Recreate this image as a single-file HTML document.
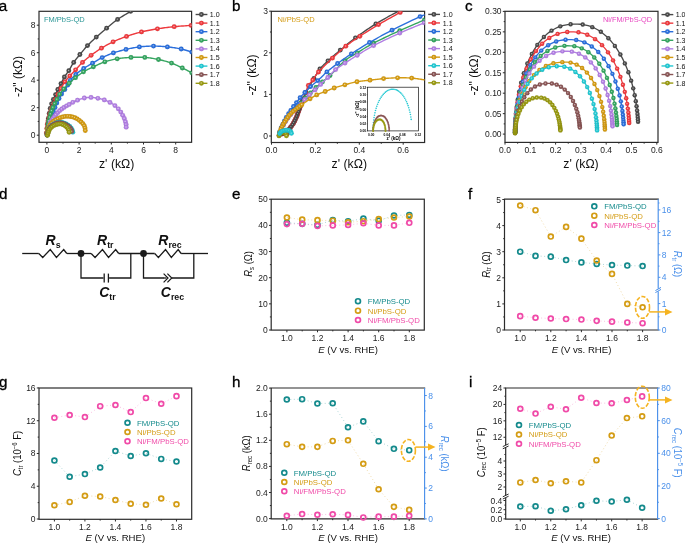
<!DOCTYPE html><html><head><meta charset="utf-8"><style>html,body{margin:0;padding:0;background:#fff;}svg{display:block;will-change:transform;}</style></head><body>
<svg width="685" height="544" viewBox="0 0 685 544" font-family='"Liberation Sans", sans-serif'>
<rect width="685" height="544" fill="#fff"/>
<defs>
<clipPath id="ca"><rect x="39" y="11.3" width="152.6" height="131"/></clipPath>
<clipPath id="cb"><rect x="271.3" y="11.3" width="153.3" height="131"/></clipPath>
<clipPath id="cc"><rect x="505" y="11.3" width="153" height="131"/></clipPath>
</defs>
<text x="-1.2" y="10.9" font-size="15.2" text-anchor="start" fill="#000" stroke="#000" stroke-width="0.3">a</text>
<text x="232" y="11" font-size="15.2" text-anchor="start" fill="#000" stroke="#000" stroke-width="0.3">b</text>
<text x="465" y="11" font-size="15.2" text-anchor="start" fill="#000" stroke="#000" stroke-width="0.3">c</text>
<text x="-1" y="199" font-size="15.2" text-anchor="start" fill="#000" stroke="#000" stroke-width="0.3">d</text>
<text x="232" y="199" font-size="15.2" text-anchor="start" fill="#000" stroke="#000" stroke-width="0.3">e</text>
<text x="468" y="199" font-size="15.2" text-anchor="start" fill="#000" stroke="#000" stroke-width="0.3">f</text>
<text x="-1" y="387" font-size="15.2" text-anchor="start" fill="#000" stroke="#000" stroke-width="0.3">g</text>
<text x="232" y="387" font-size="15.2" text-anchor="start" fill="#000" stroke="#000" stroke-width="0.3">h</text>
<text x="469" y="387" font-size="15.2" text-anchor="start" fill="#000" stroke="#000" stroke-width="0.3">i</text>
<rect x="39" y="11.3" width="152.6" height="131" fill="none" stroke="#2b2b2b" stroke-width="1.2"/>
<line x1="36.8" y1="135.2" x2="39" y2="135.2" stroke="#2b2b2b" stroke-width="1.0" />
<text x="35.6" y="138.2" font-size="8.5" text-anchor="end" fill="#222" >0</text>
<line x1="36.8" y1="107.7" x2="39" y2="107.7" stroke="#2b2b2b" stroke-width="1.0" />
<text x="35.6" y="110.7" font-size="8.5" text-anchor="end" fill="#222" >2</text>
<line x1="36.8" y1="80.2" x2="39" y2="80.2" stroke="#2b2b2b" stroke-width="1.0" />
<text x="35.6" y="83.2" font-size="8.5" text-anchor="end" fill="#222" >4</text>
<line x1="36.8" y1="52.7" x2="39" y2="52.7" stroke="#2b2b2b" stroke-width="1.0" />
<text x="35.6" y="55.7" font-size="8.5" text-anchor="end" fill="#222" >6</text>
<line x1="36.8" y1="25.2" x2="39" y2="25.2" stroke="#2b2b2b" stroke-width="1.0" />
<text x="35.6" y="28.2" font-size="8.5" text-anchor="end" fill="#222" >8</text>
<line x1="37.7" y1="121.45" x2="39" y2="121.45" stroke="#2b2b2b" stroke-width="1.0" />
<line x1="37.7" y1="93.95" x2="39" y2="93.95" stroke="#2b2b2b" stroke-width="1.0" />
<line x1="37.7" y1="66.45" x2="39" y2="66.45" stroke="#2b2b2b" stroke-width="1.0" />
<line x1="37.7" y1="38.95" x2="39" y2="38.95" stroke="#2b2b2b" stroke-width="1.0" />
<line x1="46.9" y1="142.3" x2="46.9" y2="144.5" stroke="#2b2b2b" stroke-width="1.0" />
<text x="46.9" y="153.3" font-size="8.5" text-anchor="middle" fill="#222" >0</text>
<line x1="79.1" y1="142.3" x2="79.1" y2="144.5" stroke="#2b2b2b" stroke-width="1.0" />
<text x="79.1" y="153.3" font-size="8.5" text-anchor="middle" fill="#222" >2</text>
<line x1="111.3" y1="142.3" x2="111.3" y2="144.5" stroke="#2b2b2b" stroke-width="1.0" />
<text x="111.3" y="153.3" font-size="8.5" text-anchor="middle" fill="#222" >4</text>
<line x1="143.5" y1="142.3" x2="143.5" y2="144.5" stroke="#2b2b2b" stroke-width="1.0" />
<text x="143.5" y="153.3" font-size="8.5" text-anchor="middle" fill="#222" >6</text>
<line x1="175.7" y1="142.3" x2="175.7" y2="144.5" stroke="#2b2b2b" stroke-width="1.0" />
<text x="175.7" y="153.3" font-size="8.5" text-anchor="middle" fill="#222" >8</text>
<line x1="63" y1="142.3" x2="63" y2="143.6" stroke="#2b2b2b" stroke-width="1.0" />
<line x1="95.2" y1="142.3" x2="95.2" y2="143.6" stroke="#2b2b2b" stroke-width="1.0" />
<line x1="127.4" y1="142.3" x2="127.4" y2="143.6" stroke="#2b2b2b" stroke-width="1.0" />
<line x1="159.6" y1="142.3" x2="159.6" y2="143.6" stroke="#2b2b2b" stroke-width="1.0" />
<text x="116.7" y="168" font-size="12.3" text-anchor="middle" fill="#111" >z' (kΩ)</text>
<text transform="translate(21.6,76.4) rotate(-90) scale(0.95,1)" font-size="12.8" text-anchor="middle" fill="#111">-z" (kΩ)</text>
<text x="43.9" y="22.4" font-size="7.5" text-anchor="start" fill="#2a9696" >FM/PbS-QD</text>
<line x1="195.6" y1="14.5" x2="207.4" y2="14.5" stroke="#4a4a4a" stroke-width="1.4" />
<circle cx="201.40" cy="14.50" r="2.4" fill="#4a4a4a" stroke="#000" stroke-opacity="0.12" stroke-width="0.4"/>
<circle cx="201.20" cy="14.25" r="0.72" fill="#fff" fill-opacity="0.55"/>
<text x="209.8" y="17.05" font-size="7.1" text-anchor="start" fill="#111" >1.0</text>
<line x1="195.6" y1="23.1" x2="207.4" y2="23.1" stroke="#ee3a3e" stroke-width="1.4" />
<circle cx="201.40" cy="23.10" r="2.4" fill="#ee3a3e" stroke="#000" stroke-opacity="0.12" stroke-width="0.4"/>
<circle cx="201.20" cy="22.85" r="0.72" fill="#fff" fill-opacity="0.55"/>
<text x="209.8" y="25.65" font-size="7.1" text-anchor="start" fill="#111" >1.1</text>
<line x1="195.6" y1="31.7" x2="207.4" y2="31.7" stroke="#2b6fdc" stroke-width="1.4" />
<circle cx="201.40" cy="31.70" r="2.4" fill="#2b6fdc" stroke="#000" stroke-opacity="0.12" stroke-width="0.4"/>
<circle cx="201.20" cy="31.45" r="0.72" fill="#fff" fill-opacity="0.55"/>
<text x="209.8" y="34.25" font-size="7.1" text-anchor="start" fill="#111" >1.2</text>
<line x1="195.6" y1="40.3" x2="207.4" y2="40.3" stroke="#35a560" stroke-width="1.4" />
<circle cx="201.40" cy="40.30" r="2.4" fill="#35a560" stroke="#000" stroke-opacity="0.12" stroke-width="0.4"/>
<circle cx="201.20" cy="40.05" r="0.72" fill="#fff" fill-opacity="0.55"/>
<text x="209.8" y="42.85" font-size="7.1" text-anchor="start" fill="#111" >1.3</text>
<line x1="195.6" y1="48.9" x2="207.4" y2="48.9" stroke="#b27fe3" stroke-width="1.4" />
<circle cx="201.40" cy="48.90" r="2.4" fill="#b27fe3" stroke="#000" stroke-opacity="0.12" stroke-width="0.4"/>
<circle cx="201.20" cy="48.65" r="0.72" fill="#fff" fill-opacity="0.55"/>
<text x="209.8" y="51.45" font-size="7.1" text-anchor="start" fill="#111" >1.4</text>
<line x1="195.6" y1="57.5" x2="207.4" y2="57.5" stroke="#d49b12" stroke-width="1.4" />
<circle cx="201.40" cy="57.50" r="2.4" fill="#d49b12" stroke="#000" stroke-opacity="0.12" stroke-width="0.4"/>
<circle cx="201.20" cy="57.25" r="0.72" fill="#fff" fill-opacity="0.55"/>
<text x="209.8" y="60.05" font-size="7.1" text-anchor="start" fill="#111" >1.5</text>
<line x1="195.6" y1="66.1" x2="207.4" y2="66.1" stroke="#22c8d2" stroke-width="1.4" />
<circle cx="201.40" cy="66.10" r="2.4" fill="#22c8d2" stroke="#000" stroke-opacity="0.12" stroke-width="0.4"/>
<circle cx="201.20" cy="65.85" r="0.72" fill="#fff" fill-opacity="0.55"/>
<text x="209.8" y="68.65" font-size="7.1" text-anchor="start" fill="#111" >1.6</text>
<line x1="195.6" y1="74.7" x2="207.4" y2="74.7" stroke="#8a5656" stroke-width="1.4" />
<circle cx="201.40" cy="74.70" r="2.4" fill="#8a5656" stroke="#000" stroke-opacity="0.12" stroke-width="0.4"/>
<circle cx="201.20" cy="74.45" r="0.72" fill="#fff" fill-opacity="0.55"/>
<text x="209.8" y="77.25" font-size="7.1" text-anchor="start" fill="#111" >1.7</text>
<line x1="195.6" y1="83.3" x2="207.4" y2="83.3" stroke="#999a12" stroke-width="1.4" />
<circle cx="201.40" cy="83.30" r="2.4" fill="#999a12" stroke="#000" stroke-opacity="0.12" stroke-width="0.4"/>
<circle cx="201.20" cy="83.05" r="0.72" fill="#fff" fill-opacity="0.55"/>
<text x="209.8" y="85.85" font-size="7.1" text-anchor="start" fill="#111" >1.8</text>
<g clip-path="url(#ca)">
<path d="M47.30,135.00 L47.31,134.68 L47.32,134.28 L47.33,133.80 L47.35,133.26 L47.36,132.68 L47.38,132.06 L47.40,131.43 L47.42,130.80 L47.44,130.17 L47.46,129.57 L47.48,129.01 L47.50,128.50 L47.52,128.03 L47.54,127.58 L47.56,127.14 L47.58,126.72 L47.60,126.31 L47.62,125.91 L47.65,125.51 L47.67,125.11 L47.70,124.71 L47.73,124.32 L47.76,123.91 L47.80,123.50 L47.84,123.08 L47.88,122.67 L47.92,122.25 L47.97,121.83 L48.02,121.42 L48.07,121.00 L48.12,120.58 L48.17,120.17 L48.23,119.75 L48.28,119.33 L48.34,118.92 L48.40,118.50 L48.46,118.08 L48.52,117.67 L48.58,117.25 L48.64,116.83 L48.71,116.42 L48.77,116.00 L48.84,115.58 L48.91,115.17 L48.98,114.75 L49.05,114.33 L49.13,113.92 L49.20,113.50 L49.28,113.08 L49.35,112.66 L49.43,112.24 L49.50,111.82 L49.58,111.40 L49.66,110.98 L49.74,110.56 L49.83,110.14 L49.92,109.73 L50.01,109.32 L50.10,108.91 L50.20,108.50 L50.30,108.10 L50.41,107.70 L50.51,107.30 L50.62,106.90 L50.73,106.51 L50.85,106.11 L50.97,105.72 L51.09,105.33 L51.21,104.95 L51.34,104.56 L51.47,104.18 L51.60,103.80 L51.73,103.42 L51.87,103.05 L52.01,102.69 L52.16,102.33 L52.30,101.97 L52.45,101.61 L52.60,101.25 L52.76,100.89 L52.91,100.52 L53.07,100.15 L53.23,99.78 L53.40,99.40 L53.57,99.01 L53.74,98.63 L53.92,98.24 L54.10,97.84 L54.29,97.44 L54.48,97.04 L54.66,96.64 L54.85,96.24 L55.04,95.83 L55.23,95.42 L55.42,95.01 L55.60,94.60 L55.78,94.19 L55.96,93.78 L56.13,93.36 L56.30,92.95 L56.47,92.54 L56.64,92.12 L56.81,91.70 L56.99,91.27 L57.18,90.84 L57.38,90.40 L57.58,89.95 L57.80,89.50 L58.03,89.04 L58.27,88.57 L58.52,88.10 L58.79,87.62 L59.05,87.13 L59.33,86.64 L59.60,86.15 L59.88,85.65 L60.16,85.14 L60.44,84.63 L60.72,84.12 L61.00,83.60 L61.27,83.07 L61.54,82.54 L61.81,81.99 L62.08,81.44 L62.35,80.88 L62.63,80.32 L62.90,79.76 L63.19,79.20 L63.48,78.65 L63.77,78.09 L64.08,77.54 L64.40,77.00 L64.73,76.47 L65.07,75.96 L65.42,75.45 L65.77,74.95 L66.14,74.46 L66.51,73.96 L66.88,73.45 L67.26,72.94 L67.64,72.41 L68.03,71.86 L68.41,71.29 L68.80,70.70 L69.19,70.08 L69.57,69.43 L69.96,68.76 L70.35,68.07 L70.74,67.36 L71.14,66.65 L71.54,65.93 L71.95,65.21 L72.37,64.49 L72.80,63.78 L73.24,63.08 L73.70,62.40 L74.17,61.73 L74.64,61.07 L75.13,60.42 L75.62,59.77 L76.12,59.13 L76.63,58.49 L77.15,57.84 L77.68,57.19 L78.22,56.54 L78.77,55.87 L79.33,55.19 L79.90,54.50 L80.48,53.79 L81.07,53.07 L81.67,52.34 L82.29,51.59 L82.91,50.84 L83.54,50.09 L84.18,49.33 L84.83,48.57 L85.48,47.82 L86.15,47.07 L86.82,46.33 L87.50,45.60 L88.19,44.88 L88.88,44.16 L89.58,43.46 L90.29,42.75 L91.01,42.05 L91.73,41.35 L92.47,40.65 L93.21,39.95 L93.97,39.24 L94.73,38.54 L95.51,37.82 L96.30,37.10 L97.10,36.37 L97.92,35.64 L98.75,34.90 L99.60,34.16 L100.45,33.41 L101.31,32.67 L102.18,31.92 L103.06,31.17 L103.94,30.43 L104.83,29.68 L105.71,28.94 L106.60,28.20 L107.49,27.46 L108.37,26.72 L109.25,25.98 L110.14,25.23 L111.03,24.49 L111.93,23.75 L112.83,23.01 L113.75,22.28 L114.69,21.55 L115.64,20.82 L116.61,20.11 L117.60,19.40 L118.63,18.69 L119.71,17.99 L120.82,17.28 L121.95,16.58 L123.10,15.88 L124.26,15.19 L125.40,14.51 L126.54,13.84 L127.64,13.18 L128.71,12.54 L129.73,11.91 L130.70,11.30 L131.64,10.69 L132.58,10.07 L133.51,9.45 L134.43,8.83 L135.32,8.23 L136.17,7.64 L136.98,7.09 L137.73,6.57 L138.42,6.09 L139.03,5.66 L139.56,5.30 L140.00,5.00" fill="none" stroke="#4a4a4a" stroke-width="1.4" stroke-linejoin="round"/>
<circle cx="47.30" cy="135.00" r="2.4" fill="#4a4a4a" stroke="#000" stroke-opacity="0.12" stroke-width="0.4"/>
<circle cx="47.10" cy="134.75" r="0.72" fill="#fff" fill-opacity="0.55"/>
<circle cx="47.50" cy="128.50" r="2.4" fill="#4a4a4a" stroke="#000" stroke-opacity="0.12" stroke-width="0.4"/>
<circle cx="47.30" cy="128.25" r="0.72" fill="#fff" fill-opacity="0.55"/>
<circle cx="47.80" cy="123.50" r="2.4" fill="#4a4a4a" stroke="#000" stroke-opacity="0.12" stroke-width="0.4"/>
<circle cx="47.60" cy="123.25" r="0.72" fill="#fff" fill-opacity="0.55"/>
<circle cx="48.40" cy="118.50" r="2.4" fill="#4a4a4a" stroke="#000" stroke-opacity="0.12" stroke-width="0.4"/>
<circle cx="48.20" cy="118.25" r="0.72" fill="#fff" fill-opacity="0.55"/>
<circle cx="49.20" cy="113.50" r="2.4" fill="#4a4a4a" stroke="#000" stroke-opacity="0.12" stroke-width="0.4"/>
<circle cx="49.00" cy="113.25" r="0.72" fill="#fff" fill-opacity="0.55"/>
<circle cx="50.20" cy="108.50" r="2.4" fill="#4a4a4a" stroke="#000" stroke-opacity="0.12" stroke-width="0.4"/>
<circle cx="50.00" cy="108.25" r="0.72" fill="#fff" fill-opacity="0.55"/>
<circle cx="51.60" cy="103.80" r="2.4" fill="#4a4a4a" stroke="#000" stroke-opacity="0.12" stroke-width="0.4"/>
<circle cx="51.40" cy="103.55" r="0.72" fill="#fff" fill-opacity="0.55"/>
<circle cx="53.40" cy="99.40" r="2.4" fill="#4a4a4a" stroke="#000" stroke-opacity="0.12" stroke-width="0.4"/>
<circle cx="53.20" cy="99.15" r="0.72" fill="#fff" fill-opacity="0.55"/>
<circle cx="55.60" cy="94.60" r="2.4" fill="#4a4a4a" stroke="#000" stroke-opacity="0.12" stroke-width="0.4"/>
<circle cx="55.40" cy="94.35" r="0.72" fill="#fff" fill-opacity="0.55"/>
<circle cx="57.80" cy="89.50" r="2.4" fill="#4a4a4a" stroke="#000" stroke-opacity="0.12" stroke-width="0.4"/>
<circle cx="57.60" cy="89.25" r="0.72" fill="#fff" fill-opacity="0.55"/>
<circle cx="61.00" cy="83.60" r="2.4" fill="#4a4a4a" stroke="#000" stroke-opacity="0.12" stroke-width="0.4"/>
<circle cx="60.80" cy="83.35" r="0.72" fill="#fff" fill-opacity="0.55"/>
<circle cx="64.40" cy="77.00" r="2.4" fill="#4a4a4a" stroke="#000" stroke-opacity="0.12" stroke-width="0.4"/>
<circle cx="64.20" cy="76.75" r="0.72" fill="#fff" fill-opacity="0.55"/>
<circle cx="68.80" cy="70.70" r="2.4" fill="#4a4a4a" stroke="#000" stroke-opacity="0.12" stroke-width="0.4"/>
<circle cx="68.60" cy="70.45" r="0.72" fill="#fff" fill-opacity="0.55"/>
<circle cx="73.70" cy="62.40" r="2.4" fill="#4a4a4a" stroke="#000" stroke-opacity="0.12" stroke-width="0.4"/>
<circle cx="73.50" cy="62.15" r="0.72" fill="#fff" fill-opacity="0.55"/>
<circle cx="79.90" cy="54.50" r="2.4" fill="#4a4a4a" stroke="#000" stroke-opacity="0.12" stroke-width="0.4"/>
<circle cx="79.70" cy="54.25" r="0.72" fill="#fff" fill-opacity="0.55"/>
<circle cx="87.50" cy="45.60" r="2.4" fill="#4a4a4a" stroke="#000" stroke-opacity="0.12" stroke-width="0.4"/>
<circle cx="87.30" cy="45.35" r="0.72" fill="#fff" fill-opacity="0.55"/>
<circle cx="96.30" cy="37.10" r="2.4" fill="#4a4a4a" stroke="#000" stroke-opacity="0.12" stroke-width="0.4"/>
<circle cx="96.10" cy="36.85" r="0.72" fill="#fff" fill-opacity="0.55"/>
<circle cx="106.60" cy="28.20" r="2.4" fill="#4a4a4a" stroke="#000" stroke-opacity="0.12" stroke-width="0.4"/>
<circle cx="106.40" cy="27.95" r="0.72" fill="#fff" fill-opacity="0.55"/>
<circle cx="117.60" cy="19.40" r="2.4" fill="#4a4a4a" stroke="#000" stroke-opacity="0.12" stroke-width="0.4"/>
<circle cx="117.40" cy="19.15" r="0.72" fill="#fff" fill-opacity="0.55"/>
<circle cx="130.70" cy="11.30" r="2.4" fill="#4a4a4a" stroke="#000" stroke-opacity="0.12" stroke-width="0.4"/>
<circle cx="130.50" cy="11.05" r="0.72" fill="#fff" fill-opacity="0.55"/>
</g>
<g clip-path="url(#ca)">
<path d="M46.40,133.00 L46.42,132.78 L46.44,132.50 L46.47,132.18 L46.50,131.81 L46.53,131.42 L46.57,131.00 L46.61,130.57 L46.64,130.13 L46.68,129.70 L46.72,129.27 L46.76,128.87 L46.80,128.50 L46.84,128.15 L46.88,127.80 L46.91,127.45 L46.95,127.11 L46.99,126.77 L47.03,126.44 L47.07,126.11 L47.11,125.78 L47.16,125.45 L47.20,125.13 L47.25,124.81 L47.30,124.50 L47.35,124.19 L47.40,123.89 L47.45,123.59 L47.51,123.30 L47.56,123.02 L47.62,122.73 L47.68,122.45 L47.74,122.16 L47.80,121.88 L47.86,121.59 L47.93,121.30 L48.00,121.00 L48.07,120.70 L48.15,120.39 L48.23,120.08 L48.32,119.77 L48.41,119.45 L48.49,119.14 L48.58,118.82 L48.67,118.51 L48.76,118.20 L48.84,117.90 L48.92,117.59 L49.00,117.30 L49.07,117.01 L49.14,116.73 L49.21,116.45 L49.27,116.17 L49.33,115.90 L49.39,115.62 L49.46,115.35 L49.52,115.09 L49.58,114.82 L49.65,114.55 L49.72,114.27 L49.80,114.00 L49.88,113.72 L49.96,113.45 L50.05,113.17 L50.14,112.90 L50.23,112.62 L50.32,112.35 L50.41,112.08 L50.51,111.80 L50.60,111.53 L50.70,111.25 L50.80,110.98 L50.90,110.70 L51.00,110.43 L51.10,110.16 L51.20,109.89 L51.31,109.62 L51.41,109.35 L51.52,109.08 L51.63,108.81 L51.74,108.54 L51.85,108.26 L51.96,107.98 L52.08,107.69 L52.20,107.40 L52.32,107.10 L52.45,106.80 L52.57,106.50 L52.70,106.19 L52.84,105.88 L52.97,105.56 L53.10,105.24 L53.24,104.92 L53.38,104.60 L53.52,104.27 L53.66,103.94 L53.80,103.60 L53.94,103.26 L54.08,102.92 L54.22,102.57 L54.36,102.22 L54.51,101.87 L54.65,101.51 L54.80,101.15 L54.95,100.79 L55.10,100.42 L55.26,100.05 L55.43,99.68 L55.60,99.30 L55.78,98.92 L55.96,98.54 L56.14,98.17 L56.33,97.79 L56.53,97.40 L56.73,97.01 L56.93,96.62 L57.13,96.21 L57.34,95.80 L57.56,95.38 L57.78,94.95 L58.00,94.50 L58.23,94.04 L58.45,93.56 L58.69,93.08 L58.92,92.58 L59.16,92.08 L59.41,91.56 L59.66,91.04 L59.91,90.52 L60.17,89.99 L60.44,89.46 L60.72,88.93 L61.00,88.40 L61.29,87.87 L61.59,87.32 L61.89,86.77 L62.20,86.21 L62.51,85.65 L62.83,85.09 L63.16,84.53 L63.49,83.97 L63.83,83.41 L64.18,82.87 L64.54,82.33 L64.90,81.80 L65.27,81.28 L65.65,80.78 L66.03,80.28 L66.43,79.79 L66.83,79.30 L67.23,78.82 L67.64,78.34 L68.06,77.86 L68.49,77.37 L68.92,76.89 L69.36,76.40 L69.80,75.90 L70.25,75.40 L70.70,74.91 L71.16,74.42 L71.63,73.93 L72.10,73.44 L72.58,72.94 L73.06,72.44 L73.55,71.94 L74.05,71.42 L74.56,70.89 L75.08,70.35 L75.60,69.80 L76.13,69.23 L76.67,68.64 L77.21,68.03 L77.76,67.42 L78.31,66.79 L78.87,66.16 L79.45,65.53 L80.03,64.89 L80.63,64.26 L81.24,63.63 L81.86,63.01 L82.50,62.40 L83.15,61.80 L83.82,61.20 L84.49,60.60 L85.18,60.01 L85.88,59.42 L86.59,58.83 L87.31,58.24 L88.04,57.66 L88.79,57.07 L89.55,56.48 L90.32,55.89 L91.10,55.30 L91.89,54.71 L92.70,54.11 L93.52,53.51 L94.36,52.91 L95.20,52.31 L96.06,51.71 L96.92,51.11 L97.80,50.51 L98.69,49.93 L99.58,49.34 L100.49,48.77 L101.40,48.20 L102.32,47.64 L103.25,47.08 L104.19,46.53 L105.13,45.98 L106.09,45.43 L107.06,44.89 L108.03,44.36 L109.02,43.83 L110.02,43.31 L111.04,42.80 L112.06,42.30 L113.10,41.80 L114.15,41.31 L115.22,40.83 L116.29,40.36 L117.38,39.89 L118.48,39.43 L119.59,38.98 L120.72,38.54 L121.85,38.10 L123.00,37.66 L124.15,37.24 L125.32,36.82 L126.50,36.40 L127.69,35.99 L128.90,35.58 L130.11,35.18 L131.34,34.78 L132.59,34.39 L133.84,34.01 L135.10,33.63 L136.37,33.26 L137.64,32.91 L138.92,32.56 L140.21,32.22 L141.50,31.90 L142.80,31.59 L144.10,31.29 L145.41,31.00 L146.73,30.73 L148.06,30.46 L149.39,30.20 L150.73,29.95 L152.08,29.71 L153.43,29.47 L154.78,29.24 L156.14,29.02 L157.50,28.80 L158.87,28.59 L160.24,28.38 L161.62,28.19 L163.00,28.00 L164.39,27.81 L165.79,27.64 L167.18,27.47 L168.59,27.30 L169.99,27.15 L171.39,26.99 L172.80,26.84 L174.20,26.70 L175.63,26.56 L177.11,26.43 L178.62,26.30 L180.15,26.17 L181.68,26.06 L183.19,25.94 L184.68,25.84 L186.13,25.74 L187.52,25.64 L188.84,25.56 L190.07,25.47 L191.20,25.40 L192.25,25.33 L193.24,25.28 L194.18,25.23 L195.07,25.19 L195.89,25.15 L196.66,25.12 L197.37,25.09 L198.02,25.07 L198.61,25.05 L199.14,25.03 L199.60,25.02 L200.00,25.00" fill="none" stroke="#ee3a3e" stroke-width="1.4" stroke-linejoin="round"/>
<circle cx="46.40" cy="133.00" r="2.4" fill="#ee3a3e" stroke="#000" stroke-opacity="0.12" stroke-width="0.4"/>
<circle cx="46.20" cy="132.75" r="0.72" fill="#fff" fill-opacity="0.55"/>
<circle cx="46.80" cy="128.50" r="2.4" fill="#ee3a3e" stroke="#000" stroke-opacity="0.12" stroke-width="0.4"/>
<circle cx="46.60" cy="128.25" r="0.72" fill="#fff" fill-opacity="0.55"/>
<circle cx="47.30" cy="124.50" r="2.4" fill="#ee3a3e" stroke="#000" stroke-opacity="0.12" stroke-width="0.4"/>
<circle cx="47.10" cy="124.25" r="0.72" fill="#fff" fill-opacity="0.55"/>
<circle cx="48.00" cy="121.00" r="2.4" fill="#ee3a3e" stroke="#000" stroke-opacity="0.12" stroke-width="0.4"/>
<circle cx="47.80" cy="120.75" r="0.72" fill="#fff" fill-opacity="0.55"/>
<circle cx="49.00" cy="117.30" r="2.4" fill="#ee3a3e" stroke="#000" stroke-opacity="0.12" stroke-width="0.4"/>
<circle cx="48.80" cy="117.05" r="0.72" fill="#fff" fill-opacity="0.55"/>
<circle cx="49.80" cy="114.00" r="2.4" fill="#ee3a3e" stroke="#000" stroke-opacity="0.12" stroke-width="0.4"/>
<circle cx="49.60" cy="113.75" r="0.72" fill="#fff" fill-opacity="0.55"/>
<circle cx="50.90" cy="110.70" r="2.4" fill="#ee3a3e" stroke="#000" stroke-opacity="0.12" stroke-width="0.4"/>
<circle cx="50.70" cy="110.45" r="0.72" fill="#fff" fill-opacity="0.55"/>
<circle cx="52.20" cy="107.40" r="2.4" fill="#ee3a3e" stroke="#000" stroke-opacity="0.12" stroke-width="0.4"/>
<circle cx="52.00" cy="107.15" r="0.72" fill="#fff" fill-opacity="0.55"/>
<circle cx="53.80" cy="103.60" r="2.4" fill="#ee3a3e" stroke="#000" stroke-opacity="0.12" stroke-width="0.4"/>
<circle cx="53.60" cy="103.35" r="0.72" fill="#fff" fill-opacity="0.55"/>
<circle cx="55.60" cy="99.30" r="2.4" fill="#ee3a3e" stroke="#000" stroke-opacity="0.12" stroke-width="0.4"/>
<circle cx="55.40" cy="99.05" r="0.72" fill="#fff" fill-opacity="0.55"/>
<circle cx="58.00" cy="94.50" r="2.4" fill="#ee3a3e" stroke="#000" stroke-opacity="0.12" stroke-width="0.4"/>
<circle cx="57.80" cy="94.25" r="0.72" fill="#fff" fill-opacity="0.55"/>
<circle cx="61.00" cy="88.40" r="2.4" fill="#ee3a3e" stroke="#000" stroke-opacity="0.12" stroke-width="0.4"/>
<circle cx="60.80" cy="88.15" r="0.72" fill="#fff" fill-opacity="0.55"/>
<circle cx="64.90" cy="81.80" r="2.4" fill="#ee3a3e" stroke="#000" stroke-opacity="0.12" stroke-width="0.4"/>
<circle cx="64.70" cy="81.55" r="0.72" fill="#fff" fill-opacity="0.55"/>
<circle cx="69.80" cy="75.90" r="2.4" fill="#ee3a3e" stroke="#000" stroke-opacity="0.12" stroke-width="0.4"/>
<circle cx="69.60" cy="75.65" r="0.72" fill="#fff" fill-opacity="0.55"/>
<circle cx="75.60" cy="69.80" r="2.4" fill="#ee3a3e" stroke="#000" stroke-opacity="0.12" stroke-width="0.4"/>
<circle cx="75.40" cy="69.55" r="0.72" fill="#fff" fill-opacity="0.55"/>
<circle cx="82.50" cy="62.40" r="2.4" fill="#ee3a3e" stroke="#000" stroke-opacity="0.12" stroke-width="0.4"/>
<circle cx="82.30" cy="62.15" r="0.72" fill="#fff" fill-opacity="0.55"/>
<circle cx="91.10" cy="55.30" r="2.4" fill="#ee3a3e" stroke="#000" stroke-opacity="0.12" stroke-width="0.4"/>
<circle cx="90.90" cy="55.05" r="0.72" fill="#fff" fill-opacity="0.55"/>
<circle cx="101.40" cy="48.20" r="2.4" fill="#ee3a3e" stroke="#000" stroke-opacity="0.12" stroke-width="0.4"/>
<circle cx="101.20" cy="47.95" r="0.72" fill="#fff" fill-opacity="0.55"/>
<circle cx="113.10" cy="41.80" r="2.4" fill="#ee3a3e" stroke="#000" stroke-opacity="0.12" stroke-width="0.4"/>
<circle cx="112.90" cy="41.55" r="0.72" fill="#fff" fill-opacity="0.55"/>
<circle cx="126.50" cy="36.40" r="2.4" fill="#ee3a3e" stroke="#000" stroke-opacity="0.12" stroke-width="0.4"/>
<circle cx="126.30" cy="36.15" r="0.72" fill="#fff" fill-opacity="0.55"/>
<circle cx="141.50" cy="31.90" r="2.4" fill="#ee3a3e" stroke="#000" stroke-opacity="0.12" stroke-width="0.4"/>
<circle cx="141.30" cy="31.65" r="0.72" fill="#fff" fill-opacity="0.55"/>
<circle cx="157.50" cy="28.80" r="2.4" fill="#ee3a3e" stroke="#000" stroke-opacity="0.12" stroke-width="0.4"/>
<circle cx="157.30" cy="28.55" r="0.72" fill="#fff" fill-opacity="0.55"/>
<circle cx="174.20" cy="26.70" r="2.4" fill="#ee3a3e" stroke="#000" stroke-opacity="0.12" stroke-width="0.4"/>
<circle cx="174.00" cy="26.45" r="0.72" fill="#fff" fill-opacity="0.55"/>
<circle cx="191.20" cy="25.40" r="2.4" fill="#ee3a3e" stroke="#000" stroke-opacity="0.12" stroke-width="0.4"/>
<circle cx="191.00" cy="25.15" r="0.72" fill="#fff" fill-opacity="0.55"/>
</g>
<g clip-path="url(#ca)">
<path d="M48.30,131.00 L48.36,130.76 L48.43,130.46 L48.51,130.10 L48.61,129.70 L48.71,129.27 L48.82,128.81 L48.93,128.34 L49.05,127.85 L49.16,127.37 L49.28,126.89 L49.39,126.43 L49.50,126.00 L49.60,125.58 L49.71,125.16 L49.82,124.74 L49.93,124.31 L50.03,123.89 L50.14,123.47 L50.25,123.05 L50.36,122.63 L50.47,122.21 L50.58,121.80 L50.69,121.40 L50.80,121.00 L50.91,120.61 L51.02,120.22 L51.12,119.84 L51.23,119.46 L51.34,119.09 L51.44,118.72 L51.55,118.35 L51.66,117.98 L51.77,117.61 L51.88,117.24 L51.99,116.87 L52.10,116.50 L52.21,116.12 L52.33,115.75 L52.44,115.38 L52.56,115.00 L52.67,114.62 L52.79,114.25 L52.90,113.88 L53.02,113.50 L53.14,113.12 L53.26,112.75 L53.38,112.38 L53.50,112.00 L53.62,111.62 L53.74,111.25 L53.86,110.88 L53.98,110.50 L54.10,110.12 L54.23,109.75 L54.35,109.38 L54.47,109.00 L54.60,108.62 L54.73,108.25 L54.86,107.88 L55.00,107.50 L55.14,107.12 L55.28,106.75 L55.42,106.38 L55.56,106.00 L55.71,105.62 L55.86,105.25 L56.01,104.88 L56.16,104.50 L56.31,104.12 L56.47,103.75 L56.64,103.38 L56.80,103.00 L56.97,102.62 L57.14,102.25 L57.31,101.88 L57.49,101.50 L57.67,101.12 L57.85,100.75 L58.03,100.38 L58.22,100.00 L58.41,99.62 L58.61,99.25 L58.80,98.88 L59.00,98.50 L59.20,98.12 L59.40,97.75 L59.61,97.38 L59.81,97.00 L60.02,96.62 L60.24,96.25 L60.45,95.88 L60.67,95.50 L60.90,95.12 L61.13,94.75 L61.36,94.38 L61.60,94.00 L61.85,93.62 L62.10,93.25 L62.36,92.88 L62.63,92.50 L62.90,92.12 L63.17,91.75 L63.45,91.38 L63.73,91.00 L64.00,90.62 L64.27,90.25 L64.54,89.88 L64.80,89.50 L65.06,89.13 L65.32,88.75 L65.58,88.38 L65.83,88.01 L66.09,87.64 L66.34,87.26 L66.60,86.89 L66.84,86.51 L67.09,86.14 L67.33,85.76 L67.57,85.38 L67.80,85.00 L68.02,84.62 L68.21,84.24 L68.39,83.87 L68.56,83.49 L68.73,83.12 L68.89,82.74 L69.07,82.35 L69.26,81.96 L69.48,81.56 L69.72,81.16 L69.99,80.73 L70.30,80.30 L70.65,79.85 L71.02,79.39 L71.41,78.91 L71.82,78.42 L72.26,77.93 L72.71,77.43 L73.19,76.92 L73.68,76.41 L74.19,75.90 L74.71,75.40 L75.25,74.90 L75.80,74.40 L76.37,73.91 L76.97,73.41 L77.59,72.91 L78.22,72.41 L78.88,71.91 L79.54,71.41 L80.22,70.92 L80.91,70.42 L81.61,69.93 L82.30,69.45 L83.00,68.97 L83.70,68.50 L84.40,68.04 L85.10,67.59 L85.82,67.14 L86.53,66.70 L87.26,66.26 L87.99,65.83 L88.72,65.40 L89.47,64.97 L90.22,64.53 L90.97,64.09 L91.73,63.65 L92.50,63.20 L93.27,62.74 L94.05,62.27 L94.83,61.80 L95.61,61.32 L96.40,60.84 L97.20,60.36 L98.01,59.88 L98.82,59.41 L99.65,58.94 L100.49,58.48 L101.34,58.04 L102.20,57.60 L103.08,57.17 L103.96,56.75 L104.86,56.33 L105.77,55.92 L106.69,55.52 L107.62,55.12 L108.56,54.73 L109.51,54.34 L110.47,53.97 L111.43,53.60 L112.41,53.25 L113.40,52.90 L114.40,52.56 L115.41,52.24 L116.43,51.92 L117.47,51.61 L118.51,51.31 L119.56,51.01 L120.62,50.73 L121.69,50.45 L122.76,50.18 L123.84,49.91 L124.92,49.65 L126.00,49.40 L127.09,49.15 L128.18,48.91 L129.28,48.66 L130.38,48.43 L131.49,48.20 L132.61,47.98 L133.73,47.77 L134.85,47.57 L135.98,47.38 L137.12,47.21 L138.26,47.05 L139.40,46.90 L140.55,46.77 L141.71,46.65 L142.88,46.54 L144.06,46.45 L145.24,46.37 L146.42,46.29 L147.60,46.23 L148.79,46.19 L149.97,46.15 L151.15,46.12 L152.33,46.11 L153.50,46.10 L154.67,46.11 L155.83,46.13 L156.99,46.16 L158.15,46.20 L159.31,46.25 L160.47,46.32 L161.63,46.39 L162.78,46.48 L163.94,46.57 L165.09,46.67 L166.25,46.78 L167.40,46.90 L168.56,47.03 L169.74,47.16 L170.93,47.31 L172.13,47.47 L173.32,47.63 L174.51,47.81 L175.69,47.99 L176.85,48.18 L177.98,48.37 L179.09,48.58 L180.17,48.79 L181.20,49.00 L182.20,49.22 L183.17,49.46 L184.11,49.71 L185.03,49.97 L185.92,50.23 L186.79,50.50 L187.65,50.77 L188.49,51.04 L189.31,51.32 L190.12,51.58 L190.91,51.85 L191.70,52.10 L192.50,52.36 L193.31,52.63 L194.12,52.91 L194.94,53.19 L195.73,53.47 L196.51,53.74 L197.24,54.01 L197.93,54.26 L198.56,54.48 L199.12,54.69 L199.61,54.86 L200.00,55.00" fill="none" stroke="#2b6fdc" stroke-width="1.4" stroke-linejoin="round"/>
<circle cx="48.30" cy="131.00" r="2.4" fill="#2b6fdc" stroke="#000" stroke-opacity="0.12" stroke-width="0.4"/>
<circle cx="48.10" cy="130.75" r="0.72" fill="#fff" fill-opacity="0.55"/>
<circle cx="49.50" cy="126.00" r="2.4" fill="#2b6fdc" stroke="#000" stroke-opacity="0.12" stroke-width="0.4"/>
<circle cx="49.30" cy="125.75" r="0.72" fill="#fff" fill-opacity="0.55"/>
<circle cx="50.80" cy="121.00" r="2.4" fill="#2b6fdc" stroke="#000" stroke-opacity="0.12" stroke-width="0.4"/>
<circle cx="50.60" cy="120.75" r="0.72" fill="#fff" fill-opacity="0.55"/>
<circle cx="52.10" cy="116.50" r="2.4" fill="#2b6fdc" stroke="#000" stroke-opacity="0.12" stroke-width="0.4"/>
<circle cx="51.90" cy="116.25" r="0.72" fill="#fff" fill-opacity="0.55"/>
<circle cx="53.50" cy="112.00" r="2.4" fill="#2b6fdc" stroke="#000" stroke-opacity="0.12" stroke-width="0.4"/>
<circle cx="53.30" cy="111.75" r="0.72" fill="#fff" fill-opacity="0.55"/>
<circle cx="55.00" cy="107.50" r="2.4" fill="#2b6fdc" stroke="#000" stroke-opacity="0.12" stroke-width="0.4"/>
<circle cx="54.80" cy="107.25" r="0.72" fill="#fff" fill-opacity="0.55"/>
<circle cx="56.80" cy="103.00" r="2.4" fill="#2b6fdc" stroke="#000" stroke-opacity="0.12" stroke-width="0.4"/>
<circle cx="56.60" cy="102.75" r="0.72" fill="#fff" fill-opacity="0.55"/>
<circle cx="59.00" cy="98.50" r="2.4" fill="#2b6fdc" stroke="#000" stroke-opacity="0.12" stroke-width="0.4"/>
<circle cx="58.80" cy="98.25" r="0.72" fill="#fff" fill-opacity="0.55"/>
<circle cx="61.60" cy="94.00" r="2.4" fill="#2b6fdc" stroke="#000" stroke-opacity="0.12" stroke-width="0.4"/>
<circle cx="61.40" cy="93.75" r="0.72" fill="#fff" fill-opacity="0.55"/>
<circle cx="64.80" cy="89.50" r="2.4" fill="#2b6fdc" stroke="#000" stroke-opacity="0.12" stroke-width="0.4"/>
<circle cx="64.60" cy="89.25" r="0.72" fill="#fff" fill-opacity="0.55"/>
<circle cx="67.80" cy="85.00" r="2.4" fill="#2b6fdc" stroke="#000" stroke-opacity="0.12" stroke-width="0.4"/>
<circle cx="67.60" cy="84.75" r="0.72" fill="#fff" fill-opacity="0.55"/>
<circle cx="70.30" cy="80.30" r="2.4" fill="#2b6fdc" stroke="#000" stroke-opacity="0.12" stroke-width="0.4"/>
<circle cx="70.10" cy="80.05" r="0.72" fill="#fff" fill-opacity="0.55"/>
<circle cx="75.80" cy="74.40" r="2.4" fill="#2b6fdc" stroke="#000" stroke-opacity="0.12" stroke-width="0.4"/>
<circle cx="75.60" cy="74.15" r="0.72" fill="#fff" fill-opacity="0.55"/>
<circle cx="83.70" cy="68.50" r="2.4" fill="#2b6fdc" stroke="#000" stroke-opacity="0.12" stroke-width="0.4"/>
<circle cx="83.50" cy="68.25" r="0.72" fill="#fff" fill-opacity="0.55"/>
<circle cx="92.50" cy="63.20" r="2.4" fill="#2b6fdc" stroke="#000" stroke-opacity="0.12" stroke-width="0.4"/>
<circle cx="92.30" cy="62.95" r="0.72" fill="#fff" fill-opacity="0.55"/>
<circle cx="102.20" cy="57.60" r="2.4" fill="#2b6fdc" stroke="#000" stroke-opacity="0.12" stroke-width="0.4"/>
<circle cx="102.00" cy="57.35" r="0.72" fill="#fff" fill-opacity="0.55"/>
<circle cx="113.40" cy="52.90" r="2.4" fill="#2b6fdc" stroke="#000" stroke-opacity="0.12" stroke-width="0.4"/>
<circle cx="113.20" cy="52.65" r="0.72" fill="#fff" fill-opacity="0.55"/>
<circle cx="126.00" cy="49.40" r="2.4" fill="#2b6fdc" stroke="#000" stroke-opacity="0.12" stroke-width="0.4"/>
<circle cx="125.80" cy="49.15" r="0.72" fill="#fff" fill-opacity="0.55"/>
<circle cx="139.40" cy="46.90" r="2.4" fill="#2b6fdc" stroke="#000" stroke-opacity="0.12" stroke-width="0.4"/>
<circle cx="139.20" cy="46.65" r="0.72" fill="#fff" fill-opacity="0.55"/>
<circle cx="153.50" cy="46.10" r="2.4" fill="#2b6fdc" stroke="#000" stroke-opacity="0.12" stroke-width="0.4"/>
<circle cx="153.30" cy="45.85" r="0.72" fill="#fff" fill-opacity="0.55"/>
<circle cx="167.40" cy="46.90" r="2.4" fill="#2b6fdc" stroke="#000" stroke-opacity="0.12" stroke-width="0.4"/>
<circle cx="167.20" cy="46.65" r="0.72" fill="#fff" fill-opacity="0.55"/>
<circle cx="181.20" cy="49.00" r="2.4" fill="#2b6fdc" stroke="#000" stroke-opacity="0.12" stroke-width="0.4"/>
<circle cx="181.00" cy="48.75" r="0.72" fill="#fff" fill-opacity="0.55"/>
<circle cx="191.70" cy="52.10" r="2.4" fill="#2b6fdc" stroke="#000" stroke-opacity="0.12" stroke-width="0.4"/>
<circle cx="191.50" cy="51.85" r="0.72" fill="#fff" fill-opacity="0.55"/>
</g>
<g clip-path="url(#ca)">
<path d="M46.90,133.00 L46.92,132.78 L46.95,132.50 L46.99,132.18 L47.03,131.81 L47.07,131.42 L47.11,131.00 L47.16,130.57 L47.21,130.13 L47.26,129.70 L47.31,129.27 L47.35,128.87 L47.40,128.50 L47.45,128.15 L47.49,127.80 L47.54,127.45 L47.59,127.11 L47.64,126.77 L47.69,126.44 L47.74,126.11 L47.80,125.78 L47.85,125.45 L47.90,125.13 L47.95,124.81 L48.00,124.50 L48.05,124.19 L48.09,123.89 L48.14,123.59 L48.18,123.30 L48.22,123.02 L48.27,122.73 L48.31,122.45 L48.36,122.16 L48.41,121.88 L48.47,121.59 L48.53,121.30 L48.60,121.00 L48.68,120.70 L48.76,120.39 L48.85,120.08 L48.94,119.77 L49.04,119.45 L49.14,119.14 L49.24,118.82 L49.34,118.51 L49.43,118.20 L49.53,117.90 L49.62,117.59 L49.70,117.30 L49.78,117.01 L49.85,116.73 L49.91,116.45 L49.98,116.17 L50.04,115.90 L50.10,115.62 L50.16,115.35 L50.22,115.09 L50.29,114.82 L50.35,114.55 L50.42,114.27 L50.50,114.00 L50.58,113.72 L50.66,113.45 L50.75,113.17 L50.84,112.90 L50.93,112.62 L51.02,112.35 L51.11,112.08 L51.21,111.80 L51.30,111.53 L51.40,111.25 L51.50,110.98 L51.60,110.70 L51.70,110.43 L51.80,110.16 L51.90,109.89 L52.00,109.62 L52.10,109.35 L52.21,109.08 L52.31,108.81 L52.42,108.54 L52.54,108.26 L52.65,107.98 L52.77,107.69 L52.90,107.40 L53.03,107.10 L53.17,106.80 L53.31,106.49 L53.45,106.19 L53.59,105.87 L53.74,105.56 L53.90,105.24 L54.05,104.91 L54.21,104.59 L54.37,104.26 L54.53,103.93 L54.70,103.60 L54.87,103.27 L55.04,102.93 L55.21,102.60 L55.39,102.26 L55.56,101.92 L55.74,101.58 L55.93,101.23 L56.11,100.88 L56.31,100.52 L56.50,100.16 L56.70,99.78 L56.90,99.40 L57.10,99.01 L57.30,98.60 L57.51,98.19 L57.71,97.77 L57.92,97.35 L58.13,96.92 L58.35,96.48 L58.58,96.05 L58.81,95.61 L59.06,95.17 L59.32,94.73 L59.60,94.30 L59.89,93.87 L60.19,93.43 L60.49,93.00 L60.81,92.57 L61.14,92.13 L61.48,91.69 L61.82,91.25 L62.18,90.81 L62.54,90.36 L62.92,89.91 L63.30,89.46 L63.70,89.00 L64.11,88.53 L64.53,88.06 L64.96,87.58 L65.40,87.09 L65.85,86.60 L66.31,86.11 L66.78,85.62 L67.26,85.13 L67.74,84.64 L68.22,84.16 L68.71,83.67 L69.20,83.20 L69.69,82.73 L70.18,82.27 L70.68,81.81 L71.18,81.36 L71.68,80.91 L72.19,80.46 L72.71,80.00 L73.24,79.55 L73.79,79.10 L74.34,78.64 L74.91,78.17 L75.50,77.70 L76.10,77.22 L76.71,76.73 L77.34,76.23 L77.97,75.73 L78.62,75.22 L79.28,74.72 L79.95,74.21 L80.63,73.71 L81.33,73.22 L82.04,72.74 L82.76,72.26 L83.50,71.80 L84.25,71.35 L85.02,70.91 L85.80,70.49 L86.60,70.07 L87.41,69.65 L88.23,69.24 L89.07,68.84 L89.91,68.43 L90.77,68.03 L91.64,67.62 L92.51,67.21 L93.40,66.80 L94.30,66.38 L95.21,65.94 L96.14,65.50 L97.09,65.06 L98.04,64.62 L99.00,64.17 L99.97,63.74 L100.95,63.32 L101.93,62.91 L102.92,62.52 L103.91,62.15 L104.90,61.80 L105.89,61.47 L106.89,61.17 L107.88,60.87 L108.89,60.59 L109.89,60.33 L110.91,60.07 L111.93,59.84 L112.96,59.61 L114.00,59.39 L115.05,59.18 L116.12,58.99 L117.20,58.80 L118.30,58.62 L119.41,58.46 L120.54,58.30 L121.69,58.16 L122.84,58.03 L124.01,57.91 L125.17,57.80 L126.34,57.70 L127.51,57.61 L128.68,57.53 L129.85,57.46 L131.00,57.40 L132.15,57.34 L133.30,57.29 L134.45,57.25 L135.60,57.22 L136.76,57.19 L137.91,57.18 L139.06,57.18 L140.21,57.19 L141.36,57.22 L142.51,57.26 L143.65,57.32 L144.80,57.40 L145.95,57.50 L147.10,57.61 L148.25,57.74 L149.40,57.89 L150.55,58.05 L151.70,58.22 L152.85,58.41 L153.99,58.61 L155.13,58.82 L156.26,59.04 L157.38,59.27 L158.50,59.50 L159.61,59.74 L160.73,60.00 L161.85,60.26 L162.97,60.54 L164.08,60.83 L165.18,61.12 L166.27,61.43 L167.36,61.75 L168.42,62.07 L169.47,62.41 L170.50,62.75 L171.50,63.10 L172.48,63.46 L173.44,63.84 L174.39,64.24 L175.31,64.64 L176.23,65.05 L177.12,65.47 L178.01,65.90 L178.89,66.33 L179.75,66.75 L180.61,67.17 L181.46,67.59 L182.30,68.00 L183.14,68.40 L183.96,68.80 L184.77,69.20 L185.58,69.59 L186.37,69.99 L187.16,70.38 L187.93,70.78 L188.70,71.17 L189.46,71.57 L190.21,71.98 L190.96,72.39 L191.70,72.80 L192.46,73.24 L193.24,73.70 L194.05,74.19 L194.86,74.70 L195.66,75.20 L196.44,75.70 L197.19,76.18 L197.89,76.64 L198.53,77.06 L199.11,77.43 L199.60,77.75 L200.00,78.00" fill="none" stroke="#35a560" stroke-width="1.4" stroke-linejoin="round"/>
<circle cx="46.90" cy="133.00" r="2.4" fill="#35a560" stroke="#000" stroke-opacity="0.12" stroke-width="0.4"/>
<circle cx="46.70" cy="132.75" r="0.72" fill="#fff" fill-opacity="0.55"/>
<circle cx="47.40" cy="128.50" r="2.4" fill="#35a560" stroke="#000" stroke-opacity="0.12" stroke-width="0.4"/>
<circle cx="47.20" cy="128.25" r="0.72" fill="#fff" fill-opacity="0.55"/>
<circle cx="48.00" cy="124.50" r="2.4" fill="#35a560" stroke="#000" stroke-opacity="0.12" stroke-width="0.4"/>
<circle cx="47.80" cy="124.25" r="0.72" fill="#fff" fill-opacity="0.55"/>
<circle cx="48.60" cy="121.00" r="2.4" fill="#35a560" stroke="#000" stroke-opacity="0.12" stroke-width="0.4"/>
<circle cx="48.40" cy="120.75" r="0.72" fill="#fff" fill-opacity="0.55"/>
<circle cx="49.70" cy="117.30" r="2.4" fill="#35a560" stroke="#000" stroke-opacity="0.12" stroke-width="0.4"/>
<circle cx="49.50" cy="117.05" r="0.72" fill="#fff" fill-opacity="0.55"/>
<circle cx="50.50" cy="114.00" r="2.4" fill="#35a560" stroke="#000" stroke-opacity="0.12" stroke-width="0.4"/>
<circle cx="50.30" cy="113.75" r="0.72" fill="#fff" fill-opacity="0.55"/>
<circle cx="51.60" cy="110.70" r="2.4" fill="#35a560" stroke="#000" stroke-opacity="0.12" stroke-width="0.4"/>
<circle cx="51.40" cy="110.45" r="0.72" fill="#fff" fill-opacity="0.55"/>
<circle cx="52.90" cy="107.40" r="2.4" fill="#35a560" stroke="#000" stroke-opacity="0.12" stroke-width="0.4"/>
<circle cx="52.70" cy="107.15" r="0.72" fill="#fff" fill-opacity="0.55"/>
<circle cx="54.70" cy="103.60" r="2.4" fill="#35a560" stroke="#000" stroke-opacity="0.12" stroke-width="0.4"/>
<circle cx="54.50" cy="103.35" r="0.72" fill="#fff" fill-opacity="0.55"/>
<circle cx="56.90" cy="99.40" r="2.4" fill="#35a560" stroke="#000" stroke-opacity="0.12" stroke-width="0.4"/>
<circle cx="56.70" cy="99.15" r="0.72" fill="#fff" fill-opacity="0.55"/>
<circle cx="59.60" cy="94.30" r="2.4" fill="#35a560" stroke="#000" stroke-opacity="0.12" stroke-width="0.4"/>
<circle cx="59.40" cy="94.05" r="0.72" fill="#fff" fill-opacity="0.55"/>
<circle cx="63.70" cy="89.00" r="2.4" fill="#35a560" stroke="#000" stroke-opacity="0.12" stroke-width="0.4"/>
<circle cx="63.50" cy="88.75" r="0.72" fill="#fff" fill-opacity="0.55"/>
<circle cx="69.20" cy="83.20" r="2.4" fill="#35a560" stroke="#000" stroke-opacity="0.12" stroke-width="0.4"/>
<circle cx="69.00" cy="82.95" r="0.72" fill="#fff" fill-opacity="0.55"/>
<circle cx="75.50" cy="77.70" r="2.4" fill="#35a560" stroke="#000" stroke-opacity="0.12" stroke-width="0.4"/>
<circle cx="75.30" cy="77.45" r="0.72" fill="#fff" fill-opacity="0.55"/>
<circle cx="83.50" cy="71.80" r="2.4" fill="#35a560" stroke="#000" stroke-opacity="0.12" stroke-width="0.4"/>
<circle cx="83.30" cy="71.55" r="0.72" fill="#fff" fill-opacity="0.55"/>
<circle cx="93.40" cy="66.80" r="2.4" fill="#35a560" stroke="#000" stroke-opacity="0.12" stroke-width="0.4"/>
<circle cx="93.20" cy="66.55" r="0.72" fill="#fff" fill-opacity="0.55"/>
<circle cx="104.90" cy="61.80" r="2.4" fill="#35a560" stroke="#000" stroke-opacity="0.12" stroke-width="0.4"/>
<circle cx="104.70" cy="61.55" r="0.72" fill="#fff" fill-opacity="0.55"/>
<circle cx="117.20" cy="58.80" r="2.4" fill="#35a560" stroke="#000" stroke-opacity="0.12" stroke-width="0.4"/>
<circle cx="117.00" cy="58.55" r="0.72" fill="#fff" fill-opacity="0.55"/>
<circle cx="131.00" cy="57.40" r="2.4" fill="#35a560" stroke="#000" stroke-opacity="0.12" stroke-width="0.4"/>
<circle cx="130.80" cy="57.15" r="0.72" fill="#fff" fill-opacity="0.55"/>
<circle cx="144.80" cy="57.40" r="2.4" fill="#35a560" stroke="#000" stroke-opacity="0.12" stroke-width="0.4"/>
<circle cx="144.60" cy="57.15" r="0.72" fill="#fff" fill-opacity="0.55"/>
<circle cx="158.50" cy="59.50" r="2.4" fill="#35a560" stroke="#000" stroke-opacity="0.12" stroke-width="0.4"/>
<circle cx="158.30" cy="59.25" r="0.72" fill="#fff" fill-opacity="0.55"/>
<circle cx="171.50" cy="63.10" r="2.4" fill="#35a560" stroke="#000" stroke-opacity="0.12" stroke-width="0.4"/>
<circle cx="171.30" cy="62.85" r="0.72" fill="#fff" fill-opacity="0.55"/>
<circle cx="182.30" cy="68.00" r="2.4" fill="#35a560" stroke="#000" stroke-opacity="0.12" stroke-width="0.4"/>
<circle cx="182.10" cy="67.75" r="0.72" fill="#fff" fill-opacity="0.55"/>
<circle cx="191.70" cy="72.80" r="2.4" fill="#35a560" stroke="#000" stroke-opacity="0.12" stroke-width="0.4"/>
<circle cx="191.50" cy="72.55" r="0.72" fill="#fff" fill-opacity="0.55"/>
</g>
<g clip-path="url(#ca)">
<path d="M47.30,134.00 L47.34,133.78 L47.40,133.50 L47.46,133.17 L47.53,132.80 L47.61,132.39 L47.69,131.97 L47.77,131.53 L47.86,131.09 L47.95,130.66 L48.03,130.24 L48.12,129.85 L48.20,129.50 L48.28,129.17 L48.36,128.86 L48.45,128.55 L48.53,128.25 L48.61,127.96 L48.70,127.67 L48.79,127.39 L48.87,127.11 L48.95,126.83 L49.04,126.55 L49.12,126.28 L49.20,126.00 L49.28,125.72 L49.35,125.44 L49.42,125.16 L49.49,124.88 L49.56,124.60 L49.63,124.32 L49.69,124.05 L49.77,123.79 L49.84,123.53 L49.92,123.28 L50.01,123.03 L50.10,122.80 L50.20,122.58 L50.30,122.36 L50.41,122.16 L50.53,121.96 L50.64,121.77 L50.76,121.58 L50.88,121.40 L51.01,121.22 L51.13,121.04 L51.26,120.86 L51.38,120.68 L51.50,120.50 L51.62,120.32 L51.74,120.14 L51.87,119.96 L51.99,119.78 L52.12,119.60 L52.24,119.43 L52.37,119.25 L52.50,119.08 L52.62,118.91 L52.75,118.74 L52.87,118.57 L53.00,118.40 L53.12,118.23 L53.25,118.07 L53.38,117.91 L53.50,117.75 L53.62,117.59 L53.75,117.43 L53.88,117.27 L54.00,117.12 L54.12,116.96 L54.25,116.81 L54.38,116.65 L54.50,116.50 L54.62,116.35 L54.75,116.20 L54.87,116.05 L54.99,115.90 L55.11,115.76 L55.23,115.61 L55.35,115.47 L55.48,115.32 L55.60,115.17 L55.73,115.02 L55.86,114.86 L56.00,114.70 L56.14,114.53 L56.28,114.37 L56.43,114.19 L56.58,114.01 L56.73,113.84 L56.88,113.66 L57.03,113.48 L57.19,113.30 L57.34,113.12 L57.50,112.94 L57.65,112.77 L57.80,112.60 L57.95,112.43 L58.10,112.27 L58.24,112.11 L58.39,111.94 L58.53,111.78 L58.67,111.62 L58.82,111.47 L58.97,111.31 L59.12,111.16 L59.28,111.00 L59.44,110.85 L59.60,110.70 L59.77,110.55 L59.94,110.40 L60.12,110.26 L60.30,110.11 L60.49,109.97 L60.68,109.83 L60.86,109.69 L61.05,109.55 L61.24,109.41 L61.43,109.28 L61.62,109.14 L61.80,109.00 L61.98,108.86 L62.16,108.73 L62.34,108.59 L62.52,108.46 L62.70,108.33 L62.87,108.19 L63.05,108.06 L63.24,107.93 L63.42,107.80 L63.61,107.67 L63.80,107.53 L64.00,107.40 L64.20,107.27 L64.41,107.13 L64.62,107.00 L64.84,106.86 L65.05,106.72 L65.27,106.59 L65.50,106.45 L65.72,106.32 L65.94,106.19 L66.16,106.06 L66.38,105.93 L66.60,105.80 L66.81,105.68 L67.02,105.56 L67.23,105.45 L67.43,105.34 L67.63,105.24 L67.84,105.13 L68.05,105.02 L68.26,104.91 L68.48,104.79 L68.71,104.67 L68.95,104.54 L69.20,104.40 L69.46,104.25 L69.73,104.09 L70.00,103.92 L70.29,103.75 L70.57,103.57 L70.87,103.39 L71.17,103.21 L71.48,103.03 L71.80,102.84 L72.12,102.66 L72.46,102.48 L72.80,102.30 L73.15,102.13 L73.50,101.95 L73.85,101.78 L74.21,101.60 L74.57,101.43 L74.95,101.26 L75.34,101.08 L75.74,100.91 L76.15,100.73 L76.58,100.56 L77.03,100.38 L77.50,100.20 L77.99,100.02 L78.51,99.82 L79.05,99.62 L79.61,99.41 L80.19,99.21 L80.77,99.01 L81.37,98.81 L81.96,98.62 L82.56,98.44 L83.15,98.28 L83.73,98.13 L84.30,98.00 L84.86,97.89 L85.42,97.79 L85.98,97.70 L86.53,97.63 L87.09,97.56 L87.64,97.51 L88.20,97.46 L88.76,97.43 L89.31,97.41 L89.87,97.39 L90.43,97.39 L91.00,97.40 L91.57,97.42 L92.14,97.46 L92.72,97.50 L93.30,97.56 L93.89,97.63 L94.47,97.71 L95.05,97.80 L95.63,97.89 L96.21,97.99 L96.78,98.09 L97.34,98.20 L97.90,98.30 L98.45,98.41 L99.00,98.52 L99.55,98.63 L100.10,98.75 L100.64,98.87 L101.18,99.00 L101.71,99.13 L102.24,99.27 L102.76,99.42 L103.28,99.57 L103.79,99.73 L104.30,99.90 L104.80,100.07 L105.30,100.26 L105.79,100.45 L106.28,100.64 L106.77,100.84 L107.24,101.05 L107.72,101.26 L108.19,101.48 L108.65,101.70 L109.10,101.93 L109.56,102.16 L110.00,102.40 L110.44,102.64 L110.88,102.89 L111.32,103.15 L111.75,103.41 L112.17,103.68 L112.59,103.96 L113.01,104.23 L113.41,104.51 L113.80,104.78 L114.18,105.06 L114.55,105.33 L114.90,105.60 L115.24,105.87 L115.56,106.13 L115.88,106.40 L116.18,106.66 L116.47,106.93 L116.75,107.19 L117.02,107.46 L117.29,107.73 L117.55,107.99 L117.80,108.26 L118.05,108.53 L118.30,108.80 L118.54,109.07 L118.78,109.35 L119.00,109.62 L119.22,109.90 L119.44,110.17 L119.64,110.45 L119.85,110.73 L120.04,111.00 L120.24,111.28 L120.43,111.55 L120.62,111.83 L120.80,112.10 L120.98,112.37 L121.15,112.64 L121.32,112.91 L121.49,113.17 L121.65,113.44 L121.81,113.71 L121.96,113.97 L122.11,114.24 L122.26,114.50 L122.41,114.77 L122.55,115.03 L122.70,115.30 L122.85,115.57 L122.99,115.83 L123.13,116.10 L123.27,116.37 L123.41,116.63 L123.55,116.90 L123.68,117.17 L123.81,117.43 L123.94,117.70 L124.07,117.97 L124.19,118.23 L124.30,118.50 L124.41,118.77 L124.52,119.04 L124.62,119.31 L124.72,119.58 L124.81,119.85 L124.91,120.12 L125.00,120.40 L125.08,120.66 L125.16,120.93 L125.25,121.19 L125.32,121.45 L125.40,121.70 L125.47,121.95 L125.55,122.19 L125.62,122.43 L125.69,122.67 L125.75,122.90 L125.81,123.13 L125.87,123.36 L125.93,123.59 L125.98,123.82 L126.02,124.04 L126.06,124.27 L126.10,124.50 L126.13,124.74 L126.15,124.99 L126.17,125.25 L126.18,125.51 L126.19,125.77 L126.19,126.03 L126.20,126.27 L126.20,126.50 L126.20,126.72 L126.20,126.91 L126.20,127.07 L126.20,127.20" fill="none" stroke="#b27fe3" stroke-width="1.4" stroke-linejoin="round"/>
<circle cx="47.30" cy="134.00" r="2.4" fill="#b27fe3" stroke="#000" stroke-opacity="0.12" stroke-width="0.4"/>
<circle cx="47.10" cy="133.75" r="0.72" fill="#fff" fill-opacity="0.55"/>
<circle cx="48.20" cy="129.50" r="2.4" fill="#b27fe3" stroke="#000" stroke-opacity="0.12" stroke-width="0.4"/>
<circle cx="48.00" cy="129.25" r="0.72" fill="#fff" fill-opacity="0.55"/>
<circle cx="49.20" cy="126.00" r="2.4" fill="#b27fe3" stroke="#000" stroke-opacity="0.12" stroke-width="0.4"/>
<circle cx="49.00" cy="125.75" r="0.72" fill="#fff" fill-opacity="0.55"/>
<circle cx="50.10" cy="122.80" r="2.4" fill="#b27fe3" stroke="#000" stroke-opacity="0.12" stroke-width="0.4"/>
<circle cx="49.90" cy="122.55" r="0.72" fill="#fff" fill-opacity="0.55"/>
<circle cx="51.50" cy="120.50" r="2.4" fill="#b27fe3" stroke="#000" stroke-opacity="0.12" stroke-width="0.4"/>
<circle cx="51.30" cy="120.25" r="0.72" fill="#fff" fill-opacity="0.55"/>
<circle cx="53.00" cy="118.40" r="2.4" fill="#b27fe3" stroke="#000" stroke-opacity="0.12" stroke-width="0.4"/>
<circle cx="52.80" cy="118.15" r="0.72" fill="#fff" fill-opacity="0.55"/>
<circle cx="54.50" cy="116.50" r="2.4" fill="#b27fe3" stroke="#000" stroke-opacity="0.12" stroke-width="0.4"/>
<circle cx="54.30" cy="116.25" r="0.72" fill="#fff" fill-opacity="0.55"/>
<circle cx="56.00" cy="114.70" r="2.4" fill="#b27fe3" stroke="#000" stroke-opacity="0.12" stroke-width="0.4"/>
<circle cx="55.80" cy="114.45" r="0.72" fill="#fff" fill-opacity="0.55"/>
<circle cx="57.80" cy="112.60" r="2.4" fill="#b27fe3" stroke="#000" stroke-opacity="0.12" stroke-width="0.4"/>
<circle cx="57.60" cy="112.35" r="0.72" fill="#fff" fill-opacity="0.55"/>
<circle cx="59.60" cy="110.70" r="2.4" fill="#b27fe3" stroke="#000" stroke-opacity="0.12" stroke-width="0.4"/>
<circle cx="59.40" cy="110.45" r="0.72" fill="#fff" fill-opacity="0.55"/>
<circle cx="61.80" cy="109.00" r="2.4" fill="#b27fe3" stroke="#000" stroke-opacity="0.12" stroke-width="0.4"/>
<circle cx="61.60" cy="108.75" r="0.72" fill="#fff" fill-opacity="0.55"/>
<circle cx="64.00" cy="107.40" r="2.4" fill="#b27fe3" stroke="#000" stroke-opacity="0.12" stroke-width="0.4"/>
<circle cx="63.80" cy="107.15" r="0.72" fill="#fff" fill-opacity="0.55"/>
<circle cx="66.60" cy="105.80" r="2.4" fill="#b27fe3" stroke="#000" stroke-opacity="0.12" stroke-width="0.4"/>
<circle cx="66.40" cy="105.55" r="0.72" fill="#fff" fill-opacity="0.55"/>
<circle cx="69.20" cy="104.40" r="2.4" fill="#b27fe3" stroke="#000" stroke-opacity="0.12" stroke-width="0.4"/>
<circle cx="69.00" cy="104.15" r="0.72" fill="#fff" fill-opacity="0.55"/>
<circle cx="72.80" cy="102.30" r="2.4" fill="#b27fe3" stroke="#000" stroke-opacity="0.12" stroke-width="0.4"/>
<circle cx="72.60" cy="102.05" r="0.72" fill="#fff" fill-opacity="0.55"/>
<circle cx="77.50" cy="100.20" r="2.4" fill="#b27fe3" stroke="#000" stroke-opacity="0.12" stroke-width="0.4"/>
<circle cx="77.30" cy="99.95" r="0.72" fill="#fff" fill-opacity="0.55"/>
<circle cx="84.30" cy="98.00" r="2.4" fill="#b27fe3" stroke="#000" stroke-opacity="0.12" stroke-width="0.4"/>
<circle cx="84.10" cy="97.75" r="0.72" fill="#fff" fill-opacity="0.55"/>
<circle cx="91.00" cy="97.40" r="2.4" fill="#b27fe3" stroke="#000" stroke-opacity="0.12" stroke-width="0.4"/>
<circle cx="90.80" cy="97.15" r="0.72" fill="#fff" fill-opacity="0.55"/>
<circle cx="97.90" cy="98.30" r="2.4" fill="#b27fe3" stroke="#000" stroke-opacity="0.12" stroke-width="0.4"/>
<circle cx="97.70" cy="98.05" r="0.72" fill="#fff" fill-opacity="0.55"/>
<circle cx="104.30" cy="99.90" r="2.4" fill="#b27fe3" stroke="#000" stroke-opacity="0.12" stroke-width="0.4"/>
<circle cx="104.10" cy="99.65" r="0.72" fill="#fff" fill-opacity="0.55"/>
<circle cx="110.00" cy="102.40" r="2.4" fill="#b27fe3" stroke="#000" stroke-opacity="0.12" stroke-width="0.4"/>
<circle cx="109.80" cy="102.15" r="0.72" fill="#fff" fill-opacity="0.55"/>
<circle cx="114.90" cy="105.60" r="2.4" fill="#b27fe3" stroke="#000" stroke-opacity="0.12" stroke-width="0.4"/>
<circle cx="114.70" cy="105.35" r="0.72" fill="#fff" fill-opacity="0.55"/>
<circle cx="118.30" cy="108.80" r="2.4" fill="#b27fe3" stroke="#000" stroke-opacity="0.12" stroke-width="0.4"/>
<circle cx="118.10" cy="108.55" r="0.72" fill="#fff" fill-opacity="0.55"/>
<circle cx="120.80" cy="112.10" r="2.4" fill="#b27fe3" stroke="#000" stroke-opacity="0.12" stroke-width="0.4"/>
<circle cx="120.60" cy="111.85" r="0.72" fill="#fff" fill-opacity="0.55"/>
<circle cx="122.70" cy="115.30" r="2.4" fill="#b27fe3" stroke="#000" stroke-opacity="0.12" stroke-width="0.4"/>
<circle cx="122.50" cy="115.05" r="0.72" fill="#fff" fill-opacity="0.55"/>
<circle cx="124.30" cy="118.50" r="2.4" fill="#b27fe3" stroke="#000" stroke-opacity="0.12" stroke-width="0.4"/>
<circle cx="124.10" cy="118.25" r="0.72" fill="#fff" fill-opacity="0.55"/>
<circle cx="125.40" cy="121.70" r="2.4" fill="#b27fe3" stroke="#000" stroke-opacity="0.12" stroke-width="0.4"/>
<circle cx="125.20" cy="121.45" r="0.72" fill="#fff" fill-opacity="0.55"/>
<circle cx="126.10" cy="124.50" r="2.4" fill="#b27fe3" stroke="#000" stroke-opacity="0.12" stroke-width="0.4"/>
<circle cx="125.90" cy="124.25" r="0.72" fill="#fff" fill-opacity="0.55"/>
<circle cx="126.20" cy="127.20" r="2.4" fill="#b27fe3" stroke="#000" stroke-opacity="0.12" stroke-width="0.4"/>
<circle cx="126.00" cy="126.95" r="0.72" fill="#fff" fill-opacity="0.55"/>
</g>
<g clip-path="url(#ca)">
<path d="M47.10,134.00 L47.12,133.78 L47.14,133.50 L47.15,133.18 L47.17,132.81 L47.20,132.41 L47.23,131.99 L47.26,131.56 L47.30,131.12 L47.36,130.69 L47.42,130.27 L47.50,129.87 L47.60,129.50 L47.71,129.15 L47.83,128.82 L47.96,128.49 L48.10,128.16 L48.26,127.84 L48.42,127.52 L48.59,127.20 L48.77,126.89 L48.97,126.57 L49.17,126.25 L49.38,125.93 L49.60,125.60 L49.82,125.27 L50.04,124.94 L50.26,124.61 L50.48,124.27 L50.71,123.94 L50.96,123.61 L51.23,123.27 L51.52,122.94 L51.84,122.60 L52.19,122.27 L52.57,121.93 L53.00,121.60 L53.48,121.26 L54.00,120.90 L54.57,120.54 L55.17,120.17 L55.80,119.80 L56.46,119.43 L57.12,119.08 L57.79,118.73 L58.46,118.41 L59.13,118.11 L59.77,117.84 L60.40,117.60 L61.01,117.39 L61.62,117.19 L62.23,117.02 L62.84,116.86 L63.44,116.73 L64.05,116.61 L64.66,116.51 L65.26,116.43 L65.87,116.36 L66.48,116.32 L67.09,116.30 L67.70,116.30 L68.32,116.32 L68.94,116.36 L69.58,116.42 L70.21,116.50 L70.85,116.60 L71.49,116.72 L72.12,116.86 L72.74,117.01 L73.35,117.18 L73.95,117.37 L74.54,117.58 L75.10,117.80 L75.65,118.04 L76.20,118.32 L76.73,118.61 L77.26,118.93 L77.78,119.26 L78.29,119.61 L78.78,119.96 L79.26,120.33 L79.72,120.70 L80.17,121.07 L80.59,121.44 L81.00,121.80 L81.39,122.16 L81.77,122.52 L82.13,122.88 L82.47,123.24 L82.80,123.61 L83.12,123.98 L83.41,124.36 L83.69,124.75 L83.95,125.14 L84.19,125.55 L84.41,125.97 L84.60,126.40 L84.77,126.86 L84.90,127.38 L85.02,127.92 L85.10,128.49 L85.17,129.06 L85.22,129.64 L85.27,130.19 L85.30,130.72 L85.32,131.21 L85.35,131.64 L85.37,132.01 L85.40,132.30" fill="none" stroke="#d49b12" stroke-width="1.4" stroke-linejoin="round"/>
<circle cx="47.10" cy="134.00" r="2.4" fill="#d49b12" stroke="#000" stroke-opacity="0.12" stroke-width="0.4"/>
<circle cx="46.90" cy="133.75" r="0.72" fill="#fff" fill-opacity="0.55"/>
<circle cx="47.27" cy="131.51" r="2.4" fill="#d49b12" stroke="#000" stroke-opacity="0.12" stroke-width="0.4"/>
<circle cx="47.07" cy="131.26" r="0.72" fill="#fff" fill-opacity="0.55"/>
<circle cx="47.74" cy="129.06" r="2.4" fill="#d49b12" stroke="#000" stroke-opacity="0.12" stroke-width="0.4"/>
<circle cx="47.54" cy="128.81" r="0.72" fill="#fff" fill-opacity="0.55"/>
<circle cx="48.82" cy="126.81" r="2.4" fill="#d49b12" stroke="#000" stroke-opacity="0.12" stroke-width="0.4"/>
<circle cx="48.62" cy="126.56" r="0.72" fill="#fff" fill-opacity="0.55"/>
<circle cx="50.19" cy="124.71" r="2.4" fill="#d49b12" stroke="#000" stroke-opacity="0.12" stroke-width="0.4"/>
<circle cx="49.99" cy="124.46" r="0.72" fill="#fff" fill-opacity="0.55"/>
<circle cx="51.71" cy="122.74" r="2.4" fill="#d49b12" stroke="#000" stroke-opacity="0.12" stroke-width="0.4"/>
<circle cx="51.51" cy="122.49" r="0.72" fill="#fff" fill-opacity="0.55"/>
<circle cx="53.64" cy="121.15" r="2.4" fill="#d49b12" stroke="#000" stroke-opacity="0.12" stroke-width="0.4"/>
<circle cx="53.44" cy="120.90" r="0.72" fill="#fff" fill-opacity="0.55"/>
<circle cx="55.75" cy="119.83" r="2.4" fill="#d49b12" stroke="#000" stroke-opacity="0.12" stroke-width="0.4"/>
<circle cx="55.55" cy="119.58" r="0.72" fill="#fff" fill-opacity="0.55"/>
<circle cx="57.96" cy="118.65" r="2.4" fill="#d49b12" stroke="#000" stroke-opacity="0.12" stroke-width="0.4"/>
<circle cx="57.76" cy="118.40" r="0.72" fill="#fff" fill-opacity="0.55"/>
<circle cx="60.25" cy="117.66" r="2.4" fill="#d49b12" stroke="#000" stroke-opacity="0.12" stroke-width="0.4"/>
<circle cx="60.05" cy="117.41" r="0.72" fill="#fff" fill-opacity="0.55"/>
<circle cx="62.64" cy="116.91" r="2.4" fill="#d49b12" stroke="#000" stroke-opacity="0.12" stroke-width="0.4"/>
<circle cx="62.44" cy="116.66" r="0.72" fill="#fff" fill-opacity="0.55"/>
<circle cx="65.09" cy="116.45" r="2.4" fill="#d49b12" stroke="#000" stroke-opacity="0.12" stroke-width="0.4"/>
<circle cx="64.89" cy="116.20" r="0.72" fill="#fff" fill-opacity="0.55"/>
<circle cx="67.59" cy="116.30" r="2.4" fill="#d49b12" stroke="#000" stroke-opacity="0.12" stroke-width="0.4"/>
<circle cx="67.39" cy="116.05" r="0.72" fill="#fff" fill-opacity="0.55"/>
<circle cx="70.08" cy="116.48" r="2.4" fill="#d49b12" stroke="#000" stroke-opacity="0.12" stroke-width="0.4"/>
<circle cx="69.88" cy="116.23" r="0.72" fill="#fff" fill-opacity="0.55"/>
<circle cx="72.53" cy="116.96" r="2.4" fill="#d49b12" stroke="#000" stroke-opacity="0.12" stroke-width="0.4"/>
<circle cx="72.33" cy="116.71" r="0.72" fill="#fff" fill-opacity="0.55"/>
<circle cx="74.91" cy="117.73" r="2.4" fill="#d49b12" stroke="#000" stroke-opacity="0.12" stroke-width="0.4"/>
<circle cx="74.71" cy="117.48" r="0.72" fill="#fff" fill-opacity="0.55"/>
<circle cx="77.14" cy="118.85" r="2.4" fill="#d49b12" stroke="#000" stroke-opacity="0.12" stroke-width="0.4"/>
<circle cx="76.94" cy="118.60" r="0.72" fill="#fff" fill-opacity="0.55"/>
<circle cx="79.19" cy="120.28" r="2.4" fill="#d49b12" stroke="#000" stroke-opacity="0.12" stroke-width="0.4"/>
<circle cx="78.99" cy="120.03" r="0.72" fill="#fff" fill-opacity="0.55"/>
<circle cx="81.10" cy="121.89" r="2.4" fill="#d49b12" stroke="#000" stroke-opacity="0.12" stroke-width="0.4"/>
<circle cx="80.90" cy="121.64" r="0.72" fill="#fff" fill-opacity="0.55"/>
<circle cx="82.85" cy="123.67" r="2.4" fill="#d49b12" stroke="#000" stroke-opacity="0.12" stroke-width="0.4"/>
<circle cx="82.65" cy="123.42" r="0.72" fill="#fff" fill-opacity="0.55"/>
<circle cx="84.27" cy="125.72" r="2.4" fill="#d49b12" stroke="#000" stroke-opacity="0.12" stroke-width="0.4"/>
<circle cx="84.07" cy="125.47" r="0.72" fill="#fff" fill-opacity="0.55"/>
<circle cx="85.04" cy="128.08" r="2.4" fill="#d49b12" stroke="#000" stroke-opacity="0.12" stroke-width="0.4"/>
<circle cx="84.84" cy="127.83" r="0.72" fill="#fff" fill-opacity="0.55"/>
<circle cx="85.29" cy="130.57" r="2.4" fill="#d49b12" stroke="#000" stroke-opacity="0.12" stroke-width="0.4"/>
<circle cx="85.09" cy="130.32" r="0.72" fill="#fff" fill-opacity="0.55"/>
</g>
<g clip-path="url(#ca)">
<path d="M47.00,135.00 L47.11,134.65 L47.24,134.21 L47.39,133.68 L47.56,133.09 L47.74,132.45 L47.94,131.78 L48.15,131.09 L48.39,130.40 L48.64,129.73 L48.91,129.10 L49.20,128.51 L49.50,128.00 L49.82,127.53 L50.17,127.08 L50.54,126.65 L50.92,126.23 L51.33,125.83 L51.74,125.45 L52.18,125.09 L52.62,124.75 L53.08,124.43 L53.55,124.13 L54.02,123.85 L54.50,123.60 L54.99,123.37 L55.51,123.15 L56.04,122.95 L56.59,122.76 L57.15,122.60 L57.71,122.46 L58.28,122.35 L58.86,122.26 L59.43,122.20 L59.99,122.17 L60.55,122.17 L61.10,122.20 L61.65,122.27 L62.21,122.39 L62.77,122.54 L63.34,122.73 L63.90,122.94 L64.46,123.18 L65.01,123.44 L65.55,123.70 L66.07,123.98 L66.57,124.26 L67.05,124.53 L67.50,124.80 L67.93,125.07 L68.34,125.35 L68.73,125.64 L69.11,125.94 L69.47,126.25 L69.81,126.57 L70.14,126.89 L70.45,127.21 L70.74,127.54 L71.01,127.86 L71.27,128.18 L71.50,128.50 L71.71,128.83 L71.90,129.18 L72.07,129.55 L72.21,129.93 L72.34,130.31 L72.45,130.68 L72.55,131.04 L72.63,131.38 L72.71,131.69 L72.78,131.97 L72.84,132.21 L72.90,132.40" fill="none" stroke="#22c8d2" stroke-width="1.4" stroke-linejoin="round"/>
<circle cx="47.00" cy="135.00" r="2.4" fill="#22c8d2" stroke="#000" stroke-opacity="0.12" stroke-width="0.4"/>
<circle cx="46.80" cy="134.75" r="0.72" fill="#fff" fill-opacity="0.55"/>
<circle cx="47.61" cy="132.89" r="2.4" fill="#22c8d2" stroke="#000" stroke-opacity="0.12" stroke-width="0.4"/>
<circle cx="47.41" cy="132.64" r="0.72" fill="#fff" fill-opacity="0.55"/>
<circle cx="48.26" cy="130.78" r="2.4" fill="#22c8d2" stroke="#000" stroke-opacity="0.12" stroke-width="0.4"/>
<circle cx="48.06" cy="130.53" r="0.72" fill="#fff" fill-opacity="0.55"/>
<circle cx="49.08" cy="128.75" r="2.4" fill="#22c8d2" stroke="#000" stroke-opacity="0.12" stroke-width="0.4"/>
<circle cx="48.88" cy="128.50" r="0.72" fill="#fff" fill-opacity="0.55"/>
<circle cx="50.30" cy="126.92" r="2.4" fill="#22c8d2" stroke="#000" stroke-opacity="0.12" stroke-width="0.4"/>
<circle cx="50.10" cy="126.67" r="0.72" fill="#fff" fill-opacity="0.55"/>
<circle cx="51.85" cy="125.36" r="2.4" fill="#22c8d2" stroke="#000" stroke-opacity="0.12" stroke-width="0.4"/>
<circle cx="51.65" cy="125.11" r="0.72" fill="#fff" fill-opacity="0.55"/>
<circle cx="53.63" cy="124.08" r="2.4" fill="#22c8d2" stroke="#000" stroke-opacity="0.12" stroke-width="0.4"/>
<circle cx="53.43" cy="123.83" r="0.72" fill="#fff" fill-opacity="0.55"/>
<circle cx="55.61" cy="123.11" r="2.4" fill="#22c8d2" stroke="#000" stroke-opacity="0.12" stroke-width="0.4"/>
<circle cx="55.41" cy="122.86" r="0.72" fill="#fff" fill-opacity="0.55"/>
<circle cx="57.71" cy="122.46" r="2.4" fill="#22c8d2" stroke="#000" stroke-opacity="0.12" stroke-width="0.4"/>
<circle cx="57.51" cy="122.21" r="0.72" fill="#fff" fill-opacity="0.55"/>
<circle cx="59.88" cy="122.17" r="2.4" fill="#22c8d2" stroke="#000" stroke-opacity="0.12" stroke-width="0.4"/>
<circle cx="59.68" cy="121.92" r="0.72" fill="#fff" fill-opacity="0.55"/>
<circle cx="62.07" cy="122.36" r="2.4" fill="#22c8d2" stroke="#000" stroke-opacity="0.12" stroke-width="0.4"/>
<circle cx="61.87" cy="122.11" r="0.72" fill="#fff" fill-opacity="0.55"/>
<circle cx="64.15" cy="123.05" r="2.4" fill="#22c8d2" stroke="#000" stroke-opacity="0.12" stroke-width="0.4"/>
<circle cx="63.95" cy="122.80" r="0.72" fill="#fff" fill-opacity="0.55"/>
<circle cx="66.13" cy="124.01" r="2.4" fill="#22c8d2" stroke="#000" stroke-opacity="0.12" stroke-width="0.4"/>
<circle cx="65.93" cy="123.76" r="0.72" fill="#fff" fill-opacity="0.55"/>
<circle cx="68.02" cy="125.14" r="2.4" fill="#22c8d2" stroke="#000" stroke-opacity="0.12" stroke-width="0.4"/>
<circle cx="67.82" cy="124.89" r="0.72" fill="#fff" fill-opacity="0.55"/>
<circle cx="69.74" cy="126.50" r="2.4" fill="#22c8d2" stroke="#000" stroke-opacity="0.12" stroke-width="0.4"/>
<circle cx="69.54" cy="126.25" r="0.72" fill="#fff" fill-opacity="0.55"/>
<circle cx="71.22" cy="128.13" r="2.4" fill="#22c8d2" stroke="#000" stroke-opacity="0.12" stroke-width="0.4"/>
<circle cx="71.02" cy="127.88" r="0.72" fill="#fff" fill-opacity="0.55"/>
<circle cx="72.25" cy="130.06" r="2.4" fill="#22c8d2" stroke="#000" stroke-opacity="0.12" stroke-width="0.4"/>
<circle cx="72.05" cy="129.81" r="0.72" fill="#fff" fill-opacity="0.55"/>
<circle cx="72.83" cy="132.18" r="2.4" fill="#22c8d2" stroke="#000" stroke-opacity="0.12" stroke-width="0.4"/>
<circle cx="72.63" cy="131.93" r="0.72" fill="#fff" fill-opacity="0.55"/>
</g>
<g clip-path="url(#ca)">
<path d="M47.00,135.00 L47.11,134.66 L47.24,134.23 L47.39,133.72 L47.56,133.14 L47.74,132.52 L47.94,131.86 L48.15,131.19 L48.39,130.53 L48.64,129.88 L48.91,129.26 L49.20,128.70 L49.50,128.20 L49.82,127.75 L50.17,127.31 L50.54,126.90 L50.93,126.50 L51.33,126.11 L51.75,125.75 L52.18,125.41 L52.63,125.08 L53.09,124.78 L53.55,124.50 L54.02,124.24 L54.50,124.00 L54.99,123.78 L55.50,123.58 L56.03,123.40 L56.57,123.24 L57.13,123.11 L57.69,122.99 L58.25,122.89 L58.81,122.82 L59.38,122.78 L59.93,122.76 L60.47,122.76 L61.00,122.80 L61.52,122.87 L62.05,122.98 L62.59,123.12 L63.12,123.29 L63.65,123.48 L64.17,123.70 L64.68,123.93 L65.18,124.18 L65.67,124.43 L66.13,124.69 L66.58,124.95 L67.00,125.20 L67.40,125.46 L67.79,125.73 L68.17,126.01 L68.53,126.31 L68.87,126.61 L69.20,126.92 L69.51,127.23 L69.81,127.55 L70.08,127.86 L70.34,128.18 L70.58,128.49 L70.80,128.80 L70.99,129.12 L71.16,129.45 L71.31,129.80 L71.44,130.16 L71.55,130.52 L71.64,130.88 L71.72,131.22 L71.79,131.54 L71.85,131.83 L71.90,132.10 L71.95,132.32 L72.00,132.50" fill="none" stroke="#8a5656" stroke-width="1.4" stroke-linejoin="round"/>
<circle cx="47.00" cy="135.00" r="2.4" fill="#8a5656" stroke="#000" stroke-opacity="0.12" stroke-width="0.4"/>
<circle cx="46.80" cy="134.75" r="0.72" fill="#fff" fill-opacity="0.55"/>
<circle cx="47.63" cy="132.89" r="2.4" fill="#8a5656" stroke="#000" stroke-opacity="0.12" stroke-width="0.4"/>
<circle cx="47.43" cy="132.64" r="0.72" fill="#fff" fill-opacity="0.55"/>
<circle cx="48.29" cy="130.80" r="2.4" fill="#8a5656" stroke="#000" stroke-opacity="0.12" stroke-width="0.4"/>
<circle cx="48.09" cy="130.55" r="0.72" fill="#fff" fill-opacity="0.55"/>
<circle cx="49.16" cy="128.77" r="2.4" fill="#8a5656" stroke="#000" stroke-opacity="0.12" stroke-width="0.4"/>
<circle cx="48.96" cy="128.52" r="0.72" fill="#fff" fill-opacity="0.55"/>
<circle cx="50.45" cy="127.00" r="2.4" fill="#8a5656" stroke="#000" stroke-opacity="0.12" stroke-width="0.4"/>
<circle cx="50.25" cy="126.75" r="0.72" fill="#fff" fill-opacity="0.55"/>
<circle cx="52.06" cy="125.50" r="2.4" fill="#8a5656" stroke="#000" stroke-opacity="0.12" stroke-width="0.4"/>
<circle cx="51.86" cy="125.25" r="0.72" fill="#fff" fill-opacity="0.55"/>
<circle cx="53.90" cy="124.30" r="2.4" fill="#8a5656" stroke="#000" stroke-opacity="0.12" stroke-width="0.4"/>
<circle cx="53.70" cy="124.05" r="0.72" fill="#fff" fill-opacity="0.55"/>
<circle cx="55.92" cy="123.44" r="2.4" fill="#8a5656" stroke="#000" stroke-opacity="0.12" stroke-width="0.4"/>
<circle cx="55.72" cy="123.19" r="0.72" fill="#fff" fill-opacity="0.55"/>
<circle cx="58.06" cy="122.93" r="2.4" fill="#8a5656" stroke="#000" stroke-opacity="0.12" stroke-width="0.4"/>
<circle cx="57.86" cy="122.68" r="0.72" fill="#fff" fill-opacity="0.55"/>
<circle cx="60.25" cy="122.76" r="2.4" fill="#8a5656" stroke="#000" stroke-opacity="0.12" stroke-width="0.4"/>
<circle cx="60.05" cy="122.51" r="0.72" fill="#fff" fill-opacity="0.55"/>
<circle cx="62.42" cy="123.07" r="2.4" fill="#8a5656" stroke="#000" stroke-opacity="0.12" stroke-width="0.4"/>
<circle cx="62.22" cy="122.82" r="0.72" fill="#fff" fill-opacity="0.55"/>
<circle cx="64.48" cy="123.84" r="2.4" fill="#8a5656" stroke="#000" stroke-opacity="0.12" stroke-width="0.4"/>
<circle cx="64.28" cy="123.59" r="0.72" fill="#fff" fill-opacity="0.55"/>
<circle cx="66.43" cy="124.86" r="2.4" fill="#8a5656" stroke="#000" stroke-opacity="0.12" stroke-width="0.4"/>
<circle cx="66.23" cy="124.61" r="0.72" fill="#fff" fill-opacity="0.55"/>
<circle cx="68.25" cy="126.08" r="2.4" fill="#8a5656" stroke="#000" stroke-opacity="0.12" stroke-width="0.4"/>
<circle cx="68.05" cy="125.83" r="0.72" fill="#fff" fill-opacity="0.55"/>
<circle cx="69.85" cy="127.59" r="2.4" fill="#8a5656" stroke="#000" stroke-opacity="0.12" stroke-width="0.4"/>
<circle cx="69.65" cy="127.34" r="0.72" fill="#fff" fill-opacity="0.55"/>
<circle cx="71.12" cy="129.37" r="2.4" fill="#8a5656" stroke="#000" stroke-opacity="0.12" stroke-width="0.4"/>
<circle cx="70.92" cy="129.12" r="0.72" fill="#fff" fill-opacity="0.55"/>
<circle cx="71.77" cy="131.47" r="2.4" fill="#8a5656" stroke="#000" stroke-opacity="0.12" stroke-width="0.4"/>
<circle cx="71.57" cy="131.22" r="0.72" fill="#fff" fill-opacity="0.55"/>
</g>
<g clip-path="url(#ca)">
<path d="M47.50,135.30 L47.59,135.01 L47.69,134.65 L47.80,134.22 L47.93,133.73 L48.06,133.20 L48.22,132.65 L48.39,132.08 L48.57,131.51 L48.78,130.96 L49.00,130.43 L49.24,129.94 L49.50,129.50 L49.78,129.10 L50.08,128.70 L50.40,128.32 L50.74,127.94 L51.10,127.58 L51.48,127.24 L51.86,126.91 L52.27,126.59 L52.68,126.29 L53.11,126.01 L53.55,125.74 L54.00,125.50 L54.47,125.27 L54.97,125.05 L55.50,124.84 L56.04,124.65 L56.60,124.48 L57.16,124.32 L57.73,124.18 L58.29,124.07 L58.85,123.98 L59.39,123.92 L59.91,123.90 L60.40,123.90 L60.88,123.94 L61.35,124.02 L61.82,124.13 L62.27,124.27 L62.72,124.44 L63.16,124.63 L63.59,124.84 L64.00,125.06 L64.40,125.29 L64.79,125.53 L65.15,125.76 L65.50,126.00 L65.83,126.24 L66.15,126.51 L66.45,126.79 L66.74,127.09 L67.02,127.39 L67.28,127.70 L67.52,128.01 L67.75,128.33 L67.96,128.63 L68.16,128.94 L68.34,129.22 L68.50,129.50 L68.64,129.77 L68.76,130.05 L68.85,130.34 L68.93,130.62 L68.99,130.90 L69.04,131.17 L69.07,131.43 L69.10,131.67 L69.13,131.89 L69.15,132.09 L69.17,132.26 L69.20,132.40" fill="none" stroke="#999a12" stroke-width="1.4" stroke-linejoin="round"/>
<circle cx="47.50" cy="135.30" r="2.4" fill="#999a12" stroke="#000" stroke-opacity="0.12" stroke-width="0.4"/>
<circle cx="47.30" cy="135.05" r="0.72" fill="#fff" fill-opacity="0.55"/>
<circle cx="48.02" cy="133.37" r="2.4" fill="#999a12" stroke="#000" stroke-opacity="0.12" stroke-width="0.4"/>
<circle cx="47.82" cy="133.12" r="0.72" fill="#fff" fill-opacity="0.55"/>
<circle cx="48.60" cy="131.45" r="2.4" fill="#999a12" stroke="#000" stroke-opacity="0.12" stroke-width="0.4"/>
<circle cx="48.40" cy="131.20" r="0.72" fill="#fff" fill-opacity="0.55"/>
<circle cx="49.42" cy="129.64" r="2.4" fill="#999a12" stroke="#000" stroke-opacity="0.12" stroke-width="0.4"/>
<circle cx="49.22" cy="129.39" r="0.72" fill="#fff" fill-opacity="0.55"/>
<circle cx="50.64" cy="128.06" r="2.4" fill="#999a12" stroke="#000" stroke-opacity="0.12" stroke-width="0.4"/>
<circle cx="50.44" cy="127.81" r="0.72" fill="#fff" fill-opacity="0.55"/>
<circle cx="52.11" cy="126.71" r="2.4" fill="#999a12" stroke="#000" stroke-opacity="0.12" stroke-width="0.4"/>
<circle cx="51.91" cy="126.46" r="0.72" fill="#fff" fill-opacity="0.55"/>
<circle cx="53.79" cy="125.62" r="2.4" fill="#999a12" stroke="#000" stroke-opacity="0.12" stroke-width="0.4"/>
<circle cx="53.59" cy="125.37" r="0.72" fill="#fff" fill-opacity="0.55"/>
<circle cx="55.61" cy="124.80" r="2.4" fill="#999a12" stroke="#000" stroke-opacity="0.12" stroke-width="0.4"/>
<circle cx="55.41" cy="124.55" r="0.72" fill="#fff" fill-opacity="0.55"/>
<circle cx="57.53" cy="124.23" r="2.4" fill="#999a12" stroke="#000" stroke-opacity="0.12" stroke-width="0.4"/>
<circle cx="57.33" cy="123.98" r="0.72" fill="#fff" fill-opacity="0.55"/>
<circle cx="59.50" cy="123.92" r="2.4" fill="#999a12" stroke="#000" stroke-opacity="0.12" stroke-width="0.4"/>
<circle cx="59.30" cy="123.67" r="0.72" fill="#fff" fill-opacity="0.55"/>
<circle cx="61.49" cy="124.05" r="2.4" fill="#999a12" stroke="#000" stroke-opacity="0.12" stroke-width="0.4"/>
<circle cx="61.29" cy="123.80" r="0.72" fill="#fff" fill-opacity="0.55"/>
<circle cx="63.36" cy="124.73" r="2.4" fill="#999a12" stroke="#000" stroke-opacity="0.12" stroke-width="0.4"/>
<circle cx="63.16" cy="124.48" r="0.72" fill="#fff" fill-opacity="0.55"/>
<circle cx="65.10" cy="125.73" r="2.4" fill="#999a12" stroke="#000" stroke-opacity="0.12" stroke-width="0.4"/>
<circle cx="64.90" cy="125.48" r="0.72" fill="#fff" fill-opacity="0.55"/>
<circle cx="66.64" cy="126.99" r="2.4" fill="#999a12" stroke="#000" stroke-opacity="0.12" stroke-width="0.4"/>
<circle cx="66.44" cy="126.74" r="0.72" fill="#fff" fill-opacity="0.55"/>
<circle cx="67.90" cy="128.54" r="2.4" fill="#999a12" stroke="#000" stroke-opacity="0.12" stroke-width="0.4"/>
<circle cx="67.70" cy="128.29" r="0.72" fill="#fff" fill-opacity="0.55"/>
<circle cx="68.84" cy="130.30" r="2.4" fill="#999a12" stroke="#000" stroke-opacity="0.12" stroke-width="0.4"/>
<circle cx="68.64" cy="130.05" r="0.72" fill="#fff" fill-opacity="0.55"/>
<circle cx="69.17" cy="132.26" r="2.4" fill="#999a12" stroke="#000" stroke-opacity="0.12" stroke-width="0.4"/>
<circle cx="68.97" cy="132.01" r="0.72" fill="#fff" fill-opacity="0.55"/>
</g>
<rect x="271.3" y="11.3" width="153.3" height="131.2" fill="none" stroke="#2b2b2b" stroke-width="1.2"/>
<line x1="269.1" y1="136" x2="271.3" y2="136" stroke="#2b2b2b" stroke-width="1.0" />
<text x="267.9" y="139" font-size="8.5" text-anchor="end" fill="#222" >0</text>
<line x1="269.1" y1="94.4" x2="271.3" y2="94.4" stroke="#2b2b2b" stroke-width="1.0" />
<text x="267.9" y="97.4" font-size="8.5" text-anchor="end" fill="#222" >1</text>
<line x1="269.1" y1="52.8" x2="271.3" y2="52.8" stroke="#2b2b2b" stroke-width="1.0" />
<text x="267.9" y="55.8" font-size="8.5" text-anchor="end" fill="#222" >2</text>
<line x1="269.1" y1="11.2" x2="271.3" y2="11.2" stroke="#2b2b2b" stroke-width="1.0" />
<text x="267.9" y="14.2" font-size="8.5" text-anchor="end" fill="#222" >3</text>
<line x1="270" y1="115.2" x2="271.3" y2="115.2" stroke="#2b2b2b" stroke-width="1.0" />
<line x1="270" y1="73.6" x2="271.3" y2="73.6" stroke="#2b2b2b" stroke-width="1.0" />
<line x1="270" y1="32" x2="271.3" y2="32" stroke="#2b2b2b" stroke-width="1.0" />
<line x1="271.5" y1="142.5" x2="271.5" y2="144.7" stroke="#2b2b2b" stroke-width="1.0" />
<text x="271.5" y="153.3" font-size="8.5" text-anchor="middle" fill="#222" >0.0</text>
<line x1="315.4" y1="142.5" x2="315.4" y2="144.7" stroke="#2b2b2b" stroke-width="1.0" />
<text x="315.4" y="153.3" font-size="8.5" text-anchor="middle" fill="#222" >0.2</text>
<line x1="359.3" y1="142.5" x2="359.3" y2="144.7" stroke="#2b2b2b" stroke-width="1.0" />
<text x="359.3" y="153.3" font-size="8.5" text-anchor="middle" fill="#222" >0.4</text>
<line x1="403.2" y1="142.5" x2="403.2" y2="144.7" stroke="#2b2b2b" stroke-width="1.0" />
<text x="403.2" y="153.3" font-size="8.5" text-anchor="middle" fill="#222" >0.6</text>
<line x1="293.45" y1="142.5" x2="293.45" y2="143.8" stroke="#2b2b2b" stroke-width="1.0" />
<line x1="337.35" y1="142.5" x2="337.35" y2="143.8" stroke="#2b2b2b" stroke-width="1.0" />
<line x1="381.25" y1="142.5" x2="381.25" y2="143.8" stroke="#2b2b2b" stroke-width="1.0" />
<text x="349.3" y="168" font-size="12.3" text-anchor="middle" fill="#111" >z' (kΩ)</text>
<text transform="translate(255.8,75) rotate(-90) scale(0.95,1)" font-size="12.8" text-anchor="middle" fill="#111">-z" (kΩ)</text>
<text x="277.5" y="22.4" font-size="7.5" text-anchor="start" fill="#d49b12" >Ni/PbS-QD</text>
<line x1="428.2" y1="14.4" x2="440" y2="14.4" stroke="#4a4a4a" stroke-width="1.4" />
<circle cx="433.90" cy="14.40" r="2.4" fill="#4a4a4a" stroke="#000" stroke-opacity="0.12" stroke-width="0.4"/>
<circle cx="433.70" cy="14.15" r="0.72" fill="#fff" fill-opacity="0.55"/>
<text x="442.8" y="16.95" font-size="7.1" text-anchor="start" fill="#111" >1.0</text>
<line x1="428.2" y1="22.95" x2="440" y2="22.95" stroke="#ee3a3e" stroke-width="1.4" />
<circle cx="433.90" cy="22.95" r="2.4" fill="#ee3a3e" stroke="#000" stroke-opacity="0.12" stroke-width="0.4"/>
<circle cx="433.70" cy="22.70" r="0.72" fill="#fff" fill-opacity="0.55"/>
<text x="442.8" y="25.5" font-size="7.1" text-anchor="start" fill="#111" >1.1</text>
<line x1="428.2" y1="31.5" x2="440" y2="31.5" stroke="#2b6fdc" stroke-width="1.4" />
<circle cx="433.90" cy="31.50" r="2.4" fill="#2b6fdc" stroke="#000" stroke-opacity="0.12" stroke-width="0.4"/>
<circle cx="433.70" cy="31.25" r="0.72" fill="#fff" fill-opacity="0.55"/>
<text x="442.8" y="34.05" font-size="7.1" text-anchor="start" fill="#111" >1.2</text>
<line x1="428.2" y1="40.05" x2="440" y2="40.05" stroke="#35a560" stroke-width="1.4" />
<circle cx="433.90" cy="40.05" r="2.4" fill="#35a560" stroke="#000" stroke-opacity="0.12" stroke-width="0.4"/>
<circle cx="433.70" cy="39.80" r="0.72" fill="#fff" fill-opacity="0.55"/>
<text x="442.8" y="42.6" font-size="7.1" text-anchor="start" fill="#111" >1.3</text>
<line x1="428.2" y1="48.6" x2="440" y2="48.6" stroke="#b27fe3" stroke-width="1.4" />
<circle cx="433.90" cy="48.60" r="2.4" fill="#b27fe3" stroke="#000" stroke-opacity="0.12" stroke-width="0.4"/>
<circle cx="433.70" cy="48.35" r="0.72" fill="#fff" fill-opacity="0.55"/>
<text x="442.8" y="51.15" font-size="7.1" text-anchor="start" fill="#111" >1.4</text>
<line x1="428.2" y1="57.15" x2="440" y2="57.15" stroke="#d49b12" stroke-width="1.4" />
<circle cx="433.90" cy="57.15" r="2.4" fill="#d49b12" stroke="#000" stroke-opacity="0.12" stroke-width="0.4"/>
<circle cx="433.70" cy="56.90" r="0.72" fill="#fff" fill-opacity="0.55"/>
<text x="442.8" y="59.7" font-size="7.1" text-anchor="start" fill="#111" >1.5</text>
<line x1="428.2" y1="65.7" x2="440" y2="65.7" stroke="#22c8d2" stroke-width="1.4" />
<circle cx="433.90" cy="65.70" r="2.4" fill="#22c8d2" stroke="#000" stroke-opacity="0.12" stroke-width="0.4"/>
<circle cx="433.70" cy="65.45" r="0.72" fill="#fff" fill-opacity="0.55"/>
<text x="442.8" y="68.25" font-size="7.1" text-anchor="start" fill="#111" >1.6</text>
<line x1="428.2" y1="74.25" x2="440" y2="74.25" stroke="#8a5656" stroke-width="1.4" />
<circle cx="433.90" cy="74.25" r="2.4" fill="#8a5656" stroke="#000" stroke-opacity="0.12" stroke-width="0.4"/>
<circle cx="433.70" cy="74.00" r="0.72" fill="#fff" fill-opacity="0.55"/>
<text x="442.8" y="76.8" font-size="7.1" text-anchor="start" fill="#111" >1.7</text>
<line x1="428.2" y1="82.8" x2="440" y2="82.8" stroke="#999a12" stroke-width="1.4" />
<circle cx="433.90" cy="82.80" r="2.4" fill="#999a12" stroke="#000" stroke-opacity="0.12" stroke-width="0.4"/>
<circle cx="433.70" cy="82.55" r="0.72" fill="#fff" fill-opacity="0.55"/>
<text x="442.8" y="85.35" font-size="7.1" text-anchor="start" fill="#111" >1.8</text>
<g clip-path="url(#cb)">
<path d="M279.60,134.50 L279.77,134.45 L279.97,134.40 L280.22,134.34 L280.50,134.27 L280.80,134.19 L281.11,134.11 L281.44,134.02 L281.77,133.93 L282.10,133.83 L282.42,133.72 L282.72,133.61 L283.00,133.50 L283.26,133.38 L283.52,133.25 L283.78,133.12 L284.03,132.98 L284.28,132.84 L284.52,132.69 L284.77,132.53 L285.01,132.37 L285.26,132.21 L285.50,132.04 L285.75,131.87 L286.00,131.70 L286.25,131.52 L286.51,131.34 L286.77,131.15 L287.03,130.96 L287.29,130.76 L287.55,130.56 L287.81,130.35 L288.06,130.14 L288.31,129.94 L288.55,129.72 L288.78,129.51 L289.00,129.30 L289.21,129.09 L289.41,128.87 L289.61,128.66 L289.80,128.44 L289.98,128.22 L290.16,127.99 L290.33,127.77 L290.50,127.54 L290.68,127.31 L290.85,127.08 L291.02,126.84 L291.20,126.60 L291.38,126.36 L291.56,126.11 L291.74,125.86 L291.92,125.60 L292.10,125.35 L292.28,125.09 L292.46,124.83 L292.63,124.56 L292.81,124.30 L292.97,124.03 L293.14,123.77 L293.30,123.50 L293.46,123.23 L293.61,122.97 L293.75,122.70 L293.89,122.44 L294.03,122.17 L294.17,121.90 L294.30,121.63 L294.44,121.35 L294.58,121.07 L294.72,120.79 L294.86,120.50 L295.00,120.20 L295.15,119.90 L295.30,119.58 L295.45,119.27 L295.61,118.94 L295.76,118.62 L295.92,118.29 L296.07,117.96 L296.23,117.62 L296.38,117.29 L296.52,116.96 L296.66,116.63 L296.80,116.30 L296.93,115.97 L297.06,115.65 L297.18,115.33 L297.30,115.00 L297.41,114.67 L297.53,114.35 L297.64,114.02 L297.75,113.70 L297.86,113.37 L297.97,113.05 L298.08,112.72 L298.20,112.40 L298.32,112.08 L298.43,111.77 L298.54,111.46 L298.65,111.16 L298.76,110.86 L298.87,110.55 L298.98,110.24 L299.10,109.92 L299.21,109.59 L299.34,109.24 L299.47,108.88 L299.60,108.50 L299.74,108.10 L299.89,107.67 L300.04,107.23 L300.19,106.77 L300.35,106.30 L300.51,105.82 L300.68,105.34 L300.84,104.86 L301.01,104.38 L301.17,103.91 L301.34,103.45 L301.50,103.00 L301.66,102.57 L301.82,102.14 L301.98,101.73 L302.14,101.31 L302.30,100.91 L302.46,100.50 L302.63,100.09 L302.79,99.69 L302.96,99.27 L303.14,98.86 L303.32,98.43 L303.50,98.00 L303.69,97.56 L303.88,97.12 L304.07,96.68 L304.26,96.24 L304.46,95.79 L304.66,95.34 L304.86,94.89 L305.07,94.43 L305.29,93.96 L305.52,93.48 L305.76,92.99 L306.00,92.50 L306.25,92.00 L306.51,91.49 L306.78,90.97 L307.06,90.44 L307.34,89.91 L307.62,89.38 L307.92,88.83 L308.22,88.28 L308.53,87.72 L308.85,87.15 L309.17,86.58 L309.50,86.00 L309.84,85.42 L310.18,84.83 L310.52,84.24 L310.87,83.65 L311.23,83.05 L311.60,82.44 L311.98,81.82 L312.36,81.19 L312.75,80.54 L313.16,79.88 L313.57,79.20 L314.00,78.50 L314.44,77.77 L314.88,77.02 L315.33,76.24 L315.78,75.43 L316.25,74.62 L316.73,73.79 L317.21,72.97 L317.72,72.14 L318.24,71.33 L318.77,70.53 L319.33,69.75 L319.90,69.00 L320.48,68.28 L321.07,67.59 L321.67,66.92 L322.28,66.26 L322.91,65.62 L323.55,64.98 L324.22,64.33 L324.91,63.67 L325.63,63.00 L326.38,62.30 L327.17,61.57 L328.00,60.80 L328.87,60.00 L329.77,59.18 L330.71,58.34 L331.68,57.48 L332.68,56.60 L333.71,55.71 L334.76,54.80 L335.83,53.88 L336.92,52.95 L338.03,52.00 L339.16,51.06 L340.30,50.10 L341.45,49.14 L342.61,48.16 L343.77,47.18 L344.96,46.18 L346.16,45.17 L347.39,44.16 L348.65,43.13 L349.94,42.09 L351.27,41.03 L352.63,39.97 L354.04,38.89 L355.50,37.80 L357.01,36.69 L358.56,35.56 L360.15,34.41 L361.79,33.24 L363.45,32.06 L365.16,30.87 L366.89,29.68 L368.65,28.49 L370.43,27.30 L372.24,26.12 L374.06,24.95 L375.90,23.80 L377.85,22.62 L379.96,21.38 L382.19,20.09 L384.49,18.79 L386.82,17.50 L389.12,16.23 L391.36,15.00 L393.47,13.85 L395.42,12.79 L397.16,11.85 L398.63,11.05 L399.80,10.40" fill="none" stroke="#4a4a4a" stroke-width="1.4" stroke-linejoin="round"/>
<circle cx="279.60" cy="134.50" r="2.4" fill="#4a4a4a" stroke="#000" stroke-opacity="0.12" stroke-width="0.4"/>
<circle cx="279.40" cy="134.25" r="0.72" fill="#fff" fill-opacity="0.55"/>
<circle cx="282.11" cy="133.83" r="2.4" fill="#4a4a4a" stroke="#000" stroke-opacity="0.12" stroke-width="0.4"/>
<circle cx="281.91" cy="133.58" r="0.72" fill="#fff" fill-opacity="0.55"/>
<circle cx="284.46" cy="132.73" r="2.4" fill="#4a4a4a" stroke="#000" stroke-opacity="0.12" stroke-width="0.4"/>
<circle cx="284.26" cy="132.48" r="0.72" fill="#fff" fill-opacity="0.55"/>
<circle cx="286.61" cy="131.27" r="2.4" fill="#4a4a4a" stroke="#000" stroke-opacity="0.12" stroke-width="0.4"/>
<circle cx="286.41" cy="131.02" r="0.72" fill="#fff" fill-opacity="0.55"/>
<circle cx="288.64" cy="129.64" r="2.4" fill="#4a4a4a" stroke="#000" stroke-opacity="0.12" stroke-width="0.4"/>
<circle cx="288.44" cy="129.39" r="0.72" fill="#fff" fill-opacity="0.55"/>
<circle cx="290.37" cy="127.71" r="2.4" fill="#4a4a4a" stroke="#000" stroke-opacity="0.12" stroke-width="0.4"/>
<circle cx="290.17" cy="127.46" r="0.72" fill="#fff" fill-opacity="0.55"/>
<circle cx="291.91" cy="125.62" r="2.4" fill="#4a4a4a" stroke="#000" stroke-opacity="0.12" stroke-width="0.4"/>
<circle cx="291.71" cy="125.37" r="0.72" fill="#fff" fill-opacity="0.55"/>
<circle cx="293.33" cy="123.44" r="2.4" fill="#4a4a4a" stroke="#000" stroke-opacity="0.12" stroke-width="0.4"/>
<circle cx="293.13" cy="123.19" r="0.72" fill="#fff" fill-opacity="0.55"/>
<circle cx="294.54" cy="121.14" r="2.4" fill="#4a4a4a" stroke="#000" stroke-opacity="0.12" stroke-width="0.4"/>
<circle cx="294.34" cy="120.89" r="0.72" fill="#fff" fill-opacity="0.55"/>
<circle cx="295.68" cy="118.80" r="2.4" fill="#4a4a4a" stroke="#000" stroke-opacity="0.12" stroke-width="0.4"/>
<circle cx="295.48" cy="118.55" r="0.72" fill="#fff" fill-opacity="0.55"/>
<circle cx="296.75" cy="116.43" r="2.4" fill="#4a4a4a" stroke="#000" stroke-opacity="0.12" stroke-width="0.4"/>
<circle cx="296.55" cy="116.18" r="0.72" fill="#fff" fill-opacity="0.55"/>
<circle cx="297.65" cy="113.99" r="2.4" fill="#4a4a4a" stroke="#000" stroke-opacity="0.12" stroke-width="0.4"/>
<circle cx="297.45" cy="113.74" r="0.72" fill="#fff" fill-opacity="0.55"/>
<circle cx="298.51" cy="111.54" r="2.4" fill="#4a4a4a" stroke="#000" stroke-opacity="0.12" stroke-width="0.4"/>
<circle cx="298.31" cy="111.29" r="0.72" fill="#fff" fill-opacity="0.55"/>
<circle cx="299.39" cy="109.09" r="2.4" fill="#4a4a4a" stroke="#000" stroke-opacity="0.12" stroke-width="0.4"/>
<circle cx="299.19" cy="108.84" r="0.72" fill="#fff" fill-opacity="0.55"/>
<circle cx="300.24" cy="106.63" r="2.4" fill="#4a4a4a" stroke="#000" stroke-opacity="0.12" stroke-width="0.4"/>
<circle cx="300.04" cy="106.38" r="0.72" fill="#fff" fill-opacity="0.55"/>
<circle cx="301.08" cy="104.17" r="2.4" fill="#4a4a4a" stroke="#000" stroke-opacity="0.12" stroke-width="0.4"/>
<circle cx="300.88" cy="103.92" r="0.72" fill="#fff" fill-opacity="0.55"/>
<circle cx="301.98" cy="101.74" r="2.4" fill="#4a4a4a" stroke="#000" stroke-opacity="0.12" stroke-width="0.4"/>
<circle cx="301.78" cy="101.49" r="0.72" fill="#fff" fill-opacity="0.55"/>
<circle cx="302.96" cy="99.33" r="2.4" fill="#4a4a4a" stroke="#000" stroke-opacity="0.12" stroke-width="0.4"/>
<circle cx="302.76" cy="99.08" r="0.72" fill="#fff" fill-opacity="0.55"/>
<circle cx="306.00" cy="92.50" r="2.4" fill="#4a4a4a" stroke="#000" stroke-opacity="0.12" stroke-width="0.4"/>
<circle cx="305.80" cy="92.25" r="0.72" fill="#fff" fill-opacity="0.55"/>
<circle cx="309.50" cy="86.00" r="2.4" fill="#4a4a4a" stroke="#000" stroke-opacity="0.12" stroke-width="0.4"/>
<circle cx="309.30" cy="85.75" r="0.72" fill="#fff" fill-opacity="0.55"/>
<circle cx="314.00" cy="78.50" r="2.4" fill="#4a4a4a" stroke="#000" stroke-opacity="0.12" stroke-width="0.4"/>
<circle cx="313.80" cy="78.25" r="0.72" fill="#fff" fill-opacity="0.55"/>
<circle cx="319.90" cy="69.00" r="2.4" fill="#4a4a4a" stroke="#000" stroke-opacity="0.12" stroke-width="0.4"/>
<circle cx="319.70" cy="68.75" r="0.72" fill="#fff" fill-opacity="0.55"/>
<circle cx="328.00" cy="60.80" r="2.4" fill="#4a4a4a" stroke="#000" stroke-opacity="0.12" stroke-width="0.4"/>
<circle cx="327.80" cy="60.55" r="0.72" fill="#fff" fill-opacity="0.55"/>
<circle cx="340.30" cy="50.10" r="2.4" fill="#4a4a4a" stroke="#000" stroke-opacity="0.12" stroke-width="0.4"/>
<circle cx="340.10" cy="49.85" r="0.72" fill="#fff" fill-opacity="0.55"/>
<circle cx="355.50" cy="37.80" r="2.4" fill="#4a4a4a" stroke="#000" stroke-opacity="0.12" stroke-width="0.4"/>
<circle cx="355.30" cy="37.55" r="0.72" fill="#fff" fill-opacity="0.55"/>
<circle cx="375.90" cy="23.80" r="2.4" fill="#4a4a4a" stroke="#000" stroke-opacity="0.12" stroke-width="0.4"/>
<circle cx="375.70" cy="23.55" r="0.72" fill="#fff" fill-opacity="0.55"/>
<circle cx="399.80" cy="10.40" r="2.4" fill="#4a4a4a" stroke="#000" stroke-opacity="0.12" stroke-width="0.4"/>
<circle cx="399.60" cy="10.15" r="0.72" fill="#fff" fill-opacity="0.55"/>
</g>
<g clip-path="url(#cb)">
<path d="M279.60,134.50 L279.77,134.45 L279.97,134.40 L280.22,134.34 L280.50,134.27 L280.80,134.19 L281.11,134.11 L281.44,134.02 L281.77,133.93 L282.10,133.83 L282.42,133.72 L282.72,133.61 L283.00,133.50 L283.26,133.38 L283.52,133.25 L283.78,133.12 L284.03,132.98 L284.28,132.84 L284.52,132.69 L284.77,132.53 L285.01,132.37 L285.26,132.21 L285.50,132.04 L285.75,131.87 L286.00,131.70 L286.25,131.52 L286.51,131.34 L286.77,131.15 L287.03,130.96 L287.29,130.76 L287.55,130.56 L287.81,130.35 L288.06,130.14 L288.31,129.94 L288.55,129.72 L288.78,129.51 L289.00,129.30 L289.21,129.09 L289.41,128.87 L289.61,128.66 L289.80,128.44 L289.98,128.22 L290.16,127.99 L290.33,127.77 L290.50,127.54 L290.68,127.31 L290.85,127.08 L291.02,126.84 L291.20,126.60 L291.38,126.36 L291.56,126.11 L291.74,125.86 L291.92,125.60 L292.10,125.35 L292.28,125.09 L292.46,124.83 L292.63,124.56 L292.81,124.30 L292.97,124.03 L293.14,123.77 L293.30,123.50 L293.46,123.23 L293.61,122.97 L293.75,122.70 L293.89,122.44 L294.03,122.17 L294.17,121.90 L294.30,121.63 L294.44,121.35 L294.58,121.07 L294.72,120.79 L294.86,120.50 L295.00,120.20 L295.15,119.90 L295.30,119.58 L295.45,119.27 L295.61,118.94 L295.76,118.62 L295.92,118.29 L296.07,117.96 L296.23,117.62 L296.38,117.29 L296.52,116.96 L296.66,116.63 L296.80,116.30 L296.93,115.97 L297.06,115.65 L297.18,115.33 L297.30,115.00 L297.41,114.67 L297.53,114.35 L297.64,114.02 L297.75,113.70 L297.86,113.37 L297.97,113.05 L298.08,112.72 L298.20,112.40 L298.32,112.08 L298.43,111.77 L298.54,111.46 L298.66,111.15 L298.77,110.85 L298.88,110.54 L299.00,110.22 L299.11,109.90 L299.23,109.57 L299.35,109.23 L299.47,108.87 L299.60,108.50 L299.73,108.11 L299.86,107.69 L300.00,107.27 L300.14,106.83 L300.28,106.38 L300.42,105.92 L300.56,105.46 L300.71,105.00 L300.85,104.54 L301.00,104.08 L301.15,103.64 L301.30,103.20 L301.45,102.77 L301.60,102.35 L301.75,101.94 L301.90,101.53 L302.06,101.12 L302.21,100.71 L302.37,100.30 L302.53,99.89 L302.69,99.47 L302.86,99.05 L303.03,98.63 L303.20,98.20 L303.38,97.77 L303.55,97.35 L303.73,96.92 L303.91,96.50 L304.10,96.07 L304.29,95.64 L304.48,95.20 L304.67,94.76 L304.87,94.29 L305.08,93.81 L305.29,93.32 L305.50,92.80 L305.72,92.25 L305.93,91.67 L306.15,91.07 L306.37,90.44 L306.59,89.80 L306.82,89.16 L307.05,88.51 L307.30,87.87 L307.56,87.24 L307.82,86.63 L308.10,86.05 L308.40,85.50 L308.71,84.99 L309.03,84.51 L309.36,84.06 L309.71,83.63 L310.06,83.21 L310.43,82.79 L310.80,82.38 L311.18,81.95 L311.57,81.51 L311.97,81.04 L312.38,80.54 L312.80,80.00 L313.20,79.44 L313.58,78.88 L313.94,78.31 L314.30,77.74 L314.66,77.14 L315.05,76.52 L315.47,75.88 L315.94,75.20 L316.46,74.47 L317.05,73.70 L317.73,72.88 L318.50,72.00 L319.38,71.04 L320.36,70.00 L321.43,68.89 L322.58,67.73 L323.78,66.53 L325.03,65.29 L326.30,64.05 L327.58,62.80 L328.85,61.57 L330.11,60.37 L331.33,59.21 L332.50,58.10 L333.63,57.03 L334.75,55.98 L335.86,54.94 L336.96,53.91 L338.06,52.90 L339.15,51.90 L340.24,50.92 L341.34,49.94 L342.44,48.99 L343.55,48.04 L344.67,47.12 L345.80,46.20 L346.93,45.31 L348.04,44.46 L349.14,43.63 L350.24,42.82 L351.35,42.02 L352.46,41.24 L353.60,40.45 L354.76,39.66 L355.95,38.85 L357.19,38.03 L358.47,37.18 L359.80,36.30 L361.18,35.39 L362.61,34.46 L364.07,33.51 L365.57,32.55 L367.11,31.58 L368.67,30.59 L370.26,29.60 L371.87,28.60 L373.50,27.60 L375.16,26.60 L376.82,25.60 L378.50,24.60 L380.27,23.56 L382.19,22.45 L384.22,21.30 L386.31,20.12 L388.43,18.93 L390.52,17.77 L392.54,16.64 L394.46,15.58 L396.23,14.60 L397.80,13.73 L399.14,12.99 L400.20,12.40" fill="none" stroke="#ee3a3e" stroke-width="1.4" stroke-linejoin="round"/>
<circle cx="279.60" cy="134.50" r="2.4" fill="#ee3a3e" stroke="#000" stroke-opacity="0.12" stroke-width="0.4"/>
<circle cx="279.40" cy="134.25" r="0.72" fill="#fff" fill-opacity="0.55"/>
<circle cx="282.11" cy="133.83" r="2.4" fill="#ee3a3e" stroke="#000" stroke-opacity="0.12" stroke-width="0.4"/>
<circle cx="281.91" cy="133.58" r="0.72" fill="#fff" fill-opacity="0.55"/>
<circle cx="284.46" cy="132.73" r="2.4" fill="#ee3a3e" stroke="#000" stroke-opacity="0.12" stroke-width="0.4"/>
<circle cx="284.26" cy="132.48" r="0.72" fill="#fff" fill-opacity="0.55"/>
<circle cx="286.61" cy="131.27" r="2.4" fill="#ee3a3e" stroke="#000" stroke-opacity="0.12" stroke-width="0.4"/>
<circle cx="286.41" cy="131.02" r="0.72" fill="#fff" fill-opacity="0.55"/>
<circle cx="288.64" cy="129.64" r="2.4" fill="#ee3a3e" stroke="#000" stroke-opacity="0.12" stroke-width="0.4"/>
<circle cx="288.44" cy="129.39" r="0.72" fill="#fff" fill-opacity="0.55"/>
<circle cx="290.37" cy="127.71" r="2.4" fill="#ee3a3e" stroke="#000" stroke-opacity="0.12" stroke-width="0.4"/>
<circle cx="290.17" cy="127.46" r="0.72" fill="#fff" fill-opacity="0.55"/>
<circle cx="291.91" cy="125.62" r="2.4" fill="#ee3a3e" stroke="#000" stroke-opacity="0.12" stroke-width="0.4"/>
<circle cx="291.71" cy="125.37" r="0.72" fill="#fff" fill-opacity="0.55"/>
<circle cx="293.33" cy="123.44" r="2.4" fill="#ee3a3e" stroke="#000" stroke-opacity="0.12" stroke-width="0.4"/>
<circle cx="293.13" cy="123.19" r="0.72" fill="#fff" fill-opacity="0.55"/>
<circle cx="294.54" cy="121.14" r="2.4" fill="#ee3a3e" stroke="#000" stroke-opacity="0.12" stroke-width="0.4"/>
<circle cx="294.34" cy="120.89" r="0.72" fill="#fff" fill-opacity="0.55"/>
<circle cx="295.68" cy="118.80" r="2.4" fill="#ee3a3e" stroke="#000" stroke-opacity="0.12" stroke-width="0.4"/>
<circle cx="295.48" cy="118.55" r="0.72" fill="#fff" fill-opacity="0.55"/>
<circle cx="296.75" cy="116.43" r="2.4" fill="#ee3a3e" stroke="#000" stroke-opacity="0.12" stroke-width="0.4"/>
<circle cx="296.55" cy="116.18" r="0.72" fill="#fff" fill-opacity="0.55"/>
<circle cx="297.65" cy="113.99" r="2.4" fill="#ee3a3e" stroke="#000" stroke-opacity="0.12" stroke-width="0.4"/>
<circle cx="297.45" cy="113.74" r="0.72" fill="#fff" fill-opacity="0.55"/>
<circle cx="298.51" cy="111.54" r="2.4" fill="#ee3a3e" stroke="#000" stroke-opacity="0.12" stroke-width="0.4"/>
<circle cx="298.31" cy="111.29" r="0.72" fill="#fff" fill-opacity="0.55"/>
<circle cx="299.40" cy="109.09" r="2.4" fill="#ee3a3e" stroke="#000" stroke-opacity="0.12" stroke-width="0.4"/>
<circle cx="299.20" cy="108.84" r="0.72" fill="#fff" fill-opacity="0.55"/>
<circle cx="300.20" cy="106.62" r="2.4" fill="#ee3a3e" stroke="#000" stroke-opacity="0.12" stroke-width="0.4"/>
<circle cx="300.00" cy="106.37" r="0.72" fill="#fff" fill-opacity="0.55"/>
<circle cx="300.98" cy="104.14" r="2.4" fill="#ee3a3e" stroke="#000" stroke-opacity="0.12" stroke-width="0.4"/>
<circle cx="300.78" cy="103.89" r="0.72" fill="#fff" fill-opacity="0.55"/>
<circle cx="301.85" cy="101.69" r="2.4" fill="#ee3a3e" stroke="#000" stroke-opacity="0.12" stroke-width="0.4"/>
<circle cx="301.65" cy="101.44" r="0.72" fill="#fff" fill-opacity="0.55"/>
<circle cx="302.79" cy="99.27" r="2.4" fill="#ee3a3e" stroke="#000" stroke-opacity="0.12" stroke-width="0.4"/>
<circle cx="302.59" cy="99.02" r="0.72" fill="#fff" fill-opacity="0.55"/>
<circle cx="305.50" cy="92.80" r="2.4" fill="#ee3a3e" stroke="#000" stroke-opacity="0.12" stroke-width="0.4"/>
<circle cx="305.30" cy="92.55" r="0.72" fill="#fff" fill-opacity="0.55"/>
<circle cx="308.40" cy="85.50" r="2.4" fill="#ee3a3e" stroke="#000" stroke-opacity="0.12" stroke-width="0.4"/>
<circle cx="308.20" cy="85.25" r="0.72" fill="#fff" fill-opacity="0.55"/>
<circle cx="312.80" cy="80.00" r="2.4" fill="#ee3a3e" stroke="#000" stroke-opacity="0.12" stroke-width="0.4"/>
<circle cx="312.60" cy="79.75" r="0.72" fill="#fff" fill-opacity="0.55"/>
<circle cx="318.50" cy="72.00" r="2.4" fill="#ee3a3e" stroke="#000" stroke-opacity="0.12" stroke-width="0.4"/>
<circle cx="318.30" cy="71.75" r="0.72" fill="#fff" fill-opacity="0.55"/>
<circle cx="332.50" cy="58.10" r="2.4" fill="#ee3a3e" stroke="#000" stroke-opacity="0.12" stroke-width="0.4"/>
<circle cx="332.30" cy="57.85" r="0.72" fill="#fff" fill-opacity="0.55"/>
<circle cx="345.80" cy="46.20" r="2.4" fill="#ee3a3e" stroke="#000" stroke-opacity="0.12" stroke-width="0.4"/>
<circle cx="345.60" cy="45.95" r="0.72" fill="#fff" fill-opacity="0.55"/>
<circle cx="359.80" cy="36.30" r="2.4" fill="#ee3a3e" stroke="#000" stroke-opacity="0.12" stroke-width="0.4"/>
<circle cx="359.60" cy="36.05" r="0.72" fill="#fff" fill-opacity="0.55"/>
<circle cx="378.50" cy="24.60" r="2.4" fill="#ee3a3e" stroke="#000" stroke-opacity="0.12" stroke-width="0.4"/>
<circle cx="378.30" cy="24.35" r="0.72" fill="#fff" fill-opacity="0.55"/>
<circle cx="400.20" cy="12.40" r="2.4" fill="#ee3a3e" stroke="#000" stroke-opacity="0.12" stroke-width="0.4"/>
<circle cx="400.00" cy="12.15" r="0.72" fill="#fff" fill-opacity="0.55"/>
</g>
<path d="M279.60,134.50 L279.77,134.45 L279.97,134.40 L280.22,134.34 L280.50,134.27 L280.80,134.19 L281.11,134.11 L281.44,134.02 L281.77,133.93 L282.10,133.83 L282.42,133.72 L282.72,133.61 L283.00,133.50 L283.26,133.38 L283.52,133.25 L283.78,133.12 L284.03,132.98 L284.28,132.84 L284.52,132.69 L284.77,132.53 L285.01,132.37 L285.26,132.21 L285.50,132.04 L285.75,131.87 L286.00,131.70 L286.25,131.52 L286.51,131.34 L286.77,131.15 L287.03,130.96 L287.29,130.76 L287.55,130.56 L287.81,130.35 L288.06,130.14 L288.31,129.94 L288.55,129.72 L288.78,129.51 L289.00,129.30 L289.21,129.09 L289.41,128.87 L289.61,128.66 L289.80,128.44 L289.98,128.22 L290.16,127.99 L290.33,127.77 L290.50,127.54 L290.68,127.31 L290.85,127.08 L291.02,126.84 L291.20,126.60 L291.38,126.36 L291.56,126.11 L291.74,125.86 L291.92,125.60 L292.10,125.35 L292.28,125.09 L292.46,124.83 L292.63,124.56 L292.81,124.30 L292.97,124.03 L293.14,123.77 L293.30,123.50 L293.46,123.23 L293.61,122.97 L293.75,122.70 L293.89,122.44 L294.03,122.17 L294.17,121.90 L294.30,121.63 L294.44,121.35 L294.58,121.07 L294.72,120.79 L294.86,120.50 L295.00,120.20 L295.15,119.90 L295.30,119.58 L295.45,119.27 L295.61,118.94 L295.76,118.62 L295.92,118.29 L296.07,117.96 L296.23,117.62 L296.38,117.29 L296.52,116.96 L296.66,116.63 L296.80,116.30 L296.93,115.97 L297.06,115.65 L297.18,115.33 L297.30,115.00 L297.41,114.67 L297.53,114.35 L297.64,114.02 L297.75,113.70 L297.86,113.37 L297.97,113.05 L298.08,112.72 L298.20,112.40 L298.32,112.08 L298.43,111.77 L298.54,111.46 L298.65,111.16 L298.76,110.86 L298.87,110.55 L298.98,110.24 L299.10,109.92 L299.21,109.59 L299.34,109.24 L299.47,108.88 L299.60,108.50 L299.74,108.10 L299.89,107.67 L300.04,107.23 L300.19,106.77 L300.35,106.30 L300.51,105.82 L300.68,105.34 L300.84,104.86 L301.01,104.38 L301.17,103.91 L301.34,103.45 L301.50,103.00 L301.66,102.57 L301.82,102.14 L301.98,101.73 L302.14,101.31 L302.30,100.91 L302.46,100.50 L302.63,100.09 L302.79,99.69 L302.96,99.27 L303.14,98.86 L303.32,98.43 L303.50,98.00 L303.70,97.54 L303.92,97.05 L304.15,96.53 L304.39,96.00 L304.63,95.47 L304.88,94.94 L305.11,94.43 L305.33,93.94 L305.54,93.50 L305.72,93.10 L305.88,92.77 L306.00,92.50" fill="none" stroke="#4a4a4a" stroke-width="1.3"/>
<circle cx="279.60" cy="134.50" r="1.9" fill="#4a4a4a" stroke="#000" stroke-opacity="0.12" stroke-width="0.4"/>
<circle cx="279.40" cy="134.25" r="0.57" fill="#fff" fill-opacity="0.55"/>
<circle cx="281.92" cy="133.88" r="1.9" fill="#4a4a4a" stroke="#000" stroke-opacity="0.12" stroke-width="0.4"/>
<circle cx="281.72" cy="133.63" r="0.57" fill="#fff" fill-opacity="0.55"/>
<circle cx="284.12" cy="132.93" r="1.9" fill="#4a4a4a" stroke="#000" stroke-opacity="0.12" stroke-width="0.4"/>
<circle cx="283.92" cy="132.68" r="0.57" fill="#fff" fill-opacity="0.55"/>
<circle cx="286.12" cy="131.61" r="1.9" fill="#4a4a4a" stroke="#000" stroke-opacity="0.12" stroke-width="0.4"/>
<circle cx="285.92" cy="131.36" r="0.57" fill="#fff" fill-opacity="0.55"/>
<circle cx="288.03" cy="130.17" r="1.9" fill="#4a4a4a" stroke="#000" stroke-opacity="0.12" stroke-width="0.4"/>
<circle cx="287.83" cy="129.92" r="0.57" fill="#fff" fill-opacity="0.55"/>
<circle cx="289.75" cy="128.49" r="1.9" fill="#4a4a4a" stroke="#000" stroke-opacity="0.12" stroke-width="0.4"/>
<circle cx="289.55" cy="128.24" r="0.57" fill="#fff" fill-opacity="0.55"/>
<circle cx="291.21" cy="126.59" r="1.9" fill="#4a4a4a" stroke="#000" stroke-opacity="0.12" stroke-width="0.4"/>
<circle cx="291.01" cy="126.34" r="0.57" fill="#fff" fill-opacity="0.55"/>
<circle cx="292.59" cy="124.63" r="1.9" fill="#4a4a4a" stroke="#000" stroke-opacity="0.12" stroke-width="0.4"/>
<circle cx="292.39" cy="124.38" r="0.57" fill="#fff" fill-opacity="0.55"/>
<circle cx="293.82" cy="122.57" r="1.9" fill="#4a4a4a" stroke="#000" stroke-opacity="0.12" stroke-width="0.4"/>
<circle cx="293.62" cy="122.32" r="0.57" fill="#fff" fill-opacity="0.55"/>
<circle cx="294.89" cy="120.42" r="1.9" fill="#4a4a4a" stroke="#000" stroke-opacity="0.12" stroke-width="0.4"/>
<circle cx="294.69" cy="120.17" r="0.57" fill="#fff" fill-opacity="0.55"/>
<circle cx="295.93" cy="118.26" r="1.9" fill="#4a4a4a" stroke="#000" stroke-opacity="0.12" stroke-width="0.4"/>
<circle cx="295.73" cy="118.01" r="0.57" fill="#fff" fill-opacity="0.55"/>
<circle cx="296.90" cy="116.06" r="1.9" fill="#4a4a4a" stroke="#000" stroke-opacity="0.12" stroke-width="0.4"/>
<circle cx="296.70" cy="115.81" r="0.57" fill="#fff" fill-opacity="0.55"/>
<circle cx="297.71" cy="113.80" r="1.9" fill="#4a4a4a" stroke="#000" stroke-opacity="0.12" stroke-width="0.4"/>
<circle cx="297.51" cy="113.55" r="0.57" fill="#fff" fill-opacity="0.55"/>
<circle cx="298.51" cy="111.54" r="1.9" fill="#4a4a4a" stroke="#000" stroke-opacity="0.12" stroke-width="0.4"/>
<circle cx="298.31" cy="111.29" r="0.57" fill="#fff" fill-opacity="0.55"/>
<circle cx="299.32" cy="109.28" r="1.9" fill="#4a4a4a" stroke="#000" stroke-opacity="0.12" stroke-width="0.4"/>
<circle cx="299.12" cy="109.03" r="0.57" fill="#fff" fill-opacity="0.55"/>
<circle cx="300.11" cy="107.01" r="1.9" fill="#4a4a4a" stroke="#000" stroke-opacity="0.12" stroke-width="0.4"/>
<circle cx="299.91" cy="106.76" r="0.57" fill="#fff" fill-opacity="0.55"/>
<circle cx="300.88" cy="104.74" r="1.9" fill="#4a4a4a" stroke="#000" stroke-opacity="0.12" stroke-width="0.4"/>
<circle cx="300.68" cy="104.49" r="0.57" fill="#fff" fill-opacity="0.55"/>
<circle cx="301.70" cy="102.48" r="1.9" fill="#4a4a4a" stroke="#000" stroke-opacity="0.12" stroke-width="0.4"/>
<circle cx="301.50" cy="102.23" r="0.57" fill="#fff" fill-opacity="0.55"/>
<circle cx="302.58" cy="100.25" r="1.9" fill="#4a4a4a" stroke="#000" stroke-opacity="0.12" stroke-width="0.4"/>
<circle cx="302.38" cy="100.00" r="0.57" fill="#fff" fill-opacity="0.55"/>
<circle cx="303.49" cy="98.03" r="1.9" fill="#4a4a4a" stroke="#000" stroke-opacity="0.12" stroke-width="0.4"/>
<circle cx="303.29" cy="97.78" r="0.57" fill="#fff" fill-opacity="0.55"/>
<g clip-path="url(#cb)">
<path d="M279.70,132.50 L279.79,132.29 L279.89,132.03 L280.02,131.71 L280.16,131.36 L280.32,130.98 L280.48,130.58 L280.65,130.17 L280.83,129.75 L281.00,129.33 L281.17,128.93 L281.34,128.55 L281.50,128.20 L281.65,127.87 L281.81,127.55 L281.96,127.23 L282.12,126.91 L282.27,126.61 L282.43,126.30 L282.59,126.00 L282.75,125.70 L282.91,125.40 L283.07,125.10 L283.23,124.80 L283.40,124.50 L283.57,124.20 L283.74,123.91 L283.91,123.61 L284.08,123.32 L284.25,123.03 L284.42,122.74 L284.60,122.45 L284.78,122.16 L284.96,121.87 L285.14,121.58 L285.32,121.29 L285.50,121.00 L285.68,120.71 L285.87,120.42 L286.05,120.12 L286.24,119.83 L286.42,119.54 L286.61,119.25 L286.80,118.96 L287.00,118.67 L287.19,118.38 L287.39,118.08 L287.59,117.79 L287.80,117.50 L288.01,117.21 L288.22,116.92 L288.44,116.62 L288.66,116.33 L288.88,116.04 L289.11,115.75 L289.33,115.46 L289.56,115.17 L289.79,114.88 L290.03,114.58 L290.26,114.29 L290.50,114.00 L290.74,113.71 L290.98,113.42 L291.22,113.12 L291.46,112.83 L291.70,112.54 L291.95,112.25 L292.20,111.96 L292.45,111.67 L292.71,111.38 L292.97,111.08 L293.23,110.79 L293.50,110.50 L293.77,110.21 L294.05,109.92 L294.33,109.64 L294.61,109.35 L294.90,109.07 L295.19,108.78 L295.48,108.49 L295.78,108.20 L296.08,107.91 L296.38,107.61 L296.69,107.31 L297.00,107.00 L297.31,106.69 L297.63,106.37 L297.95,106.06 L298.28,105.74 L298.61,105.42 L298.94,105.09 L299.27,104.76 L299.61,104.43 L299.95,104.08 L300.30,103.73 L300.65,103.37 L301.00,103.00 L301.36,102.62 L301.72,102.23 L302.08,101.82 L302.44,101.41 L302.81,101.00 L303.19,100.58 L303.56,100.15 L303.94,99.72 L304.33,99.29 L304.72,98.86 L305.11,98.43 L305.50,98.00 L305.90,97.57 L306.30,97.15 L306.70,96.72 L307.11,96.29 L307.52,95.85 L307.94,95.42 L308.36,94.98 L308.78,94.55 L309.20,94.11 L309.63,93.67 L310.06,93.24 L310.50,92.80 L310.94,92.36 L311.38,91.93 L311.82,91.49 L312.26,91.06 L312.71,90.62 L313.16,90.18 L313.61,89.74 L314.07,89.30 L314.54,88.86 L315.02,88.41 L315.51,87.96 L316.00,87.50 L316.50,87.04 L317.01,86.58 L317.53,86.12 L318.06,85.65 L318.59,85.18 L319.12,84.71 L319.67,84.24 L320.22,83.76 L320.78,83.28 L321.35,82.79 L321.92,82.30 L322.50,81.80 L323.07,81.32 L323.61,80.88 L324.13,80.47 L324.65,80.06 L325.17,79.65 L325.72,79.22 L326.29,78.77 L326.91,78.26 L327.57,77.69 L328.30,77.05 L329.11,76.33 L330.00,75.50 L331.00,74.54 L332.10,73.43 L333.29,72.21 L334.55,70.91 L335.86,69.54 L337.21,68.14 L338.57,66.74 L339.93,65.36 L341.27,64.03 L342.58,62.77 L343.82,61.62 L345.00,60.60 L346.10,59.71 L347.15,58.91 L348.15,58.20 L349.12,57.54 L350.07,56.94 L351.01,56.37 L351.96,55.83 L352.93,55.28 L353.92,54.72 L354.96,54.13 L356.05,53.49 L357.20,52.80 L358.39,52.07 L359.58,51.33 L360.77,50.57 L361.99,49.81 L363.24,49.03 L364.52,48.24 L365.86,47.44 L367.25,46.61 L368.71,45.77 L370.25,44.90 L371.88,44.01 L373.60,43.10 L375.44,42.15 L377.42,41.16 L379.50,40.13 L381.66,39.07 L383.90,38.00 L386.18,36.91 L388.49,35.82 L390.81,34.74 L393.13,33.66 L395.41,32.61 L397.64,31.59 L399.80,30.60 L401.97,29.62 L404.23,28.62 L406.53,27.60 L408.86,26.59 L411.17,25.59 L413.44,24.62 L415.65,23.68 L417.74,22.79 L419.71,21.95 L421.51,21.18 L423.12,20.50 L424.50,19.90 L425.65,19.40 L426.59,18.99 L427.35,18.66 L427.96,18.40 L428.43,18.19 L428.79,18.03 L429.07,17.91 L429.29,17.81 L429.46,17.74 L429.62,17.67 L429.80,17.59 L430.00,17.50" fill="none" stroke="#35a560" stroke-width="1.4" stroke-linejoin="round"/>
<circle cx="279.70" cy="132.50" r="2.4" fill="#35a560" stroke="#000" stroke-opacity="0.12" stroke-width="0.4"/>
<circle cx="279.50" cy="132.25" r="0.72" fill="#fff" fill-opacity="0.55"/>
<circle cx="281.50" cy="128.20" r="2.4" fill="#35a560" stroke="#000" stroke-opacity="0.12" stroke-width="0.4"/>
<circle cx="281.30" cy="127.95" r="0.72" fill="#fff" fill-opacity="0.55"/>
<circle cx="283.40" cy="124.50" r="2.4" fill="#35a560" stroke="#000" stroke-opacity="0.12" stroke-width="0.4"/>
<circle cx="283.20" cy="124.25" r="0.72" fill="#fff" fill-opacity="0.55"/>
<circle cx="285.50" cy="121.00" r="2.4" fill="#35a560" stroke="#000" stroke-opacity="0.12" stroke-width="0.4"/>
<circle cx="285.30" cy="120.75" r="0.72" fill="#fff" fill-opacity="0.55"/>
<circle cx="287.80" cy="117.50" r="2.4" fill="#35a560" stroke="#000" stroke-opacity="0.12" stroke-width="0.4"/>
<circle cx="287.60" cy="117.25" r="0.72" fill="#fff" fill-opacity="0.55"/>
<circle cx="290.50" cy="114.00" r="2.4" fill="#35a560" stroke="#000" stroke-opacity="0.12" stroke-width="0.4"/>
<circle cx="290.30" cy="113.75" r="0.72" fill="#fff" fill-opacity="0.55"/>
<circle cx="293.50" cy="110.50" r="2.4" fill="#35a560" stroke="#000" stroke-opacity="0.12" stroke-width="0.4"/>
<circle cx="293.30" cy="110.25" r="0.72" fill="#fff" fill-opacity="0.55"/>
<circle cx="297.00" cy="107.00" r="2.4" fill="#35a560" stroke="#000" stroke-opacity="0.12" stroke-width="0.4"/>
<circle cx="296.80" cy="106.75" r="0.72" fill="#fff" fill-opacity="0.55"/>
<circle cx="301.00" cy="103.00" r="2.4" fill="#35a560" stroke="#000" stroke-opacity="0.12" stroke-width="0.4"/>
<circle cx="300.80" cy="102.75" r="0.72" fill="#fff" fill-opacity="0.55"/>
<circle cx="305.50" cy="98.00" r="2.4" fill="#35a560" stroke="#000" stroke-opacity="0.12" stroke-width="0.4"/>
<circle cx="305.30" cy="97.75" r="0.72" fill="#fff" fill-opacity="0.55"/>
<circle cx="310.50" cy="92.80" r="2.4" fill="#35a560" stroke="#000" stroke-opacity="0.12" stroke-width="0.4"/>
<circle cx="310.30" cy="92.55" r="0.72" fill="#fff" fill-opacity="0.55"/>
<circle cx="316.00" cy="87.50" r="2.4" fill="#35a560" stroke="#000" stroke-opacity="0.12" stroke-width="0.4"/>
<circle cx="315.80" cy="87.25" r="0.72" fill="#fff" fill-opacity="0.55"/>
<circle cx="322.50" cy="81.80" r="2.4" fill="#35a560" stroke="#000" stroke-opacity="0.12" stroke-width="0.4"/>
<circle cx="322.30" cy="81.55" r="0.72" fill="#fff" fill-opacity="0.55"/>
<circle cx="330.00" cy="75.50" r="2.4" fill="#35a560" stroke="#000" stroke-opacity="0.12" stroke-width="0.4"/>
<circle cx="329.80" cy="75.25" r="0.72" fill="#fff" fill-opacity="0.55"/>
<circle cx="345.00" cy="60.60" r="2.4" fill="#35a560" stroke="#000" stroke-opacity="0.12" stroke-width="0.4"/>
<circle cx="344.80" cy="60.35" r="0.72" fill="#fff" fill-opacity="0.55"/>
<circle cx="357.20" cy="52.80" r="2.4" fill="#35a560" stroke="#000" stroke-opacity="0.12" stroke-width="0.4"/>
<circle cx="357.00" cy="52.55" r="0.72" fill="#fff" fill-opacity="0.55"/>
<circle cx="373.60" cy="43.10" r="2.4" fill="#35a560" stroke="#000" stroke-opacity="0.12" stroke-width="0.4"/>
<circle cx="373.40" cy="42.85" r="0.72" fill="#fff" fill-opacity="0.55"/>
<circle cx="399.80" cy="30.60" r="2.4" fill="#35a560" stroke="#000" stroke-opacity="0.12" stroke-width="0.4"/>
<circle cx="399.60" cy="30.35" r="0.72" fill="#fff" fill-opacity="0.55"/>
<circle cx="424.50" cy="19.90" r="2.4" fill="#35a560" stroke="#000" stroke-opacity="0.12" stroke-width="0.4"/>
<circle cx="424.30" cy="19.65" r="0.72" fill="#fff" fill-opacity="0.55"/>
</g>
<g clip-path="url(#cb)">
<path d="M280.00,132.50 L280.08,132.31 L280.18,132.06 L280.30,131.77 L280.44,131.44 L280.58,131.09 L280.74,130.72 L280.90,130.33 L281.06,129.94 L281.23,129.56 L281.39,129.18 L281.55,128.83 L281.70,128.50 L281.85,128.19 L281.99,127.89 L282.14,127.59 L282.28,127.30 L282.43,127.01 L282.57,126.72 L282.72,126.43 L282.87,126.15 L283.03,125.86 L283.18,125.58 L283.34,125.29 L283.50,125.00 L283.66,124.71 L283.83,124.42 L284.00,124.12 L284.17,123.83 L284.34,123.54 L284.51,123.25 L284.69,122.96 L284.87,122.67 L285.05,122.38 L285.23,122.08 L285.41,121.79 L285.60,121.50 L285.79,121.21 L285.98,120.92 L286.17,120.62 L286.36,120.33 L286.56,120.04 L286.76,119.75 L286.96,119.46 L287.16,119.17 L287.36,118.88 L287.57,118.58 L287.79,118.29 L288.00,118.00 L288.22,117.71 L288.44,117.42 L288.66,117.12 L288.89,116.83 L289.12,116.54 L289.35,116.25 L289.58,115.96 L289.82,115.67 L290.06,115.38 L290.31,115.08 L290.55,114.79 L290.80,114.50 L291.05,114.21 L291.31,113.92 L291.56,113.62 L291.83,113.33 L292.09,113.04 L292.36,112.75 L292.63,112.46 L292.90,112.17 L293.17,111.88 L293.44,111.58 L293.72,111.29 L294.00,111.00 L294.28,110.71 L294.57,110.41 L294.87,110.11 L295.16,109.81 L295.46,109.52 L295.76,109.22 L296.06,108.92 L296.36,108.63 L296.65,108.34 L296.94,108.05 L297.22,107.77 L297.50,107.50 L297.76,107.24 L298.02,106.99 L298.26,106.76 L298.50,106.53 L298.73,106.31 L298.96,106.09 L299.20,105.86 L299.44,105.62 L299.68,105.37 L299.94,105.10 L300.21,104.81 L300.50,104.50 L300.80,104.16 L301.11,103.79 L301.43,103.40 L301.76,103.00 L302.09,102.58 L302.43,102.16 L302.78,101.72 L303.13,101.29 L303.49,100.86 L303.86,100.43 L304.23,100.01 L304.60,99.60 L304.98,99.20 L305.36,98.81 L305.75,98.42 L306.15,98.03 L306.55,97.64 L306.96,97.26 L307.38,96.87 L307.79,96.48 L308.21,96.09 L308.64,95.70 L309.07,95.30 L309.50,94.90 L309.94,94.50 L310.38,94.09 L310.83,93.68 L311.29,93.27 L311.74,92.86 L312.21,92.45 L312.67,92.03 L313.14,91.61 L313.60,91.19 L314.07,90.77 L314.54,90.34 L315.00,89.90 L315.46,89.46 L315.91,89.03 L316.36,88.59 L316.80,88.16 L317.25,87.71 L317.69,87.27 L318.15,86.82 L318.61,86.36 L319.09,85.89 L319.57,85.40 L320.08,84.91 L320.60,84.40 L321.14,83.88 L321.70,83.34 L322.27,82.80 L322.86,82.24 L323.46,81.67 L324.06,81.10 L324.68,80.52 L325.30,79.93 L325.92,79.33 L326.55,78.72 L327.17,78.11 L327.80,77.50 L328.42,76.87 L329.05,76.23 L329.67,75.56 L330.30,74.89 L330.93,74.21 L331.56,73.53 L332.21,72.84 L332.86,72.17 L333.52,71.50 L334.20,70.85 L334.89,70.21 L335.60,69.60 L336.32,69.01 L337.04,68.45 L337.77,67.91 L338.51,67.38 L339.26,66.86 L340.03,66.34 L340.80,65.83 L341.60,65.31 L342.42,64.78 L343.25,64.24 L344.11,63.68 L345.00,63.10 L345.91,62.50 L346.82,61.90 L347.75,61.29 L348.70,60.67 L349.67,60.04 L350.66,59.40 L351.68,58.75 L352.72,58.09 L353.79,57.41 L354.89,56.73 L356.03,56.02 L357.20,55.30 L358.39,54.57 L359.58,53.83 L360.77,53.07 L361.99,52.31 L363.24,51.53 L364.52,50.74 L365.86,49.94 L367.25,49.11 L368.71,48.27 L370.25,47.40 L371.88,46.51 L373.60,45.60 L375.45,44.65 L377.42,43.65 L379.50,42.62 L381.67,41.56 L383.91,40.48 L386.20,39.39 L388.51,38.29 L390.84,37.21 L393.15,36.14 L395.42,35.09 L397.65,34.07 L399.80,33.10 L401.96,32.14 L404.19,31.16 L406.46,30.18 L408.76,29.21 L411.04,28.25 L413.27,27.31 L415.44,26.41 L417.51,25.56 L419.45,24.76 L421.23,24.03 L422.82,23.37 L424.20,22.80 L425.35,22.32 L426.31,21.93 L427.09,21.61 L427.73,21.36 L428.23,21.16 L428.62,21.01 L428.94,20.89 L429.19,20.80 L429.39,20.73 L429.58,20.66 L429.78,20.59 L430.00,20.50" fill="none" stroke="#b27fe3" stroke-width="1.4" stroke-linejoin="round"/>
<circle cx="280.00" cy="132.50" r="2.4" fill="#b27fe3" stroke="#000" stroke-opacity="0.12" stroke-width="0.4"/>
<circle cx="279.80" cy="132.25" r="0.72" fill="#fff" fill-opacity="0.55"/>
<circle cx="281.70" cy="128.50" r="2.4" fill="#b27fe3" stroke="#000" stroke-opacity="0.12" stroke-width="0.4"/>
<circle cx="281.50" cy="128.25" r="0.72" fill="#fff" fill-opacity="0.55"/>
<circle cx="283.50" cy="125.00" r="2.4" fill="#b27fe3" stroke="#000" stroke-opacity="0.12" stroke-width="0.4"/>
<circle cx="283.30" cy="124.75" r="0.72" fill="#fff" fill-opacity="0.55"/>
<circle cx="285.60" cy="121.50" r="2.4" fill="#b27fe3" stroke="#000" stroke-opacity="0.12" stroke-width="0.4"/>
<circle cx="285.40" cy="121.25" r="0.72" fill="#fff" fill-opacity="0.55"/>
<circle cx="288.00" cy="118.00" r="2.4" fill="#b27fe3" stroke="#000" stroke-opacity="0.12" stroke-width="0.4"/>
<circle cx="287.80" cy="117.75" r="0.72" fill="#fff" fill-opacity="0.55"/>
<circle cx="290.80" cy="114.50" r="2.4" fill="#b27fe3" stroke="#000" stroke-opacity="0.12" stroke-width="0.4"/>
<circle cx="290.60" cy="114.25" r="0.72" fill="#fff" fill-opacity="0.55"/>
<circle cx="294.00" cy="111.00" r="2.4" fill="#b27fe3" stroke="#000" stroke-opacity="0.12" stroke-width="0.4"/>
<circle cx="293.80" cy="110.75" r="0.72" fill="#fff" fill-opacity="0.55"/>
<circle cx="297.50" cy="107.50" r="2.4" fill="#b27fe3" stroke="#000" stroke-opacity="0.12" stroke-width="0.4"/>
<circle cx="297.30" cy="107.25" r="0.72" fill="#fff" fill-opacity="0.55"/>
<circle cx="300.50" cy="104.50" r="2.4" fill="#b27fe3" stroke="#000" stroke-opacity="0.12" stroke-width="0.4"/>
<circle cx="300.30" cy="104.25" r="0.72" fill="#fff" fill-opacity="0.55"/>
<circle cx="304.60" cy="99.60" r="2.4" fill="#b27fe3" stroke="#000" stroke-opacity="0.12" stroke-width="0.4"/>
<circle cx="304.40" cy="99.35" r="0.72" fill="#fff" fill-opacity="0.55"/>
<circle cx="309.50" cy="94.90" r="2.4" fill="#b27fe3" stroke="#000" stroke-opacity="0.12" stroke-width="0.4"/>
<circle cx="309.30" cy="94.65" r="0.72" fill="#fff" fill-opacity="0.55"/>
<circle cx="315.00" cy="89.90" r="2.4" fill="#b27fe3" stroke="#000" stroke-opacity="0.12" stroke-width="0.4"/>
<circle cx="314.80" cy="89.65" r="0.72" fill="#fff" fill-opacity="0.55"/>
<circle cx="320.60" cy="84.40" r="2.4" fill="#b27fe3" stroke="#000" stroke-opacity="0.12" stroke-width="0.4"/>
<circle cx="320.40" cy="84.15" r="0.72" fill="#fff" fill-opacity="0.55"/>
<circle cx="327.80" cy="77.50" r="2.4" fill="#b27fe3" stroke="#000" stroke-opacity="0.12" stroke-width="0.4"/>
<circle cx="327.60" cy="77.25" r="0.72" fill="#fff" fill-opacity="0.55"/>
<circle cx="335.60" cy="69.60" r="2.4" fill="#b27fe3" stroke="#000" stroke-opacity="0.12" stroke-width="0.4"/>
<circle cx="335.40" cy="69.35" r="0.72" fill="#fff" fill-opacity="0.55"/>
<circle cx="345.00" cy="63.10" r="2.4" fill="#b27fe3" stroke="#000" stroke-opacity="0.12" stroke-width="0.4"/>
<circle cx="344.80" cy="62.85" r="0.72" fill="#fff" fill-opacity="0.55"/>
<circle cx="357.20" cy="55.30" r="2.4" fill="#b27fe3" stroke="#000" stroke-opacity="0.12" stroke-width="0.4"/>
<circle cx="357.00" cy="55.05" r="0.72" fill="#fff" fill-opacity="0.55"/>
<circle cx="373.60" cy="45.60" r="2.4" fill="#b27fe3" stroke="#000" stroke-opacity="0.12" stroke-width="0.4"/>
<circle cx="373.40" cy="45.35" r="0.72" fill="#fff" fill-opacity="0.55"/>
<circle cx="399.80" cy="33.10" r="2.4" fill="#b27fe3" stroke="#000" stroke-opacity="0.12" stroke-width="0.4"/>
<circle cx="399.60" cy="32.85" r="0.72" fill="#fff" fill-opacity="0.55"/>
<circle cx="424.20" cy="22.80" r="2.4" fill="#b27fe3" stroke="#000" stroke-opacity="0.12" stroke-width="0.4"/>
<circle cx="424.00" cy="22.55" r="0.72" fill="#fff" fill-opacity="0.55"/>
</g>
<g clip-path="url(#cb)">
<path d="M279.70,131.90 L279.77,131.71 L279.86,131.47 L279.97,131.19 L280.09,130.87 L280.21,130.53 L280.35,130.17 L280.49,129.79 L280.64,129.41 L280.78,129.04 L280.93,128.67 L281.07,128.32 L281.20,128.00 L281.33,127.69 L281.46,127.39 L281.59,127.10 L281.72,126.80 L281.85,126.51 L281.99,126.22 L282.12,125.94 L282.26,125.65 L282.39,125.37 L282.53,125.08 L282.66,124.79 L282.80,124.50 L282.94,124.21 L283.08,123.92 L283.22,123.62 L283.36,123.33 L283.50,123.04 L283.64,122.75 L283.78,122.46 L283.92,122.17 L284.07,121.88 L284.21,121.58 L284.35,121.29 L284.50,121.00 L284.64,120.71 L284.79,120.42 L284.93,120.13 L285.07,119.84 L285.22,119.56 L285.36,119.27 L285.51,118.98 L285.66,118.69 L285.81,118.40 L285.97,118.10 L286.13,117.80 L286.30,117.50 L286.47,117.19 L286.66,116.88 L286.84,116.56 L287.03,116.24 L287.23,115.91 L287.43,115.59 L287.62,115.26 L287.82,114.94 L288.02,114.62 L288.22,114.31 L288.41,114.00 L288.60,113.70 L288.79,113.41 L288.97,113.13 L289.15,112.85 L289.32,112.59 L289.50,112.32 L289.68,112.06 L289.85,111.79 L290.03,111.53 L290.22,111.26 L290.41,110.98 L290.60,110.69 L290.80,110.40 L291.01,110.10 L291.22,109.78 L291.43,109.47 L291.65,109.14 L291.87,108.82 L292.10,108.49 L292.33,108.16 L292.56,107.82 L292.79,107.49 L293.03,107.16 L293.26,106.83 L293.50,106.50 L293.74,106.18 L293.98,105.86 L294.21,105.55 L294.46,105.24 L294.70,104.93 L294.94,104.61 L295.19,104.30 L295.44,103.97 L295.70,103.65 L295.96,103.31 L296.23,102.96 L296.50,102.60 L296.78,102.23 L297.05,101.85 L297.33,101.45 L297.61,101.06 L297.90,100.65 L298.19,100.24 L298.48,99.82 L298.79,99.40 L299.10,98.98 L299.42,98.55 L299.76,98.13 L300.10,97.70 L300.46,97.27 L300.82,96.85 L301.19,96.41 L301.58,95.98 L301.97,95.55 L302.37,95.11 L302.78,94.66 L303.19,94.22 L303.61,93.77 L304.03,93.32 L304.46,92.86 L304.90,92.40 L305.34,91.93 L305.78,91.46 L306.23,90.99 L306.68,90.51 L307.14,90.03 L307.60,89.54 L308.07,89.06 L308.56,88.57 L309.05,88.08 L309.55,87.58 L310.07,87.09 L310.60,86.60 L311.14,86.12 L311.69,85.64 L312.25,85.18 L312.82,84.71 L313.40,84.25 L313.99,83.78 L314.59,83.30 L315.20,82.81 L315.83,82.29 L316.47,81.76 L317.13,81.20 L317.80,80.60 L318.49,79.97 L319.19,79.30 L319.90,78.61 L320.63,77.89 L321.38,77.15 L322.13,76.40 L322.90,75.64 L323.68,74.88 L324.47,74.12 L325.27,73.36 L326.08,72.62 L326.90,71.90 L327.73,71.19 L328.55,70.50 L329.39,69.81 L330.23,69.13 L331.09,68.44 L331.96,67.76 L332.84,67.08 L333.74,66.39 L334.67,65.68 L335.62,64.97 L336.59,64.24 L337.60,63.50 L338.63,62.74 L339.67,61.98 L340.73,61.20 L341.81,60.42 L342.91,59.63 L344.04,58.83 L345.19,58.02 L346.37,57.20 L347.58,56.37 L348.82,55.52 L350.09,54.67 L351.40,53.80 L352.74,52.92 L354.12,52.02 L355.52,51.11 L356.95,50.19 L358.41,49.26 L359.91,48.31 L361.43,47.36 L362.98,46.40 L364.56,45.43 L366.18,44.46 L367.82,43.48 L369.50,42.50 L371.20,41.51 L372.93,40.52 L374.68,39.53 L376.47,38.52 L378.28,37.51 L380.12,36.49 L382.01,35.47 L383.92,34.43 L385.88,33.39 L387.88,32.34 L389.91,31.27 L392.00,30.20 L394.20,29.08 L396.57,27.88 L399.06,26.64 L401.63,25.37 L404.23,24.08 L406.84,22.81 L409.40,21.57 L411.87,20.39 L414.22,19.28 L416.41,18.26 L418.38,17.36 L420.10,16.60 L421.59,15.97 L422.92,15.46 L424.09,15.05 L425.11,14.73 L426.02,14.49 L426.81,14.30 L427.50,14.16 L428.11,14.06 L428.65,13.97 L429.13,13.89 L429.58,13.81 L430.00,13.70" fill="none" stroke="#2b6fdc" stroke-width="1.4" stroke-linejoin="round"/>
<circle cx="279.70" cy="131.90" r="2.4" fill="#2b6fdc" stroke="#000" stroke-opacity="0.12" stroke-width="0.4"/>
<circle cx="279.50" cy="131.65" r="0.72" fill="#fff" fill-opacity="0.55"/>
<circle cx="281.20" cy="128.00" r="2.4" fill="#2b6fdc" stroke="#000" stroke-opacity="0.12" stroke-width="0.4"/>
<circle cx="281.00" cy="127.75" r="0.72" fill="#fff" fill-opacity="0.55"/>
<circle cx="282.80" cy="124.50" r="2.4" fill="#2b6fdc" stroke="#000" stroke-opacity="0.12" stroke-width="0.4"/>
<circle cx="282.60" cy="124.25" r="0.72" fill="#fff" fill-opacity="0.55"/>
<circle cx="284.50" cy="121.00" r="2.4" fill="#2b6fdc" stroke="#000" stroke-opacity="0.12" stroke-width="0.4"/>
<circle cx="284.30" cy="120.75" r="0.72" fill="#fff" fill-opacity="0.55"/>
<circle cx="286.30" cy="117.50" r="2.4" fill="#2b6fdc" stroke="#000" stroke-opacity="0.12" stroke-width="0.4"/>
<circle cx="286.10" cy="117.25" r="0.72" fill="#fff" fill-opacity="0.55"/>
<circle cx="288.60" cy="113.70" r="2.4" fill="#2b6fdc" stroke="#000" stroke-opacity="0.12" stroke-width="0.4"/>
<circle cx="288.40" cy="113.45" r="0.72" fill="#fff" fill-opacity="0.55"/>
<circle cx="290.80" cy="110.40" r="2.4" fill="#2b6fdc" stroke="#000" stroke-opacity="0.12" stroke-width="0.4"/>
<circle cx="290.60" cy="110.15" r="0.72" fill="#fff" fill-opacity="0.55"/>
<circle cx="293.50" cy="106.50" r="2.4" fill="#2b6fdc" stroke="#000" stroke-opacity="0.12" stroke-width="0.4"/>
<circle cx="293.30" cy="106.25" r="0.72" fill="#fff" fill-opacity="0.55"/>
<circle cx="296.50" cy="102.60" r="2.4" fill="#2b6fdc" stroke="#000" stroke-opacity="0.12" stroke-width="0.4"/>
<circle cx="296.30" cy="102.35" r="0.72" fill="#fff" fill-opacity="0.55"/>
<circle cx="300.10" cy="97.70" r="2.4" fill="#2b6fdc" stroke="#000" stroke-opacity="0.12" stroke-width="0.4"/>
<circle cx="299.90" cy="97.45" r="0.72" fill="#fff" fill-opacity="0.55"/>
<circle cx="304.90" cy="92.40" r="2.4" fill="#2b6fdc" stroke="#000" stroke-opacity="0.12" stroke-width="0.4"/>
<circle cx="304.70" cy="92.15" r="0.72" fill="#fff" fill-opacity="0.55"/>
<circle cx="310.60" cy="86.60" r="2.4" fill="#2b6fdc" stroke="#000" stroke-opacity="0.12" stroke-width="0.4"/>
<circle cx="310.40" cy="86.35" r="0.72" fill="#fff" fill-opacity="0.55"/>
<circle cx="317.80" cy="80.60" r="2.4" fill="#2b6fdc" stroke="#000" stroke-opacity="0.12" stroke-width="0.4"/>
<circle cx="317.60" cy="80.35" r="0.72" fill="#fff" fill-opacity="0.55"/>
<circle cx="326.90" cy="71.90" r="2.4" fill="#2b6fdc" stroke="#000" stroke-opacity="0.12" stroke-width="0.4"/>
<circle cx="326.70" cy="71.65" r="0.72" fill="#fff" fill-opacity="0.55"/>
<circle cx="337.60" cy="63.50" r="2.4" fill="#2b6fdc" stroke="#000" stroke-opacity="0.12" stroke-width="0.4"/>
<circle cx="337.40" cy="63.25" r="0.72" fill="#fff" fill-opacity="0.55"/>
<circle cx="351.40" cy="53.80" r="2.4" fill="#2b6fdc" stroke="#000" stroke-opacity="0.12" stroke-width="0.4"/>
<circle cx="351.20" cy="53.55" r="0.72" fill="#fff" fill-opacity="0.55"/>
<circle cx="369.50" cy="42.50" r="2.4" fill="#2b6fdc" stroke="#000" stroke-opacity="0.12" stroke-width="0.4"/>
<circle cx="369.30" cy="42.25" r="0.72" fill="#fff" fill-opacity="0.55"/>
<circle cx="392.00" cy="30.20" r="2.4" fill="#2b6fdc" stroke="#000" stroke-opacity="0.12" stroke-width="0.4"/>
<circle cx="391.80" cy="29.95" r="0.72" fill="#fff" fill-opacity="0.55"/>
<circle cx="420.10" cy="16.60" r="2.4" fill="#2b6fdc" stroke="#000" stroke-opacity="0.12" stroke-width="0.4"/>
<circle cx="419.90" cy="16.35" r="0.72" fill="#fff" fill-opacity="0.55"/>
</g>
<g clip-path="url(#cb)">
<path d="M279.50,134.00 L279.54,133.85 L279.58,133.66 L279.62,133.44 L279.68,133.20 L279.74,132.93 L279.80,132.64 L279.87,132.34 L279.94,132.04 L280.03,131.72 L280.11,131.41 L280.20,131.10 L280.30,130.80 L280.41,130.50 L280.52,130.18 L280.64,129.86 L280.77,129.53 L280.90,129.19 L281.04,128.86 L281.19,128.52 L281.33,128.18 L281.47,127.85 L281.62,127.52 L281.76,127.21 L281.90,126.90 L282.04,126.60 L282.17,126.32 L282.31,126.03 L282.44,125.76 L282.58,125.48 L282.71,125.21 L282.85,124.94 L282.99,124.68 L283.14,124.41 L283.29,124.14 L283.44,123.87 L283.60,123.60 L283.77,123.32 L283.94,123.05 L284.11,122.77 L284.30,122.50 L284.48,122.22 L284.67,121.95 L284.86,121.67 L285.05,121.40 L285.24,121.12 L285.43,120.85 L285.62,120.57 L285.80,120.30 L285.98,120.02 L286.17,119.74 L286.35,119.46 L286.53,119.18 L286.72,118.90 L286.90,118.62 L287.08,118.34 L287.27,118.06 L287.45,117.79 L287.63,117.52 L287.82,117.26 L288.00,117.00 L288.18,116.75 L288.36,116.50 L288.54,116.26 L288.71,116.03 L288.89,115.79 L289.06,115.56 L289.24,115.33 L289.42,115.11 L289.61,114.88 L289.80,114.66 L290.00,114.43 L290.20,114.20 L290.41,113.97 L290.63,113.74 L290.85,113.52 L291.07,113.29 L291.30,113.06 L291.53,112.84 L291.77,112.61 L292.01,112.39 L292.25,112.17 L292.50,111.94 L292.75,111.72 L293.00,111.50 L293.26,111.28 L293.52,111.07 L293.78,110.85 L294.04,110.64 L294.31,110.43 L294.59,110.22 L294.86,110.01 L295.14,109.79 L295.43,109.58 L295.72,109.36 L296.01,109.13 L296.30,108.90 L296.60,108.66 L296.90,108.42 L297.21,108.17 L297.53,107.92 L297.84,107.66 L298.16,107.41 L298.48,107.15 L298.81,106.89 L299.13,106.64 L299.46,106.39 L299.78,106.14 L300.10,105.90 L300.41,105.67 L300.72,105.45 L301.02,105.24 L301.31,105.04 L301.61,104.84 L301.91,104.64 L302.21,104.43 L302.53,104.21 L302.87,103.99 L303.22,103.74 L303.60,103.48 L304.00,103.20 L304.43,102.89 L304.88,102.56 L305.36,102.21 L305.85,101.84 L306.36,101.46 L306.88,101.08 L307.41,100.68 L307.95,100.29 L308.49,99.90 L309.03,99.52 L309.57,99.15 L310.10,98.80 L310.63,98.46 L311.15,98.12 L311.67,97.78 L312.19,97.44 L312.72,97.11 L313.25,96.79 L313.79,96.46 L314.34,96.14 L314.90,95.83 L315.48,95.52 L316.08,95.21 L316.70,94.90 L317.34,94.60 L318.00,94.31 L318.68,94.02 L319.37,93.73 L320.08,93.45 L320.80,93.18 L321.53,92.90 L322.26,92.62 L323.00,92.35 L323.73,92.07 L324.47,91.79 L325.20,91.50 L325.93,91.21 L326.65,90.92 L327.37,90.62 L328.10,90.33 L328.83,90.03 L329.56,89.74 L330.30,89.44 L331.06,89.15 L331.82,88.86 L332.60,88.57 L333.39,88.28 L334.20,88.00 L335.03,87.72 L335.87,87.45 L336.72,87.18 L337.59,86.91 L338.47,86.64 L339.36,86.37 L340.26,86.11 L341.17,85.84 L342.09,85.58 L343.02,85.32 L343.95,85.06 L344.90,84.80 L345.86,84.54 L346.83,84.27 L347.81,83.99 L348.80,83.72 L349.80,83.44 L350.81,83.17 L351.82,82.91 L352.85,82.65 L353.88,82.40 L354.92,82.17 L355.96,81.95 L357.00,81.75 L358.05,81.57 L359.11,81.41 L360.17,81.26 L361.24,81.12 L362.32,81.00 L363.41,80.88 L364.50,80.77 L365.59,80.66 L366.69,80.56 L367.79,80.44 L368.89,80.33 L370.00,80.20 L371.11,80.07 L372.23,79.93 L373.35,79.78 L374.47,79.64 L375.60,79.50 L376.74,79.35 L377.87,79.21 L379.01,79.08 L380.16,78.94 L381.30,78.82 L382.45,78.71 L383.60,78.60 L384.75,78.50 L385.91,78.41 L387.07,78.32 L388.23,78.23 L389.40,78.15 L390.57,78.08 L391.74,78.01 L392.91,77.96 L394.08,77.90 L395.26,77.86 L396.43,77.83 L397.60,77.80 L398.78,77.78 L399.96,77.77 L401.15,77.76 L402.34,77.76 L403.53,77.77 L404.72,77.79 L405.91,77.81 L407.09,77.85 L408.26,77.89 L409.42,77.95 L410.57,78.02 L411.70,78.10 L412.84,78.20 L414.01,78.32 L415.19,78.46 L416.37,78.61 L417.54,78.78 L418.69,78.95 L419.82,79.12 L420.90,79.30 L421.93,79.46 L422.90,79.62 L423.79,79.77 L424.60,79.90 L425.33,80.02 L426.00,80.14 L426.60,80.25 L427.16,80.36 L427.66,80.46 L428.11,80.56 L428.51,80.66 L428.88,80.74 L429.21,80.82 L429.50,80.89 L429.76,80.95 L430.00,81.00" fill="none" stroke="#d49b12" stroke-width="1.4" stroke-linejoin="round"/>
<circle cx="279.50" cy="134.00" r="2.4" fill="#d49b12" stroke="#000" stroke-opacity="0.12" stroke-width="0.4"/>
<circle cx="279.30" cy="133.75" r="0.72" fill="#fff" fill-opacity="0.55"/>
<circle cx="280.12" cy="131.37" r="2.4" fill="#d49b12" stroke="#000" stroke-opacity="0.12" stroke-width="0.4"/>
<circle cx="279.92" cy="131.12" r="0.72" fill="#fff" fill-opacity="0.55"/>
<circle cx="281.05" cy="128.84" r="2.4" fill="#d49b12" stroke="#000" stroke-opacity="0.12" stroke-width="0.4"/>
<circle cx="280.85" cy="128.59" r="0.72" fill="#fff" fill-opacity="0.55"/>
<circle cx="282.15" cy="126.37" r="2.4" fill="#d49b12" stroke="#000" stroke-opacity="0.12" stroke-width="0.4"/>
<circle cx="281.95" cy="126.12" r="0.72" fill="#fff" fill-opacity="0.55"/>
<circle cx="283.38" cy="123.97" r="2.4" fill="#d49b12" stroke="#000" stroke-opacity="0.12" stroke-width="0.4"/>
<circle cx="283.18" cy="123.72" r="0.72" fill="#fff" fill-opacity="0.55"/>
<circle cx="284.84" cy="121.70" r="2.4" fill="#d49b12" stroke="#000" stroke-opacity="0.12" stroke-width="0.4"/>
<circle cx="284.64" cy="121.45" r="0.72" fill="#fff" fill-opacity="0.55"/>
<circle cx="286.35" cy="119.46" r="2.4" fill="#d49b12" stroke="#000" stroke-opacity="0.12" stroke-width="0.4"/>
<circle cx="286.15" cy="119.21" r="0.72" fill="#fff" fill-opacity="0.55"/>
<circle cx="287.85" cy="117.22" r="2.4" fill="#d49b12" stroke="#000" stroke-opacity="0.12" stroke-width="0.4"/>
<circle cx="287.65" cy="116.97" r="0.72" fill="#fff" fill-opacity="0.55"/>
<circle cx="289.47" cy="115.06" r="2.4" fill="#d49b12" stroke="#000" stroke-opacity="0.12" stroke-width="0.4"/>
<circle cx="289.27" cy="114.81" r="0.72" fill="#fff" fill-opacity="0.55"/>
<circle cx="291.29" cy="113.07" r="2.4" fill="#d49b12" stroke="#000" stroke-opacity="0.12" stroke-width="0.4"/>
<circle cx="291.09" cy="112.82" r="0.72" fill="#fff" fill-opacity="0.55"/>
<circle cx="293.29" cy="111.25" r="2.4" fill="#d49b12" stroke="#000" stroke-opacity="0.12" stroke-width="0.4"/>
<circle cx="293.09" cy="111.00" r="0.72" fill="#fff" fill-opacity="0.55"/>
<circle cx="295.41" cy="109.59" r="2.4" fill="#d49b12" stroke="#000" stroke-opacity="0.12" stroke-width="0.4"/>
<circle cx="295.21" cy="109.34" r="0.72" fill="#fff" fill-opacity="0.55"/>
<circle cx="297.53" cy="107.91" r="2.4" fill="#d49b12" stroke="#000" stroke-opacity="0.12" stroke-width="0.4"/>
<circle cx="297.33" cy="107.66" r="0.72" fill="#fff" fill-opacity="0.55"/>
<circle cx="299.65" cy="106.24" r="2.4" fill="#d49b12" stroke="#000" stroke-opacity="0.12" stroke-width="0.4"/>
<circle cx="299.45" cy="105.99" r="0.72" fill="#fff" fill-opacity="0.55"/>
<circle cx="301.84" cy="104.67" r="2.4" fill="#d49b12" stroke="#000" stroke-opacity="0.12" stroke-width="0.4"/>
<circle cx="301.64" cy="104.42" r="0.72" fill="#fff" fill-opacity="0.55"/>
<circle cx="310.10" cy="98.80" r="2.4" fill="#d49b12" stroke="#000" stroke-opacity="0.12" stroke-width="0.4"/>
<circle cx="309.90" cy="98.55" r="0.72" fill="#fff" fill-opacity="0.55"/>
<circle cx="316.70" cy="94.90" r="2.4" fill="#d49b12" stroke="#000" stroke-opacity="0.12" stroke-width="0.4"/>
<circle cx="316.50" cy="94.65" r="0.72" fill="#fff" fill-opacity="0.55"/>
<circle cx="325.20" cy="91.50" r="2.4" fill="#d49b12" stroke="#000" stroke-opacity="0.12" stroke-width="0.4"/>
<circle cx="325.00" cy="91.25" r="0.72" fill="#fff" fill-opacity="0.55"/>
<circle cx="334.20" cy="88.00" r="2.4" fill="#d49b12" stroke="#000" stroke-opacity="0.12" stroke-width="0.4"/>
<circle cx="334.00" cy="87.75" r="0.72" fill="#fff" fill-opacity="0.55"/>
<circle cx="344.90" cy="84.80" r="2.4" fill="#d49b12" stroke="#000" stroke-opacity="0.12" stroke-width="0.4"/>
<circle cx="344.70" cy="84.55" r="0.72" fill="#fff" fill-opacity="0.55"/>
<circle cx="357.00" cy="81.75" r="2.4" fill="#d49b12" stroke="#000" stroke-opacity="0.12" stroke-width="0.4"/>
<circle cx="356.80" cy="81.50" r="0.72" fill="#fff" fill-opacity="0.55"/>
<circle cx="370.00" cy="80.20" r="2.4" fill="#d49b12" stroke="#000" stroke-opacity="0.12" stroke-width="0.4"/>
<circle cx="369.80" cy="79.95" r="0.72" fill="#fff" fill-opacity="0.55"/>
<circle cx="383.60" cy="78.60" r="2.4" fill="#d49b12" stroke="#000" stroke-opacity="0.12" stroke-width="0.4"/>
<circle cx="383.40" cy="78.35" r="0.72" fill="#fff" fill-opacity="0.55"/>
<circle cx="397.60" cy="77.80" r="2.4" fill="#d49b12" stroke="#000" stroke-opacity="0.12" stroke-width="0.4"/>
<circle cx="397.40" cy="77.55" r="0.72" fill="#fff" fill-opacity="0.55"/>
<circle cx="411.70" cy="78.10" r="2.4" fill="#d49b12" stroke="#000" stroke-opacity="0.12" stroke-width="0.4"/>
<circle cx="411.50" cy="77.85" r="0.72" fill="#fff" fill-opacity="0.55"/>
</g>
<g clip-path="url(#cb)">
<path d="M279.00,135.50 L279.07,135.37 L279.15,135.21 L279.23,135.02 L279.33,134.80 L279.44,134.56 L279.56,134.31 L279.69,134.06 L279.83,133.81 L279.98,133.58 L280.15,133.36 L280.32,133.16 L280.50,133.00 L280.70,132.86 L280.91,132.72 L281.14,132.60 L281.39,132.48 L281.64,132.38 L281.91,132.28 L282.17,132.20 L282.44,132.13 L282.71,132.07 L282.98,132.03 L283.25,132.01 L283.50,132.00 L283.76,132.01 L284.02,132.03 L284.30,132.07 L284.57,132.12 L284.85,132.18 L285.12,132.26 L285.39,132.35 L285.65,132.46 L285.89,132.58 L286.12,132.71 L286.32,132.85 L286.50,133.00 L286.66,133.18 L286.79,133.39 L286.91,133.64 L287.02,133.90 L287.11,134.18 L287.19,134.46 L287.26,134.74 L287.31,135.01 L287.37,135.25 L287.41,135.47 L287.46,135.66 L287.50,135.80" fill="none" stroke="#8a5656" stroke-width="1.4" stroke-linejoin="round"/>
<circle cx="279.00" cy="135.50" r="2.4" fill="#8a5656" stroke="#000" stroke-opacity="0.12" stroke-width="0.4"/>
<circle cx="278.80" cy="135.25" r="0.72" fill="#fff" fill-opacity="0.55"/>
<circle cx="279.79" cy="133.89" r="2.4" fill="#8a5656" stroke="#000" stroke-opacity="0.12" stroke-width="0.4"/>
<circle cx="279.59" cy="133.64" r="0.72" fill="#fff" fill-opacity="0.55"/>
<circle cx="281.06" cy="132.65" r="2.4" fill="#8a5656" stroke="#000" stroke-opacity="0.12" stroke-width="0.4"/>
<circle cx="280.86" cy="132.40" r="0.72" fill="#fff" fill-opacity="0.55"/>
<circle cx="282.75" cy="132.07" r="2.4" fill="#8a5656" stroke="#000" stroke-opacity="0.12" stroke-width="0.4"/>
<circle cx="282.55" cy="131.82" r="0.72" fill="#fff" fill-opacity="0.55"/>
<circle cx="284.54" cy="132.11" r="2.4" fill="#8a5656" stroke="#000" stroke-opacity="0.12" stroke-width="0.4"/>
<circle cx="284.34" cy="131.86" r="0.72" fill="#fff" fill-opacity="0.55"/>
<circle cx="286.21" cy="132.77" r="2.4" fill="#8a5656" stroke="#000" stroke-opacity="0.12" stroke-width="0.4"/>
<circle cx="286.01" cy="132.52" r="0.72" fill="#fff" fill-opacity="0.55"/>
<circle cx="287.13" cy="134.26" r="2.4" fill="#8a5656" stroke="#000" stroke-opacity="0.12" stroke-width="0.4"/>
<circle cx="286.93" cy="134.01" r="0.72" fill="#fff" fill-opacity="0.55"/>
</g>
<g clip-path="url(#cb)">
<path d="M279.00,135.80 L279.07,135.67 L279.15,135.51 L279.25,135.31 L279.35,135.09 L279.47,134.85 L279.59,134.60 L279.73,134.35 L279.87,134.10 L280.02,133.86 L280.17,133.65 L280.34,133.46 L280.50,133.30 L280.67,133.17 L280.86,133.05 L281.05,132.94 L281.26,132.84 L281.47,132.76 L281.69,132.68 L281.91,132.62 L282.13,132.57 L282.35,132.53 L282.57,132.51 L282.79,132.50 L283.00,132.50 L283.21,132.52 L283.43,132.55 L283.66,132.59 L283.89,132.64 L284.12,132.71 L284.34,132.79 L284.56,132.89 L284.78,132.99 L284.98,133.10 L285.17,133.23 L285.34,133.36 L285.50,133.50 L285.64,133.66 L285.77,133.86 L285.88,134.08 L285.98,134.31 L286.07,134.56 L286.16,134.81 L286.23,135.06 L286.30,135.30 L286.36,135.52 L286.41,135.71 L286.46,135.87 L286.50,136.00" fill="none" stroke="#999a12" stroke-width="1.4" stroke-linejoin="round"/>
<circle cx="279.00" cy="135.80" r="2.4" fill="#999a12" stroke="#000" stroke-opacity="0.12" stroke-width="0.4"/>
<circle cx="278.80" cy="135.55" r="0.72" fill="#fff" fill-opacity="0.55"/>
<circle cx="279.82" cy="134.20" r="2.4" fill="#999a12" stroke="#000" stroke-opacity="0.12" stroke-width="0.4"/>
<circle cx="279.62" cy="133.95" r="0.72" fill="#fff" fill-opacity="0.55"/>
<circle cx="281.06" cy="132.94" r="2.4" fill="#999a12" stroke="#000" stroke-opacity="0.12" stroke-width="0.4"/>
<circle cx="280.86" cy="132.69" r="0.72" fill="#fff" fill-opacity="0.55"/>
<circle cx="282.79" cy="132.50" r="2.4" fill="#999a12" stroke="#000" stroke-opacity="0.12" stroke-width="0.4"/>
<circle cx="282.59" cy="132.25" r="0.72" fill="#fff" fill-opacity="0.55"/>
<circle cx="284.54" cy="132.87" r="2.4" fill="#999a12" stroke="#000" stroke-opacity="0.12" stroke-width="0.4"/>
<circle cx="284.34" cy="132.62" r="0.72" fill="#fff" fill-opacity="0.55"/>
<circle cx="285.86" cy="134.03" r="2.4" fill="#999a12" stroke="#000" stroke-opacity="0.12" stroke-width="0.4"/>
<circle cx="285.66" cy="133.78" r="0.72" fill="#fff" fill-opacity="0.55"/>
<circle cx="286.42" cy="135.74" r="2.4" fill="#999a12" stroke="#000" stroke-opacity="0.12" stroke-width="0.4"/>
<circle cx="286.22" cy="135.49" r="0.72" fill="#fff" fill-opacity="0.55"/>
</g>
<g clip-path="url(#cb)">
<path d="M279.70,133.50 L279.80,133.38 L279.93,133.23 L280.07,133.06 L280.22,132.86 L280.39,132.64 L280.58,132.41 L280.78,132.18 L281.00,131.96 L281.23,131.74 L281.47,131.53 L281.73,131.35 L282.00,131.20 L282.29,131.07 L282.61,130.94 L282.96,130.82 L283.33,130.71 L283.71,130.61 L284.09,130.52 L284.49,130.44 L284.87,130.37 L285.26,130.31 L285.62,130.26 L285.97,130.22 L286.30,130.20 L286.61,130.19 L286.91,130.19 L287.21,130.21 L287.50,130.24 L287.78,130.28 L288.06,130.33 L288.32,130.39 L288.58,130.46 L288.82,130.54 L289.06,130.62 L289.29,130.71 L289.50,130.80 L289.70,130.90 L289.90,131.02 L290.09,131.14 L290.27,131.27 L290.44,131.41 L290.60,131.56 L290.75,131.71 L290.89,131.86 L291.01,132.02 L291.12,132.18 L291.22,132.34 L291.30,132.50 L291.36,132.67 L291.40,132.85 L291.43,133.05 L291.43,133.25 L291.43,133.45 L291.41,133.66 L291.39,133.85 L291.37,134.04 L291.34,134.21 L291.32,134.37 L291.31,134.50 L291.30,134.60" fill="none" stroke="#22c8d2" stroke-width="1.4" stroke-linejoin="round"/>
<circle cx="279.70" cy="133.50" r="2.4" fill="#22c8d2" stroke="#000" stroke-opacity="0.12" stroke-width="0.4"/>
<circle cx="279.50" cy="133.25" r="0.72" fill="#fff" fill-opacity="0.55"/>
<circle cx="280.85" cy="132.11" r="2.4" fill="#22c8d2" stroke="#000" stroke-opacity="0.12" stroke-width="0.4"/>
<circle cx="280.65" cy="131.86" r="0.72" fill="#fff" fill-opacity="0.55"/>
<circle cx="282.29" cy="131.07" r="2.4" fill="#22c8d2" stroke="#000" stroke-opacity="0.12" stroke-width="0.4"/>
<circle cx="282.09" cy="130.82" r="0.72" fill="#fff" fill-opacity="0.55"/>
<circle cx="284.01" cy="130.54" r="2.4" fill="#22c8d2" stroke="#000" stroke-opacity="0.12" stroke-width="0.4"/>
<circle cx="283.81" cy="130.29" r="0.72" fill="#fff" fill-opacity="0.55"/>
<circle cx="285.79" cy="130.24" r="2.4" fill="#22c8d2" stroke="#000" stroke-opacity="0.12" stroke-width="0.4"/>
<circle cx="285.59" cy="129.99" r="0.72" fill="#fff" fill-opacity="0.55"/>
<circle cx="287.58" cy="130.25" r="2.4" fill="#22c8d2" stroke="#000" stroke-opacity="0.12" stroke-width="0.4"/>
<circle cx="287.38" cy="130.00" r="0.72" fill="#fff" fill-opacity="0.55"/>
<circle cx="289.31" cy="130.72" r="2.4" fill="#22c8d2" stroke="#000" stroke-opacity="0.12" stroke-width="0.4"/>
<circle cx="289.11" cy="130.47" r="0.72" fill="#fff" fill-opacity="0.55"/>
<circle cx="290.78" cy="131.74" r="2.4" fill="#22c8d2" stroke="#000" stroke-opacity="0.12" stroke-width="0.4"/>
<circle cx="290.58" cy="131.49" r="0.72" fill="#fff" fill-opacity="0.55"/>
<circle cx="291.43" cy="133.36" r="2.4" fill="#22c8d2" stroke="#000" stroke-opacity="0.12" stroke-width="0.4"/>
<circle cx="291.23" cy="133.11" r="0.72" fill="#fff" fill-opacity="0.55"/>
</g>
<rect x="367.4" y="87.2" width="51.2" height="43.7" fill="#fff" stroke="#111" stroke-width="0.7"/>
<circle cx="373.10" cy="130.20" r="0.8" fill="#22c8d2"/>
<circle cx="373.14" cy="127.64" r="0.8" fill="#22c8d2"/>
<circle cx="373.25" cy="125.09" r="0.8" fill="#22c8d2"/>
<circle cx="373.45" cy="122.56" r="0.8" fill="#22c8d2"/>
<circle cx="373.71" cy="120.06" r="0.8" fill="#22c8d2"/>
<circle cx="374.05" cy="117.59" r="0.8" fill="#22c8d2"/>
<circle cx="374.47" cy="115.18" r="0.8" fill="#22c8d2"/>
<circle cx="374.96" cy="112.83" r="0.8" fill="#22c8d2"/>
<circle cx="375.51" cy="110.54" r="0.8" fill="#22c8d2"/>
<circle cx="376.14" cy="108.33" r="0.8" fill="#22c8d2"/>
<circle cx="376.82" cy="106.21" r="0.8" fill="#22c8d2"/>
<circle cx="377.58" cy="104.18" r="0.8" fill="#22c8d2"/>
<circle cx="378.39" cy="102.25" r="0.8" fill="#22c8d2"/>
<circle cx="379.25" cy="100.43" r="0.8" fill="#22c8d2"/>
<circle cx="380.17" cy="98.73" r="0.8" fill="#22c8d2"/>
<circle cx="381.14" cy="97.15" r="0.8" fill="#22c8d2"/>
<circle cx="382.16" cy="95.70" r="0.8" fill="#22c8d2"/>
<circle cx="383.21" cy="94.38" r="0.8" fill="#22c8d2"/>
<circle cx="384.31" cy="93.21" r="0.8" fill="#22c8d2"/>
<circle cx="385.43" cy="92.17" r="0.8" fill="#22c8d2"/>
<circle cx="386.59" cy="91.29" r="0.8" fill="#22c8d2"/>
<circle cx="387.77" cy="90.56" r="0.8" fill="#22c8d2"/>
<circle cx="388.97" cy="89.98" r="0.8" fill="#22c8d2"/>
<circle cx="390.18" cy="89.56" r="0.8" fill="#22c8d2"/>
<circle cx="391.41" cy="89.30" r="0.8" fill="#22c8d2"/>
<circle cx="392.64" cy="89.20" r="0.8" fill="#22c8d2"/>
<circle cx="393.83" cy="89.26" r="0.8" fill="#22c8d2"/>
<circle cx="395.02" cy="89.48" r="0.8" fill="#22c8d2"/>
<circle cx="396.20" cy="89.86" r="0.8" fill="#22c8d2"/>
<circle cx="397.36" cy="90.39" r="0.8" fill="#22c8d2"/>
<circle cx="398.51" cy="91.08" r="0.8" fill="#22c8d2"/>
<circle cx="399.64" cy="91.93" r="0.8" fill="#22c8d2"/>
<circle cx="400.74" cy="92.92" r="0.8" fill="#22c8d2"/>
<circle cx="401.80" cy="94.06" r="0.8" fill="#22c8d2"/>
<circle cx="402.84" cy="95.34" r="0.8" fill="#22c8d2"/>
<circle cx="403.83" cy="96.75" r="0.8" fill="#22c8d2"/>
<circle cx="404.78" cy="98.30" r="0.8" fill="#22c8d2"/>
<circle cx="405.68" cy="99.97" r="0.8" fill="#22c8d2"/>
<circle cx="406.54" cy="101.76" r="0.8" fill="#22c8d2"/>
<circle cx="407.34" cy="103.66" r="0.8" fill="#22c8d2"/>
<circle cx="408.08" cy="105.66" r="0.8" fill="#22c8d2"/>
<circle cx="408.76" cy="107.76" r="0.8" fill="#22c8d2"/>
<circle cx="409.38" cy="109.95" r="0.8" fill="#22c8d2"/>
<circle cx="409.94" cy="112.22" r="0.8" fill="#22c8d2"/>
<circle cx="410.43" cy="114.55" r="0.8" fill="#22c8d2"/>
<circle cx="410.85" cy="116.95" r="0.8" fill="#22c8d2"/>
<circle cx="411.20" cy="119.40" r="0.8" fill="#22c8d2"/>
<circle cx="373.10" cy="130.60" r="0.95" fill="#8a5656"/>
<circle cx="373.14" cy="129.02" r="0.95" fill="#8a5656"/>
<circle cx="373.27" cy="127.46" r="0.95" fill="#8a5656"/>
<circle cx="373.49" cy="125.93" r="0.95" fill="#8a5656"/>
<circle cx="373.78" cy="124.46" r="0.95" fill="#8a5656"/>
<circle cx="374.16" cy="123.05" r="0.95" fill="#8a5656"/>
<circle cx="374.61" cy="121.72" r="0.95" fill="#8a5656"/>
<circle cx="375.13" cy="120.50" r="0.95" fill="#8a5656"/>
<circle cx="375.71" cy="119.38" r="0.95" fill="#8a5656"/>
<circle cx="376.36" cy="118.38" r="0.95" fill="#8a5656"/>
<circle cx="377.05" cy="117.52" r="0.95" fill="#8a5656"/>
<circle cx="377.79" cy="116.81" r="0.95" fill="#8a5656"/>
<circle cx="378.56" cy="116.24" r="0.95" fill="#8a5656"/>
<circle cx="379.36" cy="115.83" r="0.95" fill="#8a5656"/>
<circle cx="380.17" cy="115.58" r="0.95" fill="#8a5656"/>
<circle cx="381.00" cy="115.50" r="0.95" fill="#8a5656"/>
<circle cx="381.86" cy="115.58" r="0.95" fill="#8a5656"/>
<circle cx="382.70" cy="115.83" r="0.95" fill="#8a5656"/>
<circle cx="383.53" cy="116.24" r="0.95" fill="#8a5656"/>
<circle cx="384.34" cy="116.81" r="0.95" fill="#8a5656"/>
<circle cx="385.10" cy="117.52" r="0.95" fill="#8a5656"/>
<circle cx="385.82" cy="118.38" r="0.95" fill="#8a5656"/>
<circle cx="386.49" cy="119.38" r="0.95" fill="#8a5656"/>
<circle cx="387.09" cy="120.50" r="0.95" fill="#8a5656"/>
<circle cx="387.63" cy="121.72" r="0.95" fill="#8a5656"/>
<circle cx="388.10" cy="123.05" r="0.95" fill="#8a5656"/>
<circle cx="388.49" cy="124.46" r="0.95" fill="#8a5656"/>
<circle cx="388.80" cy="125.93" r="0.95" fill="#8a5656"/>
<circle cx="389.02" cy="127.46" r="0.95" fill="#8a5656"/>
<circle cx="389.16" cy="129.02" r="0.95" fill="#8a5656"/>
<circle cx="389.20" cy="130.60" r="0.95" fill="#8a5656"/>
<circle cx="373.10" cy="131.00" r="1.0" fill="#999a12"/>
<circle cx="373.15" cy="129.60" r="1.0" fill="#999a12"/>
<circle cx="373.29" cy="128.22" r="1.0" fill="#999a12"/>
<circle cx="373.53" cy="126.89" r="1.0" fill="#999a12"/>
<circle cx="373.86" cy="125.61" r="1.0" fill="#999a12"/>
<circle cx="374.27" cy="124.41" r="1.0" fill="#999a12"/>
<circle cx="374.76" cy="123.31" r="1.0" fill="#999a12"/>
<circle cx="375.32" cy="122.32" r="1.0" fill="#999a12"/>
<circle cx="375.95" cy="121.45" r="1.0" fill="#999a12"/>
<circle cx="376.63" cy="120.73" r="1.0" fill="#999a12"/>
<circle cx="377.36" cy="120.15" r="1.0" fill="#999a12"/>
<circle cx="378.12" cy="119.74" r="1.0" fill="#999a12"/>
<circle cx="378.90" cy="119.48" r="1.0" fill="#999a12"/>
<circle cx="379.70" cy="119.40" r="1.0" fill="#999a12"/>
<circle cx="380.40" cy="119.48" r="1.0" fill="#999a12"/>
<circle cx="381.09" cy="119.74" r="1.0" fill="#999a12"/>
<circle cx="381.76" cy="120.15" r="1.0" fill="#999a12"/>
<circle cx="382.40" cy="120.73" r="1.0" fill="#999a12"/>
<circle cx="382.99" cy="121.45" r="1.0" fill="#999a12"/>
<circle cx="383.55" cy="122.32" r="1.0" fill="#999a12"/>
<circle cx="384.04" cy="123.31" r="1.0" fill="#999a12"/>
<circle cx="384.47" cy="124.41" r="1.0" fill="#999a12"/>
<circle cx="384.84" cy="125.61" r="1.0" fill="#999a12"/>
<circle cx="385.12" cy="126.89" r="1.0" fill="#999a12"/>
<circle cx="385.33" cy="128.22" r="1.0" fill="#999a12"/>
<circle cx="385.46" cy="129.60" r="1.0" fill="#999a12"/>
<circle cx="385.50" cy="131.00" r="1.0" fill="#999a12"/>
<line x1="367.5" y1="131.2" x2="366.6" y2="131.2" stroke="#2b2b2b" stroke-width="0.5" />
<text x="366.2" y="132.4" font-size="3.3" text-anchor="end" fill="#000" font-weight="bold">0.00</text>
<line x1="367.5" y1="123.9" x2="366.6" y2="123.9" stroke="#2b2b2b" stroke-width="0.5" />
<text x="366.2" y="125.1" font-size="3.3" text-anchor="end" fill="#000" font-weight="bold">0.02</text>
<line x1="367.5" y1="116.6" x2="366.6" y2="116.6" stroke="#2b2b2b" stroke-width="0.5" />
<text x="366.2" y="117.8" font-size="3.3" text-anchor="end" fill="#000" font-weight="bold">0.04</text>
<line x1="367.5" y1="109.3" x2="366.6" y2="109.3" stroke="#2b2b2b" stroke-width="0.5" />
<text x="366.2" y="110.5" font-size="3.3" text-anchor="end" fill="#000" font-weight="bold">0.06</text>
<line x1="367.5" y1="102" x2="366.6" y2="102" stroke="#2b2b2b" stroke-width="0.5" />
<text x="366.2" y="103.2" font-size="3.3" text-anchor="end" fill="#000" font-weight="bold">0.08</text>
<line x1="367.5" y1="94.7" x2="366.6" y2="94.7" stroke="#2b2b2b" stroke-width="0.5" />
<text x="366.2" y="95.9" font-size="3.3" text-anchor="end" fill="#000" font-weight="bold">0.10</text>
<line x1="367.5" y1="87.4" x2="366.6" y2="87.4" stroke="#2b2b2b" stroke-width="0.5" />
<text x="366.2" y="88.6" font-size="3.3" text-anchor="end" fill="#000" font-weight="bold">0.12</text>
<text x="371.2" y="135.5" font-size="3.3" text-anchor="middle" fill="#000" font-weight="bold">0.00</text>
<text x="386.8" y="135.5" font-size="3.3" text-anchor="middle" fill="#000" font-weight="bold">0.04</text>
<text x="402.4" y="135.5" font-size="3.3" text-anchor="middle" fill="#000" font-weight="bold">0.08</text>
<text x="418" y="135.5" font-size="3.3" text-anchor="middle" fill="#000" font-weight="bold">0.12</text>
<text x="393.5" y="139.8" font-size="4.6" text-anchor="middle" fill="#000" font-weight="bold">z' (kΩ)</text>
<text transform="translate(359.3,109) rotate(-90)" font-size="4.6" font-weight="bold" text-anchor="middle" fill="#111">-z" (kΩ)</text>
<rect x="505" y="11.3" width="153" height="131.1" fill="none" stroke="#2b2b2b" stroke-width="1.2"/>
<line x1="502.8" y1="134.1" x2="505" y2="134.1" stroke="#2b2b2b" stroke-width="1.0" />
<text x="501.6" y="137.1" font-size="8.5" text-anchor="end" fill="#222" >0.00</text>
<line x1="502.8" y1="113.65" x2="505" y2="113.65" stroke="#2b2b2b" stroke-width="1.0" />
<text x="501.6" y="116.65" font-size="8.5" text-anchor="end" fill="#222" >0.05</text>
<line x1="502.8" y1="93.2" x2="505" y2="93.2" stroke="#2b2b2b" stroke-width="1.0" />
<text x="501.6" y="96.2" font-size="8.5" text-anchor="end" fill="#222" >0.10</text>
<line x1="502.8" y1="72.75" x2="505" y2="72.75" stroke="#2b2b2b" stroke-width="1.0" />
<text x="501.6" y="75.75" font-size="8.5" text-anchor="end" fill="#222" >0.15</text>
<line x1="502.8" y1="52.3" x2="505" y2="52.3" stroke="#2b2b2b" stroke-width="1.0" />
<text x="501.6" y="55.3" font-size="8.5" text-anchor="end" fill="#222" >0.20</text>
<line x1="502.8" y1="31.85" x2="505" y2="31.85" stroke="#2b2b2b" stroke-width="1.0" />
<text x="501.6" y="34.85" font-size="8.5" text-anchor="end" fill="#222" >0.25</text>
<line x1="502.8" y1="11.4" x2="505" y2="11.4" stroke="#2b2b2b" stroke-width="1.0" />
<text x="501.6" y="14.4" font-size="8.5" text-anchor="end" fill="#222" >0.30</text>
<line x1="503.7" y1="123.88" x2="505" y2="123.88" stroke="#2b2b2b" stroke-width="1.0" />
<line x1="503.7" y1="103.42" x2="505" y2="103.42" stroke="#2b2b2b" stroke-width="1.0" />
<line x1="503.7" y1="82.97" x2="505" y2="82.97" stroke="#2b2b2b" stroke-width="1.0" />
<line x1="503.7" y1="62.53" x2="505" y2="62.53" stroke="#2b2b2b" stroke-width="1.0" />
<line x1="503.7" y1="42.07" x2="505" y2="42.07" stroke="#2b2b2b" stroke-width="1.0" />
<line x1="503.7" y1="21.62" x2="505" y2="21.62" stroke="#2b2b2b" stroke-width="1.0" />
<line x1="505" y1="142.4" x2="505" y2="144.6" stroke="#2b2b2b" stroke-width="1.0" />
<text x="505" y="153.3" font-size="8.5" text-anchor="middle" fill="#222" >0.0</text>
<line x1="530.3" y1="142.4" x2="530.3" y2="144.6" stroke="#2b2b2b" stroke-width="1.0" />
<text x="530.3" y="153.3" font-size="8.5" text-anchor="middle" fill="#222" >0.1</text>
<line x1="555.6" y1="142.4" x2="555.6" y2="144.6" stroke="#2b2b2b" stroke-width="1.0" />
<text x="555.6" y="153.3" font-size="8.5" text-anchor="middle" fill="#222" >0.2</text>
<line x1="580.9" y1="142.4" x2="580.9" y2="144.6" stroke="#2b2b2b" stroke-width="1.0" />
<text x="580.9" y="153.3" font-size="8.5" text-anchor="middle" fill="#222" >0.3</text>
<line x1="606.2" y1="142.4" x2="606.2" y2="144.6" stroke="#2b2b2b" stroke-width="1.0" />
<text x="606.2" y="153.3" font-size="8.5" text-anchor="middle" fill="#222" >0.4</text>
<line x1="631.5" y1="142.4" x2="631.5" y2="144.6" stroke="#2b2b2b" stroke-width="1.0" />
<text x="631.5" y="153.3" font-size="8.5" text-anchor="middle" fill="#222" >0.5</text>
<line x1="656.8" y1="142.4" x2="656.8" y2="144.6" stroke="#2b2b2b" stroke-width="1.0" />
<text x="656.8" y="153.3" font-size="8.5" text-anchor="middle" fill="#222" >0.6</text>
<line x1="517.65" y1="142.4" x2="517.65" y2="143.7" stroke="#2b2b2b" stroke-width="1.0" />
<line x1="542.95" y1="142.4" x2="542.95" y2="143.7" stroke="#2b2b2b" stroke-width="1.0" />
<line x1="568.25" y1="142.4" x2="568.25" y2="143.7" stroke="#2b2b2b" stroke-width="1.0" />
<line x1="593.55" y1="142.4" x2="593.55" y2="143.7" stroke="#2b2b2b" stroke-width="1.0" />
<line x1="618.85" y1="142.4" x2="618.85" y2="143.7" stroke="#2b2b2b" stroke-width="1.0" />
<line x1="644.15" y1="142.4" x2="644.15" y2="143.7" stroke="#2b2b2b" stroke-width="1.0" />
<text x="581" y="168" font-size="12.3" text-anchor="middle" fill="#111" >z' (kΩ)</text>
<text transform="translate(478.3,75) rotate(-90) scale(0.95,1)" font-size="12.8" text-anchor="middle" fill="#111">-z" (kΩ)</text>
<text x="602.9" y="22.4" font-size="7.4" text-anchor="start" fill="#e845c0" >Ni/FM/PbS-QD</text>
<line x1="661.5" y1="14.6" x2="673.3" y2="14.6" stroke="#4a4a4a" stroke-width="1.4" />
<circle cx="667.50" cy="14.60" r="2.4" fill="#4a4a4a" stroke="#000" stroke-opacity="0.12" stroke-width="0.4"/>
<circle cx="667.30" cy="14.35" r="0.72" fill="#fff" fill-opacity="0.55"/>
<text x="675.7" y="17.15" font-size="7.1" text-anchor="start" fill="#111" >1.0</text>
<line x1="661.5" y1="23.16" x2="673.3" y2="23.16" stroke="#ee3a3e" stroke-width="1.4" />
<circle cx="667.50" cy="23.16" r="2.4" fill="#ee3a3e" stroke="#000" stroke-opacity="0.12" stroke-width="0.4"/>
<circle cx="667.30" cy="22.91" r="0.72" fill="#fff" fill-opacity="0.55"/>
<text x="675.7" y="25.71" font-size="7.1" text-anchor="start" fill="#111" >1.1</text>
<line x1="661.5" y1="31.72" x2="673.3" y2="31.72" stroke="#2b6fdc" stroke-width="1.4" />
<circle cx="667.50" cy="31.72" r="2.4" fill="#2b6fdc" stroke="#000" stroke-opacity="0.12" stroke-width="0.4"/>
<circle cx="667.30" cy="31.47" r="0.72" fill="#fff" fill-opacity="0.55"/>
<text x="675.7" y="34.27" font-size="7.1" text-anchor="start" fill="#111" >1.2</text>
<line x1="661.5" y1="40.28" x2="673.3" y2="40.28" stroke="#35a560" stroke-width="1.4" />
<circle cx="667.50" cy="40.28" r="2.4" fill="#35a560" stroke="#000" stroke-opacity="0.12" stroke-width="0.4"/>
<circle cx="667.30" cy="40.03" r="0.72" fill="#fff" fill-opacity="0.55"/>
<text x="675.7" y="42.83" font-size="7.1" text-anchor="start" fill="#111" >1.3</text>
<line x1="661.5" y1="48.84" x2="673.3" y2="48.84" stroke="#b27fe3" stroke-width="1.4" />
<circle cx="667.50" cy="48.84" r="2.4" fill="#b27fe3" stroke="#000" stroke-opacity="0.12" stroke-width="0.4"/>
<circle cx="667.30" cy="48.59" r="0.72" fill="#fff" fill-opacity="0.55"/>
<text x="675.7" y="51.39" font-size="7.1" text-anchor="start" fill="#111" >1.4</text>
<line x1="661.5" y1="57.4" x2="673.3" y2="57.4" stroke="#d49b12" stroke-width="1.4" />
<circle cx="667.50" cy="57.40" r="2.4" fill="#d49b12" stroke="#000" stroke-opacity="0.12" stroke-width="0.4"/>
<circle cx="667.30" cy="57.15" r="0.72" fill="#fff" fill-opacity="0.55"/>
<text x="675.7" y="59.95" font-size="7.1" text-anchor="start" fill="#111" >1.5</text>
<line x1="661.5" y1="65.96" x2="673.3" y2="65.96" stroke="#22c8d2" stroke-width="1.4" />
<circle cx="667.50" cy="65.96" r="2.4" fill="#22c8d2" stroke="#000" stroke-opacity="0.12" stroke-width="0.4"/>
<circle cx="667.30" cy="65.71" r="0.72" fill="#fff" fill-opacity="0.55"/>
<text x="675.7" y="68.51" font-size="7.1" text-anchor="start" fill="#111" >1.6</text>
<line x1="661.5" y1="74.52" x2="673.3" y2="74.52" stroke="#8a5656" stroke-width="1.4" />
<circle cx="667.50" cy="74.52" r="2.4" fill="#8a5656" stroke="#000" stroke-opacity="0.12" stroke-width="0.4"/>
<circle cx="667.30" cy="74.27" r="0.72" fill="#fff" fill-opacity="0.55"/>
<text x="675.7" y="77.07" font-size="7.1" text-anchor="start" fill="#111" >1.7</text>
<line x1="661.5" y1="83.08" x2="673.3" y2="83.08" stroke="#999a12" stroke-width="1.4" />
<circle cx="667.50" cy="83.08" r="2.4" fill="#999a12" stroke="#000" stroke-opacity="0.12" stroke-width="0.4"/>
<circle cx="667.30" cy="82.83" r="0.72" fill="#fff" fill-opacity="0.55"/>
<text x="675.7" y="85.63" font-size="7.1" text-anchor="start" fill="#111" >1.8</text>
<path d="M515.12,134.10 L515.16,129.93 L515.27,125.77 L515.45,121.63 L515.71,117.50 L516.04,113.39 L516.45,109.31 L516.93,105.27 L517.48,101.27 L518.10,97.32 L518.80,93.42 L519.56,89.58 L520.40,85.80 L521.31,82.09 L522.28,78.46 L523.33,74.91 L524.44,71.44 L525.62,68.06 L526.87,64.77 L528.18,61.59 L529.56,58.51 L531.00,55.53 L532.50,52.67 L534.07,49.93 L535.70,47.31 L537.39,44.81 L539.13,42.44 L540.94,40.20 L542.81,38.10 L544.74,36.13 L546.73,34.31 L548.78,32.62 L550.89,31.09 L553.06,29.70 L555.30,28.46 L557.61,27.37 L559.99,26.44 L562.46,25.66 L565.03,25.03 L567.73,24.56 L570.61,24.25 L573.84,24.10 L577.54,24.10 L580.38,24.26 L583.05,24.58 L585.63,25.06 L588.14,25.69 L590.58,26.48 L592.98,27.42 L595.32,28.52 L597.61,29.76 L599.85,31.16 L602.05,32.70 L604.19,34.39 L606.28,36.23 L608.32,38.20 L610.31,40.31 L612.24,42.55 L614.11,44.93 L615.93,47.43 L617.68,50.06 L619.38,52.81 L621.01,55.68 L622.57,58.66 L624.08,61.74 L625.51,64.93 L626.87,68.22 L628.17,71.61 L629.39,75.08 L630.54,78.64 L631.61,82.27 L632.61,85.99 L633.54,89.77 L634.38,93.61 L635.15,97.51 L635.84,101.47 L636.45,105.47 L636.98,109.51 L637.43,113.59 L637.79,117.70 L638.08,121.83" fill="none" stroke="#4a4a4a" stroke-width="1.3"/>
<circle cx="515.13" cy="131.75" r="2.2" fill="#4a4a4a" stroke="#000" stroke-opacity="0.12" stroke-width="0.4"/>
<circle cx="514.93" cy="131.50" r="0.66" fill="#fff" fill-opacity="0.55"/>
<circle cx="515.17" cy="129.19" r="2.2" fill="#4a4a4a" stroke="#000" stroke-opacity="0.12" stroke-width="0.4"/>
<circle cx="514.97" cy="128.94" r="0.66" fill="#fff" fill-opacity="0.55"/>
<circle cx="515.25" cy="126.22" r="2.2" fill="#4a4a4a" stroke="#000" stroke-opacity="0.12" stroke-width="0.4"/>
<circle cx="515.05" cy="125.97" r="0.66" fill="#fff" fill-opacity="0.55"/>
<circle cx="515.40" cy="122.66" r="2.2" fill="#4a4a4a" stroke="#000" stroke-opacity="0.12" stroke-width="0.4"/>
<circle cx="515.20" cy="122.41" r="0.66" fill="#fff" fill-opacity="0.55"/>
<circle cx="515.65" cy="118.34" r="2.2" fill="#4a4a4a" stroke="#000" stroke-opacity="0.12" stroke-width="0.4"/>
<circle cx="515.45" cy="118.09" r="0.66" fill="#fff" fill-opacity="0.55"/>
<circle cx="516.07" cy="113.13" r="2.2" fill="#4a4a4a" stroke="#000" stroke-opacity="0.12" stroke-width="0.4"/>
<circle cx="515.87" cy="112.88" r="0.66" fill="#fff" fill-opacity="0.55"/>
<circle cx="516.72" cy="106.96" r="2.2" fill="#4a4a4a" stroke="#000" stroke-opacity="0.12" stroke-width="0.4"/>
<circle cx="516.52" cy="106.71" r="0.66" fill="#fff" fill-opacity="0.55"/>
<circle cx="517.70" cy="99.79" r="2.2" fill="#4a4a4a" stroke="#000" stroke-opacity="0.12" stroke-width="0.4"/>
<circle cx="517.50" cy="99.54" r="0.66" fill="#fff" fill-opacity="0.55"/>
<circle cx="519.13" cy="91.68" r="2.2" fill="#4a4a4a" stroke="#000" stroke-opacity="0.12" stroke-width="0.4"/>
<circle cx="518.93" cy="91.43" r="0.66" fill="#fff" fill-opacity="0.55"/>
<circle cx="521.14" cy="82.76" r="2.2" fill="#4a4a4a" stroke="#000" stroke-opacity="0.12" stroke-width="0.4"/>
<circle cx="520.94" cy="82.51" r="0.66" fill="#fff" fill-opacity="0.55"/>
<circle cx="523.84" cy="73.26" r="2.2" fill="#4a4a4a" stroke="#000" stroke-opacity="0.12" stroke-width="0.4"/>
<circle cx="523.64" cy="73.01" r="0.66" fill="#fff" fill-opacity="0.55"/>
<circle cx="527.38" cy="63.50" r="2.2" fill="#4a4a4a" stroke="#000" stroke-opacity="0.12" stroke-width="0.4"/>
<circle cx="527.18" cy="63.25" r="0.66" fill="#fff" fill-opacity="0.55"/>
<circle cx="531.85" cy="53.88" r="2.2" fill="#4a4a4a" stroke="#000" stroke-opacity="0.12" stroke-width="0.4"/>
<circle cx="531.65" cy="53.63" r="0.66" fill="#fff" fill-opacity="0.55"/>
<circle cx="537.34" cy="44.88" r="2.2" fill="#4a4a4a" stroke="#000" stroke-opacity="0.12" stroke-width="0.4"/>
<circle cx="537.14" cy="44.63" r="0.66" fill="#fff" fill-opacity="0.55"/>
<circle cx="543.88" cy="36.98" r="2.2" fill="#4a4a4a" stroke="#000" stroke-opacity="0.12" stroke-width="0.4"/>
<circle cx="543.68" cy="36.73" r="0.66" fill="#fff" fill-opacity="0.55"/>
<circle cx="551.51" cy="30.67" r="2.2" fill="#4a4a4a" stroke="#000" stroke-opacity="0.12" stroke-width="0.4"/>
<circle cx="551.31" cy="30.42" r="0.66" fill="#fff" fill-opacity="0.55"/>
<circle cx="560.28" cy="26.33" r="2.2" fill="#4a4a4a" stroke="#000" stroke-opacity="0.12" stroke-width="0.4"/>
<circle cx="560.08" cy="26.08" r="0.66" fill="#fff" fill-opacity="0.55"/>
<circle cx="570.61" cy="24.25" r="2.2" fill="#4a4a4a" stroke="#000" stroke-opacity="0.12" stroke-width="0.4"/>
<circle cx="570.41" cy="24.00" r="0.66" fill="#fff" fill-opacity="0.55"/>
<circle cx="582.74" cy="24.54" r="2.2" fill="#4a4a4a" stroke="#000" stroke-opacity="0.12" stroke-width="0.4"/>
<circle cx="582.54" cy="24.29" r="0.66" fill="#fff" fill-opacity="0.55"/>
<circle cx="592.29" cy="27.13" r="2.2" fill="#4a4a4a" stroke="#000" stroke-opacity="0.12" stroke-width="0.4"/>
<circle cx="592.09" cy="26.88" r="0.66" fill="#fff" fill-opacity="0.55"/>
<circle cx="600.83" cy="31.82" r="2.2" fill="#4a4a4a" stroke="#000" stroke-opacity="0.12" stroke-width="0.4"/>
<circle cx="600.63" cy="31.57" r="0.66" fill="#fff" fill-opacity="0.55"/>
<circle cx="608.38" cy="38.25" r="2.2" fill="#4a4a4a" stroke="#000" stroke-opacity="0.12" stroke-width="0.4"/>
<circle cx="608.18" cy="38.00" r="0.66" fill="#fff" fill-opacity="0.55"/>
<circle cx="614.89" cy="45.98" r="2.2" fill="#4a4a4a" stroke="#000" stroke-opacity="0.12" stroke-width="0.4"/>
<circle cx="614.69" cy="45.73" r="0.66" fill="#fff" fill-opacity="0.55"/>
<circle cx="620.37" cy="54.53" r="2.2" fill="#4a4a4a" stroke="#000" stroke-opacity="0.12" stroke-width="0.4"/>
<circle cx="620.17" cy="54.28" r="0.66" fill="#fff" fill-opacity="0.55"/>
<circle cx="624.84" cy="63.42" r="2.2" fill="#4a4a4a" stroke="#000" stroke-opacity="0.12" stroke-width="0.4"/>
<circle cx="624.64" cy="63.17" r="0.66" fill="#fff" fill-opacity="0.55"/>
<circle cx="628.40" cy="72.23" r="2.2" fill="#4a4a4a" stroke="#000" stroke-opacity="0.12" stroke-width="0.4"/>
<circle cx="628.20" cy="71.98" r="0.66" fill="#fff" fill-opacity="0.55"/>
<circle cx="631.14" cy="80.63" r="2.2" fill="#4a4a4a" stroke="#000" stroke-opacity="0.12" stroke-width="0.4"/>
<circle cx="630.94" cy="80.38" r="0.66" fill="#fff" fill-opacity="0.55"/>
<circle cx="633.20" cy="88.35" r="2.2" fill="#4a4a4a" stroke="#000" stroke-opacity="0.12" stroke-width="0.4"/>
<circle cx="633.00" cy="88.10" r="0.66" fill="#fff" fill-opacity="0.55"/>
<circle cx="634.71" cy="95.24" r="2.2" fill="#4a4a4a" stroke="#000" stroke-opacity="0.12" stroke-width="0.4"/>
<circle cx="634.51" cy="94.99" r="0.66" fill="#fff" fill-opacity="0.55"/>
<circle cx="635.80" cy="101.22" r="2.2" fill="#4a4a4a" stroke="#000" stroke-opacity="0.12" stroke-width="0.4"/>
<circle cx="635.60" cy="100.97" r="0.66" fill="#fff" fill-opacity="0.55"/>
<circle cx="636.57" cy="106.29" r="2.2" fill="#4a4a4a" stroke="#000" stroke-opacity="0.12" stroke-width="0.4"/>
<circle cx="636.37" cy="106.04" r="0.66" fill="#fff" fill-opacity="0.55"/>
<circle cx="637.10" cy="110.53" r="2.2" fill="#4a4a4a" stroke="#000" stroke-opacity="0.12" stroke-width="0.4"/>
<circle cx="636.90" cy="110.28" r="0.66" fill="#fff" fill-opacity="0.55"/>
<circle cx="637.47" cy="114.03" r="2.2" fill="#4a4a4a" stroke="#000" stroke-opacity="0.12" stroke-width="0.4"/>
<circle cx="637.27" cy="113.78" r="0.66" fill="#fff" fill-opacity="0.55"/>
<circle cx="637.73" cy="116.96" r="2.2" fill="#4a4a4a" stroke="#000" stroke-opacity="0.12" stroke-width="0.4"/>
<circle cx="637.53" cy="116.71" r="0.66" fill="#fff" fill-opacity="0.55"/>
<circle cx="637.93" cy="119.50" r="2.2" fill="#4a4a4a" stroke="#000" stroke-opacity="0.12" stroke-width="0.4"/>
<circle cx="637.73" cy="119.25" r="0.66" fill="#fff" fill-opacity="0.55"/>
<circle cx="638.08" cy="121.83" r="2.2" fill="#4a4a4a" stroke="#000" stroke-opacity="0.12" stroke-width="0.4"/>
<circle cx="637.88" cy="121.58" r="0.66" fill="#fff" fill-opacity="0.55"/>
<path d="M515.12,134.10 L515.15,130.22 L515.26,126.35 L515.43,122.49 L515.68,118.65 L515.99,114.83 L516.37,111.04 L516.82,107.28 L517.34,103.56 L517.92,99.88 L518.58,96.25 L519.30,92.68 L520.08,89.16 L520.93,85.71 L521.85,82.33 L522.83,79.03 L523.88,75.80 L524.99,72.66 L526.16,69.61 L527.39,66.65 L528.69,63.78 L530.04,61.02 L531.45,58.36 L532.92,55.81 L534.45,53.37 L536.04,51.05 L537.68,48.85 L539.39,46.77 L541.14,44.82 L542.95,42.99 L544.82,41.30 L546.75,39.74 L548.73,38.31 L550.77,37.03 L552.88,35.88 L555.04,34.87 L557.29,34.01 L559.61,33.29 L562.02,32.71 L564.56,32.28 L567.28,32.00 L570.33,31.86 L573.74,31.87 L576.34,32.03 L578.79,32.34 L581.16,32.79 L583.46,33.38 L585.71,34.12 L587.91,35.01 L590.06,36.04 L592.16,37.20 L594.22,38.51 L596.23,39.96 L598.20,41.54 L600.12,43.25 L601.99,45.10 L603.82,47.07 L605.59,49.16 L607.31,51.38 L608.97,53.72 L610.58,56.17 L612.14,58.74 L613.63,61.41 L615.07,64.19 L616.44,67.07 L617.76,70.05 L619.01,73.11 L620.19,76.27 L621.31,79.51 L622.36,82.82 L623.34,86.21 L624.26,89.67 L625.10,93.20 L625.87,96.78 L626.57,100.41 L627.20,104.10 L627.75,107.83 L628.23,111.59 L628.64,115.39 L628.97,119.21 L629.22,123.06" fill="none" stroke="#ee3a3e" stroke-width="1.3"/>
<circle cx="515.13" cy="131.91" r="2.2" fill="#ee3a3e" stroke="#000" stroke-opacity="0.12" stroke-width="0.4"/>
<circle cx="514.93" cy="131.66" r="0.66" fill="#fff" fill-opacity="0.55"/>
<circle cx="515.17" cy="129.53" r="2.2" fill="#ee3a3e" stroke="#000" stroke-opacity="0.12" stroke-width="0.4"/>
<circle cx="514.97" cy="129.28" r="0.66" fill="#fff" fill-opacity="0.55"/>
<circle cx="515.24" cy="126.77" r="2.2" fill="#ee3a3e" stroke="#000" stroke-opacity="0.12" stroke-width="0.4"/>
<circle cx="515.04" cy="126.52" r="0.66" fill="#fff" fill-opacity="0.55"/>
<circle cx="515.38" cy="123.45" r="2.2" fill="#ee3a3e" stroke="#000" stroke-opacity="0.12" stroke-width="0.4"/>
<circle cx="515.18" cy="123.20" r="0.66" fill="#fff" fill-opacity="0.55"/>
<circle cx="515.62" cy="119.43" r="2.2" fill="#ee3a3e" stroke="#000" stroke-opacity="0.12" stroke-width="0.4"/>
<circle cx="515.42" cy="119.18" r="0.66" fill="#fff" fill-opacity="0.55"/>
<circle cx="516.01" cy="114.59" r="2.2" fill="#ee3a3e" stroke="#000" stroke-opacity="0.12" stroke-width="0.4"/>
<circle cx="515.81" cy="114.34" r="0.66" fill="#fff" fill-opacity="0.55"/>
<circle cx="516.62" cy="108.84" r="2.2" fill="#ee3a3e" stroke="#000" stroke-opacity="0.12" stroke-width="0.4"/>
<circle cx="516.42" cy="108.59" r="0.66" fill="#fff" fill-opacity="0.55"/>
<circle cx="517.55" cy="102.18" r="2.2" fill="#ee3a3e" stroke="#000" stroke-opacity="0.12" stroke-width="0.4"/>
<circle cx="517.35" cy="101.93" r="0.66" fill="#fff" fill-opacity="0.55"/>
<circle cx="518.89" cy="94.63" r="2.2" fill="#ee3a3e" stroke="#000" stroke-opacity="0.12" stroke-width="0.4"/>
<circle cx="518.69" cy="94.38" r="0.66" fill="#fff" fill-opacity="0.55"/>
<circle cx="520.77" cy="86.34" r="2.2" fill="#ee3a3e" stroke="#000" stroke-opacity="0.12" stroke-width="0.4"/>
<circle cx="520.57" cy="86.09" r="0.66" fill="#fff" fill-opacity="0.55"/>
<circle cx="523.32" cy="77.50" r="2.2" fill="#ee3a3e" stroke="#000" stroke-opacity="0.12" stroke-width="0.4"/>
<circle cx="523.12" cy="77.25" r="0.66" fill="#fff" fill-opacity="0.55"/>
<circle cx="526.64" cy="68.42" r="2.2" fill="#ee3a3e" stroke="#000" stroke-opacity="0.12" stroke-width="0.4"/>
<circle cx="526.44" cy="68.17" r="0.66" fill="#fff" fill-opacity="0.55"/>
<circle cx="530.84" cy="59.48" r="2.2" fill="#ee3a3e" stroke="#000" stroke-opacity="0.12" stroke-width="0.4"/>
<circle cx="530.64" cy="59.23" r="0.66" fill="#fff" fill-opacity="0.55"/>
<circle cx="536.00" cy="51.11" r="2.2" fill="#ee3a3e" stroke="#000" stroke-opacity="0.12" stroke-width="0.4"/>
<circle cx="535.80" cy="50.86" r="0.66" fill="#fff" fill-opacity="0.55"/>
<circle cx="542.15" cy="43.78" r="2.2" fill="#ee3a3e" stroke="#000" stroke-opacity="0.12" stroke-width="0.4"/>
<circle cx="541.95" cy="43.53" r="0.66" fill="#fff" fill-opacity="0.55"/>
<circle cx="549.31" cy="37.93" r="2.2" fill="#ee3a3e" stroke="#000" stroke-opacity="0.12" stroke-width="0.4"/>
<circle cx="549.11" cy="37.68" r="0.66" fill="#fff" fill-opacity="0.55"/>
<circle cx="557.56" cy="33.91" r="2.2" fill="#ee3a3e" stroke="#000" stroke-opacity="0.12" stroke-width="0.4"/>
<circle cx="557.36" cy="33.66" r="0.66" fill="#fff" fill-opacity="0.55"/>
<circle cx="567.28" cy="32.00" r="2.2" fill="#ee3a3e" stroke="#000" stroke-opacity="0.12" stroke-width="0.4"/>
<circle cx="567.08" cy="31.75" r="0.66" fill="#fff" fill-opacity="0.55"/>
<circle cx="578.50" cy="32.29" r="2.2" fill="#ee3a3e" stroke="#000" stroke-opacity="0.12" stroke-width="0.4"/>
<circle cx="578.30" cy="32.04" r="0.66" fill="#fff" fill-opacity="0.55"/>
<circle cx="587.27" cy="34.74" r="2.2" fill="#ee3a3e" stroke="#000" stroke-opacity="0.12" stroke-width="0.4"/>
<circle cx="587.07" cy="34.49" r="0.66" fill="#fff" fill-opacity="0.55"/>
<circle cx="595.11" cy="39.13" r="2.2" fill="#ee3a3e" stroke="#000" stroke-opacity="0.12" stroke-width="0.4"/>
<circle cx="594.91" cy="38.88" r="0.66" fill="#fff" fill-opacity="0.55"/>
<circle cx="602.04" cy="45.15" r="2.2" fill="#ee3a3e" stroke="#000" stroke-opacity="0.12" stroke-width="0.4"/>
<circle cx="601.84" cy="44.90" r="0.66" fill="#fff" fill-opacity="0.55"/>
<circle cx="608.02" cy="52.37" r="2.2" fill="#ee3a3e" stroke="#000" stroke-opacity="0.12" stroke-width="0.4"/>
<circle cx="607.82" cy="52.12" r="0.66" fill="#fff" fill-opacity="0.55"/>
<circle cx="613.05" cy="60.34" r="2.2" fill="#ee3a3e" stroke="#000" stroke-opacity="0.12" stroke-width="0.4"/>
<circle cx="612.85" cy="60.09" r="0.66" fill="#fff" fill-opacity="0.55"/>
<circle cx="617.15" cy="68.63" r="2.2" fill="#ee3a3e" stroke="#000" stroke-opacity="0.12" stroke-width="0.4"/>
<circle cx="616.95" cy="68.38" r="0.66" fill="#fff" fill-opacity="0.55"/>
<circle cx="620.40" cy="76.85" r="2.2" fill="#ee3a3e" stroke="#000" stroke-opacity="0.12" stroke-width="0.4"/>
<circle cx="620.20" cy="76.60" r="0.66" fill="#fff" fill-opacity="0.55"/>
<circle cx="622.91" cy="84.68" r="2.2" fill="#ee3a3e" stroke="#000" stroke-opacity="0.12" stroke-width="0.4"/>
<circle cx="622.71" cy="84.43" r="0.66" fill="#fff" fill-opacity="0.55"/>
<circle cx="624.79" cy="91.87" r="2.2" fill="#ee3a3e" stroke="#000" stroke-opacity="0.12" stroke-width="0.4"/>
<circle cx="624.59" cy="91.62" r="0.66" fill="#fff" fill-opacity="0.55"/>
<circle cx="626.17" cy="98.29" r="2.2" fill="#ee3a3e" stroke="#000" stroke-opacity="0.12" stroke-width="0.4"/>
<circle cx="625.97" cy="98.04" r="0.66" fill="#fff" fill-opacity="0.55"/>
<circle cx="627.16" cy="103.86" r="2.2" fill="#ee3a3e" stroke="#000" stroke-opacity="0.12" stroke-width="0.4"/>
<circle cx="626.96" cy="103.61" r="0.66" fill="#fff" fill-opacity="0.55"/>
<circle cx="627.86" cy="108.59" r="2.2" fill="#ee3a3e" stroke="#000" stroke-opacity="0.12" stroke-width="0.4"/>
<circle cx="627.66" cy="108.34" r="0.66" fill="#fff" fill-opacity="0.55"/>
<circle cx="628.34" cy="112.53" r="2.2" fill="#ee3a3e" stroke="#000" stroke-opacity="0.12" stroke-width="0.4"/>
<circle cx="628.14" cy="112.28" r="0.66" fill="#fff" fill-opacity="0.55"/>
<circle cx="628.68" cy="115.80" r="2.2" fill="#ee3a3e" stroke="#000" stroke-opacity="0.12" stroke-width="0.4"/>
<circle cx="628.48" cy="115.55" r="0.66" fill="#fff" fill-opacity="0.55"/>
<circle cx="628.92" cy="118.53" r="2.2" fill="#ee3a3e" stroke="#000" stroke-opacity="0.12" stroke-width="0.4"/>
<circle cx="628.72" cy="118.28" r="0.66" fill="#fff" fill-opacity="0.55"/>
<circle cx="629.09" cy="120.89" r="2.2" fill="#ee3a3e" stroke="#000" stroke-opacity="0.12" stroke-width="0.4"/>
<circle cx="628.89" cy="120.64" r="0.66" fill="#fff" fill-opacity="0.55"/>
<circle cx="629.22" cy="123.06" r="2.2" fill="#ee3a3e" stroke="#000" stroke-opacity="0.12" stroke-width="0.4"/>
<circle cx="629.02" cy="122.81" r="0.66" fill="#fff" fill-opacity="0.55"/>
<path d="M515.12,134.10 L515.15,130.51 L515.25,126.93 L515.42,123.36 L515.66,119.81 L515.96,116.27 L516.33,112.76 L516.76,109.28 L517.26,105.84 L517.83,102.44 L518.46,99.08 L519.16,95.78 L519.92,92.53 L520.74,89.34 L521.63,86.21 L522.58,83.15 L523.59,80.17 L524.66,77.26 L525.79,74.44 L526.99,71.70 L528.24,69.05 L529.55,66.50 L530.91,64.04 L532.34,61.69 L533.82,59.44 L535.35,57.29 L536.94,55.26 L538.58,53.34 L540.28,51.54 L542.03,49.85 L543.84,48.29 L545.70,46.85 L547.62,45.54 L549.59,44.35 L551.63,43.30 L553.73,42.37 L555.89,41.58 L558.14,40.92 L560.48,40.39 L562.94,40.00 L565.57,39.75 L568.56,39.63 L571.76,39.65 L574.18,39.80 L576.48,40.09 L578.70,40.52 L580.86,41.08 L582.97,41.77 L585.03,42.60 L587.04,43.56 L589.02,44.65 L590.95,45.87 L592.83,47.21 L594.68,48.68 L596.48,50.28 L598.23,51.99 L599.94,53.83 L601.60,55.77 L603.21,57.84 L604.77,60.01 L606.28,62.29 L607.73,64.67 L609.13,67.15 L610.48,69.73 L611.76,72.40 L612.99,75.16 L614.16,78.01 L615.26,80.93 L616.31,83.94 L617.29,87.01 L618.21,90.16 L619.06,93.36 L619.84,96.63 L620.56,99.95 L621.21,103.32 L621.79,106.73 L622.31,110.18 L622.75,113.67 L623.12,117.18 L623.43,120.72 L623.66,124.28" fill="none" stroke="#2b6fdc" stroke-width="1.3"/>
<circle cx="515.13" cy="132.08" r="2.2" fill="#2b6fdc" stroke="#000" stroke-opacity="0.12" stroke-width="0.4"/>
<circle cx="514.93" cy="131.83" r="0.66" fill="#fff" fill-opacity="0.55"/>
<circle cx="515.17" cy="129.87" r="2.2" fill="#2b6fdc" stroke="#000" stroke-opacity="0.12" stroke-width="0.4"/>
<circle cx="514.97" cy="129.62" r="0.66" fill="#fff" fill-opacity="0.55"/>
<circle cx="515.24" cy="127.32" r="2.2" fill="#2b6fdc" stroke="#000" stroke-opacity="0.12" stroke-width="0.4"/>
<circle cx="515.04" cy="127.07" r="0.66" fill="#fff" fill-opacity="0.55"/>
<circle cx="515.37" cy="124.25" r="2.2" fill="#2b6fdc" stroke="#000" stroke-opacity="0.12" stroke-width="0.4"/>
<circle cx="515.17" cy="124.00" r="0.66" fill="#fff" fill-opacity="0.55"/>
<circle cx="515.60" cy="120.53" r="2.2" fill="#2b6fdc" stroke="#000" stroke-opacity="0.12" stroke-width="0.4"/>
<circle cx="515.40" cy="120.28" r="0.66" fill="#fff" fill-opacity="0.55"/>
<circle cx="515.98" cy="116.05" r="2.2" fill="#2b6fdc" stroke="#000" stroke-opacity="0.12" stroke-width="0.4"/>
<circle cx="515.78" cy="115.80" r="0.66" fill="#fff" fill-opacity="0.55"/>
<circle cx="516.57" cy="110.73" r="2.2" fill="#2b6fdc" stroke="#000" stroke-opacity="0.12" stroke-width="0.4"/>
<circle cx="516.37" cy="110.48" r="0.66" fill="#fff" fill-opacity="0.55"/>
<circle cx="517.47" cy="104.57" r="2.2" fill="#2b6fdc" stroke="#000" stroke-opacity="0.12" stroke-width="0.4"/>
<circle cx="517.27" cy="104.32" r="0.66" fill="#fff" fill-opacity="0.55"/>
<circle cx="518.77" cy="97.59" r="2.2" fill="#2b6fdc" stroke="#000" stroke-opacity="0.12" stroke-width="0.4"/>
<circle cx="518.57" cy="97.34" r="0.66" fill="#fff" fill-opacity="0.55"/>
<circle cx="520.59" cy="89.91" r="2.2" fill="#2b6fdc" stroke="#000" stroke-opacity="0.12" stroke-width="0.4"/>
<circle cx="520.39" cy="89.66" r="0.66" fill="#fff" fill-opacity="0.55"/>
<circle cx="523.05" cy="81.74" r="2.2" fill="#2b6fdc" stroke="#000" stroke-opacity="0.12" stroke-width="0.4"/>
<circle cx="522.85" cy="81.49" r="0.66" fill="#fff" fill-opacity="0.55"/>
<circle cx="526.26" cy="73.34" r="2.2" fill="#2b6fdc" stroke="#000" stroke-opacity="0.12" stroke-width="0.4"/>
<circle cx="526.06" cy="73.09" r="0.66" fill="#fff" fill-opacity="0.55"/>
<circle cx="530.32" cy="65.08" r="2.2" fill="#2b6fdc" stroke="#000" stroke-opacity="0.12" stroke-width="0.4"/>
<circle cx="530.12" cy="64.83" r="0.66" fill="#fff" fill-opacity="0.55"/>
<circle cx="535.31" cy="57.35" r="2.2" fill="#2b6fdc" stroke="#000" stroke-opacity="0.12" stroke-width="0.4"/>
<circle cx="535.11" cy="57.10" r="0.66" fill="#fff" fill-opacity="0.55"/>
<circle cx="541.25" cy="50.58" r="2.2" fill="#2b6fdc" stroke="#000" stroke-opacity="0.12" stroke-width="0.4"/>
<circle cx="541.05" cy="50.33" r="0.66" fill="#fff" fill-opacity="0.55"/>
<circle cx="548.19" cy="45.18" r="2.2" fill="#2b6fdc" stroke="#000" stroke-opacity="0.12" stroke-width="0.4"/>
<circle cx="547.99" cy="44.93" r="0.66" fill="#fff" fill-opacity="0.55"/>
<circle cx="556.16" cy="41.49" r="2.2" fill="#2b6fdc" stroke="#000" stroke-opacity="0.12" stroke-width="0.4"/>
<circle cx="555.96" cy="41.24" r="0.66" fill="#fff" fill-opacity="0.55"/>
<circle cx="565.57" cy="39.75" r="2.2" fill="#2b6fdc" stroke="#000" stroke-opacity="0.12" stroke-width="0.4"/>
<circle cx="565.37" cy="39.50" r="0.66" fill="#fff" fill-opacity="0.55"/>
<circle cx="576.21" cy="40.05" r="2.2" fill="#2b6fdc" stroke="#000" stroke-opacity="0.12" stroke-width="0.4"/>
<circle cx="576.01" cy="39.80" r="0.66" fill="#fff" fill-opacity="0.55"/>
<circle cx="584.43" cy="42.35" r="2.2" fill="#2b6fdc" stroke="#000" stroke-opacity="0.12" stroke-width="0.4"/>
<circle cx="584.23" cy="42.10" r="0.66" fill="#fff" fill-opacity="0.55"/>
<circle cx="591.78" cy="46.44" r="2.2" fill="#2b6fdc" stroke="#000" stroke-opacity="0.12" stroke-width="0.4"/>
<circle cx="591.58" cy="46.19" r="0.66" fill="#fff" fill-opacity="0.55"/>
<circle cx="598.28" cy="52.04" r="2.2" fill="#2b6fdc" stroke="#000" stroke-opacity="0.12" stroke-width="0.4"/>
<circle cx="598.08" cy="51.79" r="0.66" fill="#fff" fill-opacity="0.55"/>
<circle cx="603.88" cy="58.75" r="2.2" fill="#2b6fdc" stroke="#000" stroke-opacity="0.12" stroke-width="0.4"/>
<circle cx="603.68" cy="58.50" r="0.66" fill="#fff" fill-opacity="0.55"/>
<circle cx="608.58" cy="66.15" r="2.2" fill="#2b6fdc" stroke="#000" stroke-opacity="0.12" stroke-width="0.4"/>
<circle cx="608.38" cy="65.90" r="0.66" fill="#fff" fill-opacity="0.55"/>
<circle cx="612.42" cy="73.85" r="2.2" fill="#2b6fdc" stroke="#000" stroke-opacity="0.12" stroke-width="0.4"/>
<circle cx="612.22" cy="73.60" r="0.66" fill="#fff" fill-opacity="0.55"/>
<circle cx="615.46" cy="81.48" r="2.2" fill="#2b6fdc" stroke="#000" stroke-opacity="0.12" stroke-width="0.4"/>
<circle cx="615.26" cy="81.23" r="0.66" fill="#fff" fill-opacity="0.55"/>
<circle cx="617.80" cy="88.73" r="2.2" fill="#2b6fdc" stroke="#000" stroke-opacity="0.12" stroke-width="0.4"/>
<circle cx="617.60" cy="88.48" r="0.66" fill="#fff" fill-opacity="0.55"/>
<circle cx="619.56" cy="95.40" r="2.2" fill="#2b6fdc" stroke="#000" stroke-opacity="0.12" stroke-width="0.4"/>
<circle cx="619.36" cy="95.15" r="0.66" fill="#fff" fill-opacity="0.55"/>
<circle cx="620.84" cy="101.35" r="2.2" fill="#2b6fdc" stroke="#000" stroke-opacity="0.12" stroke-width="0.4"/>
<circle cx="620.64" cy="101.10" r="0.66" fill="#fff" fill-opacity="0.55"/>
<circle cx="621.76" cy="106.51" r="2.2" fill="#2b6fdc" stroke="#000" stroke-opacity="0.12" stroke-width="0.4"/>
<circle cx="621.56" cy="106.26" r="0.66" fill="#fff" fill-opacity="0.55"/>
<circle cx="622.40" cy="110.89" r="2.2" fill="#2b6fdc" stroke="#000" stroke-opacity="0.12" stroke-width="0.4"/>
<circle cx="622.20" cy="110.64" r="0.66" fill="#fff" fill-opacity="0.55"/>
<circle cx="622.85" cy="114.54" r="2.2" fill="#2b6fdc" stroke="#000" stroke-opacity="0.12" stroke-width="0.4"/>
<circle cx="622.65" cy="114.29" r="0.66" fill="#fff" fill-opacity="0.55"/>
<circle cx="623.16" cy="117.56" r="2.2" fill="#2b6fdc" stroke="#000" stroke-opacity="0.12" stroke-width="0.4"/>
<circle cx="622.96" cy="117.31" r="0.66" fill="#fff" fill-opacity="0.55"/>
<circle cx="623.38" cy="120.09" r="2.2" fill="#2b6fdc" stroke="#000" stroke-opacity="0.12" stroke-width="0.4"/>
<circle cx="623.18" cy="119.84" r="0.66" fill="#fff" fill-opacity="0.55"/>
<circle cx="623.54" cy="122.27" r="2.2" fill="#2b6fdc" stroke="#000" stroke-opacity="0.12" stroke-width="0.4"/>
<circle cx="623.34" cy="122.02" r="0.66" fill="#fff" fill-opacity="0.55"/>
<circle cx="623.66" cy="124.28" r="2.2" fill="#2b6fdc" stroke="#000" stroke-opacity="0.12" stroke-width="0.4"/>
<circle cx="623.46" cy="124.03" r="0.66" fill="#fff" fill-opacity="0.55"/>
<path d="M515.12,134.10 L515.15,130.74 L515.25,127.39 L515.42,124.05 L515.65,120.73 L515.94,117.42 L516.30,114.13 L516.73,110.88 L517.22,107.66 L517.77,104.48 L518.39,101.34 L519.07,98.24 L519.81,95.20 L520.62,92.22 L521.49,89.29 L522.42,86.43 L523.41,83.64 L524.45,80.92 L525.56,78.28 L526.73,75.72 L527.95,73.24 L529.23,70.86 L530.57,68.56 L531.96,66.36 L533.41,64.25 L534.91,62.25 L536.46,60.35 L538.07,58.55 L539.73,56.87 L541.45,55.29 L543.22,53.83 L545.04,52.49 L546.91,51.26 L548.84,50.16 L550.83,49.17 L552.89,48.31 L555.01,47.57 L557.20,46.96 L559.49,46.47 L561.90,46.11 L564.48,45.87 L567.42,45.76 L570.38,45.78 L572.57,45.93 L574.64,46.21 L576.63,46.61 L578.58,47.14 L580.48,47.79 L582.33,48.57 L584.15,49.47 L585.92,50.49 L587.66,51.64 L589.36,52.90 L591.03,54.28 L592.65,55.78 L594.23,57.39 L595.76,59.10 L597.26,60.93 L598.71,62.87 L600.11,64.90 L601.47,67.04 L602.78,69.27 L604.04,71.60 L605.25,74.01 L606.40,76.52 L607.51,79.10 L608.56,81.77 L609.55,84.51 L610.49,87.33 L611.37,90.21 L612.20,93.15 L612.96,96.15 L613.67,99.21 L614.31,102.32 L614.90,105.47 L615.42,108.67 L615.88,111.90 L616.27,115.16 L616.60,118.46 L616.87,121.77 L617.08,125.10" fill="none" stroke="#35a560" stroke-width="1.3"/>
<circle cx="515.13" cy="132.21" r="2.2" fill="#35a560" stroke="#000" stroke-opacity="0.12" stroke-width="0.4"/>
<circle cx="514.93" cy="131.96" r="0.66" fill="#fff" fill-opacity="0.55"/>
<circle cx="515.17" cy="130.15" r="2.2" fill="#35a560" stroke="#000" stroke-opacity="0.12" stroke-width="0.4"/>
<circle cx="514.97" cy="129.90" r="0.66" fill="#fff" fill-opacity="0.55"/>
<circle cx="515.24" cy="127.75" r="2.2" fill="#35a560" stroke="#000" stroke-opacity="0.12" stroke-width="0.4"/>
<circle cx="515.04" cy="127.50" r="0.66" fill="#fff" fill-opacity="0.55"/>
<circle cx="515.37" cy="124.88" r="2.2" fill="#35a560" stroke="#000" stroke-opacity="0.12" stroke-width="0.4"/>
<circle cx="515.17" cy="124.63" r="0.66" fill="#fff" fill-opacity="0.55"/>
<circle cx="515.59" cy="121.40" r="2.2" fill="#35a560" stroke="#000" stroke-opacity="0.12" stroke-width="0.4"/>
<circle cx="515.39" cy="121.15" r="0.66" fill="#fff" fill-opacity="0.55"/>
<circle cx="515.96" cy="117.21" r="2.2" fill="#35a560" stroke="#000" stroke-opacity="0.12" stroke-width="0.4"/>
<circle cx="515.76" cy="116.96" r="0.66" fill="#fff" fill-opacity="0.55"/>
<circle cx="516.54" cy="112.24" r="2.2" fill="#35a560" stroke="#000" stroke-opacity="0.12" stroke-width="0.4"/>
<circle cx="516.34" cy="111.99" r="0.66" fill="#fff" fill-opacity="0.55"/>
<circle cx="517.42" cy="106.47" r="2.2" fill="#35a560" stroke="#000" stroke-opacity="0.12" stroke-width="0.4"/>
<circle cx="517.22" cy="106.22" r="0.66" fill="#fff" fill-opacity="0.55"/>
<circle cx="518.69" cy="99.94" r="2.2" fill="#35a560" stroke="#000" stroke-opacity="0.12" stroke-width="0.4"/>
<circle cx="518.49" cy="99.69" r="0.66" fill="#fff" fill-opacity="0.55"/>
<circle cx="520.47" cy="92.76" r="2.2" fill="#35a560" stroke="#000" stroke-opacity="0.12" stroke-width="0.4"/>
<circle cx="520.27" cy="92.51" r="0.66" fill="#fff" fill-opacity="0.55"/>
<circle cx="522.88" cy="85.11" r="2.2" fill="#35a560" stroke="#000" stroke-opacity="0.12" stroke-width="0.4"/>
<circle cx="522.68" cy="84.86" r="0.66" fill="#fff" fill-opacity="0.55"/>
<circle cx="526.02" cy="77.26" r="2.2" fill="#35a560" stroke="#000" stroke-opacity="0.12" stroke-width="0.4"/>
<circle cx="525.82" cy="77.01" r="0.66" fill="#fff" fill-opacity="0.55"/>
<circle cx="529.99" cy="69.53" r="2.2" fill="#35a560" stroke="#000" stroke-opacity="0.12" stroke-width="0.4"/>
<circle cx="529.79" cy="69.28" r="0.66" fill="#fff" fill-opacity="0.55"/>
<circle cx="534.87" cy="62.30" r="2.2" fill="#35a560" stroke="#000" stroke-opacity="0.12" stroke-width="0.4"/>
<circle cx="534.67" cy="62.05" r="0.66" fill="#fff" fill-opacity="0.55"/>
<circle cx="540.69" cy="55.97" r="2.2" fill="#35a560" stroke="#000" stroke-opacity="0.12" stroke-width="0.4"/>
<circle cx="540.49" cy="55.72" r="0.66" fill="#fff" fill-opacity="0.55"/>
<circle cx="547.47" cy="50.93" r="2.2" fill="#35a560" stroke="#000" stroke-opacity="0.12" stroke-width="0.4"/>
<circle cx="547.27" cy="50.68" r="0.66" fill="#fff" fill-opacity="0.55"/>
<circle cx="555.27" cy="47.49" r="2.2" fill="#35a560" stroke="#000" stroke-opacity="0.12" stroke-width="0.4"/>
<circle cx="555.07" cy="47.24" r="0.66" fill="#fff" fill-opacity="0.55"/>
<circle cx="564.48" cy="45.87" r="2.2" fill="#35a560" stroke="#000" stroke-opacity="0.12" stroke-width="0.4"/>
<circle cx="564.28" cy="45.62" r="0.66" fill="#fff" fill-opacity="0.55"/>
<circle cx="574.39" cy="46.17" r="2.2" fill="#35a560" stroke="#000" stroke-opacity="0.12" stroke-width="0.4"/>
<circle cx="574.19" cy="45.92" r="0.66" fill="#fff" fill-opacity="0.55"/>
<circle cx="581.80" cy="48.33" r="2.2" fill="#35a560" stroke="#000" stroke-opacity="0.12" stroke-width="0.4"/>
<circle cx="581.60" cy="48.08" r="0.66" fill="#fff" fill-opacity="0.55"/>
<circle cx="588.42" cy="52.18" r="2.2" fill="#35a560" stroke="#000" stroke-opacity="0.12" stroke-width="0.4"/>
<circle cx="588.22" cy="51.93" r="0.66" fill="#fff" fill-opacity="0.55"/>
<circle cx="594.27" cy="57.43" r="2.2" fill="#35a560" stroke="#000" stroke-opacity="0.12" stroke-width="0.4"/>
<circle cx="594.07" cy="57.18" r="0.66" fill="#fff" fill-opacity="0.55"/>
<circle cx="599.31" cy="63.72" r="2.2" fill="#35a560" stroke="#000" stroke-opacity="0.12" stroke-width="0.4"/>
<circle cx="599.11" cy="63.47" r="0.66" fill="#fff" fill-opacity="0.55"/>
<circle cx="603.54" cy="70.66" r="2.2" fill="#35a560" stroke="#000" stroke-opacity="0.12" stroke-width="0.4"/>
<circle cx="603.34" cy="70.41" r="0.66" fill="#fff" fill-opacity="0.55"/>
<circle cx="606.99" cy="77.88" r="2.2" fill="#35a560" stroke="#000" stroke-opacity="0.12" stroke-width="0.4"/>
<circle cx="606.79" cy="77.63" r="0.66" fill="#fff" fill-opacity="0.55"/>
<circle cx="609.73" cy="85.02" r="2.2" fill="#35a560" stroke="#000" stroke-opacity="0.12" stroke-width="0.4"/>
<circle cx="609.53" cy="84.77" r="0.66" fill="#fff" fill-opacity="0.55"/>
<circle cx="611.83" cy="91.82" r="2.2" fill="#35a560" stroke="#000" stroke-opacity="0.12" stroke-width="0.4"/>
<circle cx="611.63" cy="91.57" r="0.66" fill="#fff" fill-opacity="0.55"/>
<circle cx="613.41" cy="98.06" r="2.2" fill="#35a560" stroke="#000" stroke-opacity="0.12" stroke-width="0.4"/>
<circle cx="613.21" cy="97.81" r="0.66" fill="#fff" fill-opacity="0.55"/>
<circle cx="614.56" cy="103.63" r="2.2" fill="#35a560" stroke="#000" stroke-opacity="0.12" stroke-width="0.4"/>
<circle cx="614.36" cy="103.38" r="0.66" fill="#fff" fill-opacity="0.55"/>
<circle cx="615.39" cy="108.46" r="2.2" fill="#35a560" stroke="#000" stroke-opacity="0.12" stroke-width="0.4"/>
<circle cx="615.19" cy="108.21" r="0.66" fill="#fff" fill-opacity="0.55"/>
<circle cx="615.96" cy="112.56" r="2.2" fill="#35a560" stroke="#000" stroke-opacity="0.12" stroke-width="0.4"/>
<circle cx="615.76" cy="112.31" r="0.66" fill="#fff" fill-opacity="0.55"/>
<circle cx="616.36" cy="115.98" r="2.2" fill="#35a560" stroke="#000" stroke-opacity="0.12" stroke-width="0.4"/>
<circle cx="616.16" cy="115.73" r="0.66" fill="#fff" fill-opacity="0.55"/>
<circle cx="616.64" cy="118.81" r="2.2" fill="#35a560" stroke="#000" stroke-opacity="0.12" stroke-width="0.4"/>
<circle cx="616.44" cy="118.56" r="0.66" fill="#fff" fill-opacity="0.55"/>
<circle cx="616.83" cy="121.18" r="2.2" fill="#35a560" stroke="#000" stroke-opacity="0.12" stroke-width="0.4"/>
<circle cx="616.63" cy="120.93" r="0.66" fill="#fff" fill-opacity="0.55"/>
<circle cx="616.97" cy="123.22" r="2.2" fill="#35a560" stroke="#000" stroke-opacity="0.12" stroke-width="0.4"/>
<circle cx="616.77" cy="122.97" r="0.66" fill="#fff" fill-opacity="0.55"/>
<circle cx="617.08" cy="125.10" r="2.2" fill="#35a560" stroke="#000" stroke-opacity="0.12" stroke-width="0.4"/>
<circle cx="616.88" cy="124.85" r="0.66" fill="#fff" fill-opacity="0.55"/>
<path d="M515.12,134.10 L515.15,130.94 L515.25,127.79 L515.40,124.65 L515.62,121.52 L515.91,118.41 L516.25,115.32 L516.66,112.26 L517.13,109.24 L517.66,106.24 L518.25,103.29 L518.90,100.38 L519.62,97.52 L520.39,94.72 L521.22,91.97 L522.11,89.28 L523.06,86.66 L524.06,84.11 L525.12,81.63 L526.24,79.22 L527.41,76.90 L528.64,74.66 L529.92,72.50 L531.25,70.43 L532.64,68.46 L534.07,66.58 L535.56,64.80 L537.10,63.12 L538.69,61.54 L540.33,60.07 L542.03,58.71 L543.77,57.45 L545.57,56.31 L547.42,55.28 L549.32,54.36 L551.29,53.56 L553.32,52.88 L555.43,52.31 L557.63,51.86 L559.94,51.54 L562.43,51.33 L565.31,51.24 L568.03,51.27 L570.11,51.42 L572.08,51.70 L573.99,52.09 L575.85,52.60 L577.67,53.23 L579.45,53.98 L581.19,54.84 L582.89,55.82 L584.55,56.91 L586.18,58.11 L587.77,59.42 L589.32,60.85 L590.83,62.37 L592.30,64.01 L593.73,65.74 L595.11,67.57 L596.45,69.50 L597.75,71.53 L599.00,73.64 L600.20,75.84 L601.35,78.13 L602.45,80.50 L603.51,82.95 L604.51,85.46 L605.45,88.06 L606.34,90.71 L607.18,93.43 L607.96,96.21 L608.68,99.05 L609.35,101.93 L609.96,104.86 L610.50,107.84 L610.99,110.85 L611.42,113.90 L611.79,116.97 L612.10,120.07 L612.34,123.19 L612.52,126.33" fill="none" stroke="#b27fe3" stroke-width="1.3"/>
<circle cx="515.13" cy="132.32" r="2.2" fill="#b27fe3" stroke="#000" stroke-opacity="0.12" stroke-width="0.4"/>
<circle cx="514.93" cy="132.07" r="0.66" fill="#fff" fill-opacity="0.55"/>
<circle cx="515.16" cy="130.38" r="2.2" fill="#b27fe3" stroke="#000" stroke-opacity="0.12" stroke-width="0.4"/>
<circle cx="514.96" cy="130.13" r="0.66" fill="#fff" fill-opacity="0.55"/>
<circle cx="515.23" cy="128.13" r="2.2" fill="#b27fe3" stroke="#000" stroke-opacity="0.12" stroke-width="0.4"/>
<circle cx="515.03" cy="127.88" r="0.66" fill="#fff" fill-opacity="0.55"/>
<circle cx="515.36" cy="125.43" r="2.2" fill="#b27fe3" stroke="#000" stroke-opacity="0.12" stroke-width="0.4"/>
<circle cx="515.16" cy="125.18" r="0.66" fill="#fff" fill-opacity="0.55"/>
<circle cx="515.57" cy="122.16" r="2.2" fill="#b27fe3" stroke="#000" stroke-opacity="0.12" stroke-width="0.4"/>
<circle cx="515.37" cy="121.91" r="0.66" fill="#fff" fill-opacity="0.55"/>
<circle cx="515.93" cy="118.22" r="2.2" fill="#b27fe3" stroke="#000" stroke-opacity="0.12" stroke-width="0.4"/>
<circle cx="515.73" cy="117.97" r="0.66" fill="#fff" fill-opacity="0.55"/>
<circle cx="516.48" cy="113.54" r="2.2" fill="#b27fe3" stroke="#000" stroke-opacity="0.12" stroke-width="0.4"/>
<circle cx="516.28" cy="113.29" r="0.66" fill="#fff" fill-opacity="0.55"/>
<circle cx="517.32" cy="108.11" r="2.2" fill="#b27fe3" stroke="#000" stroke-opacity="0.12" stroke-width="0.4"/>
<circle cx="517.12" cy="107.86" r="0.66" fill="#fff" fill-opacity="0.55"/>
<circle cx="518.54" cy="101.97" r="2.2" fill="#b27fe3" stroke="#000" stroke-opacity="0.12" stroke-width="0.4"/>
<circle cx="518.34" cy="101.72" r="0.66" fill="#fff" fill-opacity="0.55"/>
<circle cx="520.24" cy="95.23" r="2.2" fill="#b27fe3" stroke="#000" stroke-opacity="0.12" stroke-width="0.4"/>
<circle cx="520.04" cy="94.98" r="0.66" fill="#fff" fill-opacity="0.55"/>
<circle cx="522.55" cy="88.04" r="2.2" fill="#b27fe3" stroke="#000" stroke-opacity="0.12" stroke-width="0.4"/>
<circle cx="522.35" cy="87.79" r="0.66" fill="#fff" fill-opacity="0.55"/>
<circle cx="525.56" cy="80.66" r="2.2" fill="#b27fe3" stroke="#000" stroke-opacity="0.12" stroke-width="0.4"/>
<circle cx="525.36" cy="80.41" r="0.66" fill="#fff" fill-opacity="0.55"/>
<circle cx="529.37" cy="73.41" r="2.2" fill="#b27fe3" stroke="#000" stroke-opacity="0.12" stroke-width="0.4"/>
<circle cx="529.17" cy="73.16" r="0.66" fill="#fff" fill-opacity="0.55"/>
<circle cx="534.03" cy="66.63" r="2.2" fill="#b27fe3" stroke="#000" stroke-opacity="0.12" stroke-width="0.4"/>
<circle cx="533.83" cy="66.38" r="0.66" fill="#fff" fill-opacity="0.55"/>
<circle cx="539.60" cy="60.71" r="2.2" fill="#b27fe3" stroke="#000" stroke-opacity="0.12" stroke-width="0.4"/>
<circle cx="539.40" cy="60.46" r="0.66" fill="#fff" fill-opacity="0.55"/>
<circle cx="546.10" cy="56.00" r="2.2" fill="#b27fe3" stroke="#000" stroke-opacity="0.12" stroke-width="0.4"/>
<circle cx="545.90" cy="55.75" r="0.66" fill="#fff" fill-opacity="0.55"/>
<circle cx="553.57" cy="52.80" r="2.2" fill="#b27fe3" stroke="#000" stroke-opacity="0.12" stroke-width="0.4"/>
<circle cx="553.37" cy="52.55" r="0.66" fill="#fff" fill-opacity="0.55"/>
<circle cx="562.43" cy="51.33" r="2.2" fill="#b27fe3" stroke="#000" stroke-opacity="0.12" stroke-width="0.4"/>
<circle cx="562.23" cy="51.08" r="0.66" fill="#fff" fill-opacity="0.55"/>
<circle cx="571.85" cy="51.66" r="2.2" fill="#b27fe3" stroke="#000" stroke-opacity="0.12" stroke-width="0.4"/>
<circle cx="571.65" cy="51.41" r="0.66" fill="#fff" fill-opacity="0.55"/>
<circle cx="578.94" cy="53.75" r="2.2" fill="#b27fe3" stroke="#000" stroke-opacity="0.12" stroke-width="0.4"/>
<circle cx="578.74" cy="53.50" r="0.66" fill="#fff" fill-opacity="0.55"/>
<circle cx="585.28" cy="57.42" r="2.2" fill="#b27fe3" stroke="#000" stroke-opacity="0.12" stroke-width="0.4"/>
<circle cx="585.08" cy="57.17" r="0.66" fill="#fff" fill-opacity="0.55"/>
<circle cx="590.87" cy="62.42" r="2.2" fill="#b27fe3" stroke="#000" stroke-opacity="0.12" stroke-width="0.4"/>
<circle cx="590.67" cy="62.17" r="0.66" fill="#fff" fill-opacity="0.55"/>
<circle cx="595.69" cy="68.39" r="2.2" fill="#b27fe3" stroke="#000" stroke-opacity="0.12" stroke-width="0.4"/>
<circle cx="595.49" cy="68.14" r="0.66" fill="#fff" fill-opacity="0.55"/>
<circle cx="599.73" cy="74.96" r="2.2" fill="#b27fe3" stroke="#000" stroke-opacity="0.12" stroke-width="0.4"/>
<circle cx="599.53" cy="74.71" r="0.66" fill="#fff" fill-opacity="0.55"/>
<circle cx="603.02" cy="81.78" r="2.2" fill="#b27fe3" stroke="#000" stroke-opacity="0.12" stroke-width="0.4"/>
<circle cx="602.82" cy="81.53" r="0.66" fill="#fff" fill-opacity="0.55"/>
<circle cx="605.62" cy="88.53" r="2.2" fill="#b27fe3" stroke="#000" stroke-opacity="0.12" stroke-width="0.4"/>
<circle cx="605.42" cy="88.28" r="0.66" fill="#fff" fill-opacity="0.55"/>
<circle cx="607.61" cy="94.95" r="2.2" fill="#b27fe3" stroke="#000" stroke-opacity="0.12" stroke-width="0.4"/>
<circle cx="607.41" cy="94.70" r="0.66" fill="#fff" fill-opacity="0.55"/>
<circle cx="609.11" cy="100.85" r="2.2" fill="#b27fe3" stroke="#000" stroke-opacity="0.12" stroke-width="0.4"/>
<circle cx="608.91" cy="100.60" r="0.66" fill="#fff" fill-opacity="0.55"/>
<circle cx="610.19" cy="106.10" r="2.2" fill="#b27fe3" stroke="#000" stroke-opacity="0.12" stroke-width="0.4"/>
<circle cx="609.99" cy="105.85" r="0.66" fill="#fff" fill-opacity="0.55"/>
<circle cx="610.96" cy="110.66" r="2.2" fill="#b27fe3" stroke="#000" stroke-opacity="0.12" stroke-width="0.4"/>
<circle cx="610.76" cy="110.41" r="0.66" fill="#fff" fill-opacity="0.55"/>
<circle cx="611.50" cy="114.52" r="2.2" fill="#b27fe3" stroke="#000" stroke-opacity="0.12" stroke-width="0.4"/>
<circle cx="611.30" cy="114.27" r="0.66" fill="#fff" fill-opacity="0.55"/>
<circle cx="611.87" cy="117.74" r="2.2" fill="#b27fe3" stroke="#000" stroke-opacity="0.12" stroke-width="0.4"/>
<circle cx="611.67" cy="117.49" r="0.66" fill="#fff" fill-opacity="0.55"/>
<circle cx="612.13" cy="120.41" r="2.2" fill="#b27fe3" stroke="#000" stroke-opacity="0.12" stroke-width="0.4"/>
<circle cx="611.93" cy="120.16" r="0.66" fill="#fff" fill-opacity="0.55"/>
<circle cx="612.30" cy="122.63" r="2.2" fill="#b27fe3" stroke="#000" stroke-opacity="0.12" stroke-width="0.4"/>
<circle cx="612.10" cy="122.38" r="0.66" fill="#fff" fill-opacity="0.55"/>
<circle cx="612.43" cy="124.56" r="2.2" fill="#b27fe3" stroke="#000" stroke-opacity="0.12" stroke-width="0.4"/>
<circle cx="612.23" cy="124.31" r="0.66" fill="#fff" fill-opacity="0.55"/>
<circle cx="612.52" cy="126.33" r="2.2" fill="#b27fe3" stroke="#000" stroke-opacity="0.12" stroke-width="0.4"/>
<circle cx="612.32" cy="126.08" r="0.66" fill="#fff" fill-opacity="0.55"/>
<path d="M515.12,134.10 L515.15,131.33 L515.25,128.56 L515.40,125.81 L515.62,123.06 L515.90,120.33 L516.25,117.62 L516.65,114.94 L517.12,112.28 L517.65,109.66 L518.24,107.07 L518.89,104.53 L519.60,102.02 L520.36,99.57 L521.19,97.16 L522.08,94.81 L523.02,92.52 L524.02,90.29 L525.07,88.12 L526.18,86.03 L527.35,84.00 L528.57,82.05 L529.84,80.18 L531.17,78.38 L532.54,76.67 L533.97,75.04 L535.45,73.50 L536.98,72.05 L538.57,70.69 L540.20,69.43 L541.88,68.26 L543.62,67.19 L545.40,66.22 L547.24,65.35 L549.14,64.58 L551.10,63.91 L553.13,63.35 L555.24,62.89 L557.44,62.54 L559.78,62.29 L562.34,62.15 L565.39,62.12 L567.30,62.19 L569.07,62.37 L570.76,62.66 L572.40,63.05 L574.00,63.55 L575.57,64.15 L577.10,64.85 L578.59,65.66 L580.06,66.57 L581.49,67.58 L582.89,68.69 L584.25,69.89 L585.58,71.19 L586.88,72.58 L588.14,74.07 L589.36,75.64 L590.54,77.30 L591.68,79.04 L592.79,80.87 L593.85,82.77 L594.87,84.75 L595.84,86.81 L596.77,88.93 L597.66,91.12 L598.49,93.37 L599.29,95.69 L600.03,98.06 L600.72,100.48 L601.37,102.96 L601.96,105.48 L602.50,108.04 L602.99,110.64 L603.43,113.28 L603.81,115.94 L604.15,118.64 L604.42,121.35 L604.65,124.09 L604.82,126.84 L604.93,129.60" fill="none" stroke="#d49b12" stroke-width="1.3"/>
<circle cx="515.13" cy="132.54" r="2.2" fill="#d49b12" stroke="#000" stroke-opacity="0.12" stroke-width="0.4"/>
<circle cx="514.93" cy="132.29" r="0.66" fill="#fff" fill-opacity="0.55"/>
<circle cx="515.16" cy="130.84" r="2.2" fill="#d49b12" stroke="#000" stroke-opacity="0.12" stroke-width="0.4"/>
<circle cx="514.96" cy="130.59" r="0.66" fill="#fff" fill-opacity="0.55"/>
<circle cx="515.23" cy="128.86" r="2.2" fill="#d49b12" stroke="#000" stroke-opacity="0.12" stroke-width="0.4"/>
<circle cx="515.03" cy="128.61" r="0.66" fill="#fff" fill-opacity="0.55"/>
<circle cx="515.36" cy="126.49" r="2.2" fill="#d49b12" stroke="#000" stroke-opacity="0.12" stroke-width="0.4"/>
<circle cx="515.16" cy="126.24" r="0.66" fill="#fff" fill-opacity="0.55"/>
<circle cx="515.57" cy="123.62" r="2.2" fill="#d49b12" stroke="#000" stroke-opacity="0.12" stroke-width="0.4"/>
<circle cx="515.37" cy="123.37" r="0.66" fill="#fff" fill-opacity="0.55"/>
<circle cx="515.92" cy="120.16" r="2.2" fill="#d49b12" stroke="#000" stroke-opacity="0.12" stroke-width="0.4"/>
<circle cx="515.72" cy="119.91" r="0.66" fill="#fff" fill-opacity="0.55"/>
<circle cx="516.48" cy="116.06" r="2.2" fill="#d49b12" stroke="#000" stroke-opacity="0.12" stroke-width="0.4"/>
<circle cx="516.28" cy="115.81" r="0.66" fill="#fff" fill-opacity="0.55"/>
<circle cx="517.31" cy="111.30" r="2.2" fill="#d49b12" stroke="#000" stroke-opacity="0.12" stroke-width="0.4"/>
<circle cx="517.11" cy="111.05" r="0.66" fill="#fff" fill-opacity="0.55"/>
<circle cx="518.52" cy="105.92" r="2.2" fill="#d49b12" stroke="#000" stroke-opacity="0.12" stroke-width="0.4"/>
<circle cx="518.32" cy="105.67" r="0.66" fill="#fff" fill-opacity="0.55"/>
<circle cx="520.22" cy="100.01" r="2.2" fill="#d49b12" stroke="#000" stroke-opacity="0.12" stroke-width="0.4"/>
<circle cx="520.02" cy="99.76" r="0.66" fill="#fff" fill-opacity="0.55"/>
<circle cx="522.51" cy="93.73" r="2.2" fill="#d49b12" stroke="#000" stroke-opacity="0.12" stroke-width="0.4"/>
<circle cx="522.31" cy="93.48" r="0.66" fill="#fff" fill-opacity="0.55"/>
<circle cx="525.51" cy="87.28" r="2.2" fill="#d49b12" stroke="#000" stroke-opacity="0.12" stroke-width="0.4"/>
<circle cx="525.31" cy="87.03" r="0.66" fill="#fff" fill-opacity="0.55"/>
<circle cx="529.29" cy="80.96" r="2.2" fill="#d49b12" stroke="#000" stroke-opacity="0.12" stroke-width="0.4"/>
<circle cx="529.09" cy="80.71" r="0.66" fill="#fff" fill-opacity="0.55"/>
<circle cx="533.93" cy="75.08" r="2.2" fill="#d49b12" stroke="#000" stroke-opacity="0.12" stroke-width="0.4"/>
<circle cx="533.73" cy="74.83" r="0.66" fill="#fff" fill-opacity="0.55"/>
<circle cx="539.47" cy="69.97" r="2.2" fill="#d49b12" stroke="#000" stroke-opacity="0.12" stroke-width="0.4"/>
<circle cx="539.27" cy="69.72" r="0.66" fill="#fff" fill-opacity="0.55"/>
<circle cx="545.93" cy="65.95" r="2.2" fill="#d49b12" stroke="#000" stroke-opacity="0.12" stroke-width="0.4"/>
<circle cx="545.73" cy="65.70" r="0.66" fill="#fff" fill-opacity="0.55"/>
<circle cx="553.38" cy="63.29" r="2.2" fill="#d49b12" stroke="#000" stroke-opacity="0.12" stroke-width="0.4"/>
<circle cx="553.18" cy="63.04" r="0.66" fill="#fff" fill-opacity="0.55"/>
<circle cx="562.34" cy="62.15" r="2.2" fill="#d49b12" stroke="#000" stroke-opacity="0.12" stroke-width="0.4"/>
<circle cx="562.14" cy="61.90" r="0.66" fill="#fff" fill-opacity="0.55"/>
<circle cx="570.56" cy="62.62" r="2.2" fill="#d49b12" stroke="#000" stroke-opacity="0.12" stroke-width="0.4"/>
<circle cx="570.36" cy="62.37" r="0.66" fill="#fff" fill-opacity="0.55"/>
<circle cx="576.66" cy="64.64" r="2.2" fill="#d49b12" stroke="#000" stroke-opacity="0.12" stroke-width="0.4"/>
<circle cx="576.46" cy="64.39" r="0.66" fill="#fff" fill-opacity="0.55"/>
<circle cx="582.11" cy="68.06" r="2.2" fill="#d49b12" stroke="#000" stroke-opacity="0.12" stroke-width="0.4"/>
<circle cx="581.91" cy="67.81" r="0.66" fill="#fff" fill-opacity="0.55"/>
<circle cx="586.91" cy="72.62" r="2.2" fill="#d49b12" stroke="#000" stroke-opacity="0.12" stroke-width="0.4"/>
<circle cx="586.71" cy="72.37" r="0.66" fill="#fff" fill-opacity="0.55"/>
<circle cx="591.03" cy="78.03" r="2.2" fill="#d49b12" stroke="#000" stroke-opacity="0.12" stroke-width="0.4"/>
<circle cx="590.83" cy="77.78" r="0.66" fill="#fff" fill-opacity="0.55"/>
<circle cx="594.47" cy="83.96" r="2.2" fill="#d49b12" stroke="#000" stroke-opacity="0.12" stroke-width="0.4"/>
<circle cx="594.27" cy="83.71" r="0.66" fill="#fff" fill-opacity="0.55"/>
<circle cx="597.25" cy="90.08" r="2.2" fill="#d49b12" stroke="#000" stroke-opacity="0.12" stroke-width="0.4"/>
<circle cx="597.05" cy="89.83" r="0.66" fill="#fff" fill-opacity="0.55"/>
<circle cx="599.42" cy="96.11" r="2.2" fill="#d49b12" stroke="#000" stroke-opacity="0.12" stroke-width="0.4"/>
<circle cx="599.22" cy="95.86" r="0.66" fill="#fff" fill-opacity="0.55"/>
<circle cx="601.08" cy="101.84" r="2.2" fill="#d49b12" stroke="#000" stroke-opacity="0.12" stroke-width="0.4"/>
<circle cx="600.88" cy="101.59" r="0.66" fill="#fff" fill-opacity="0.55"/>
<circle cx="602.30" cy="107.08" r="2.2" fill="#d49b12" stroke="#000" stroke-opacity="0.12" stroke-width="0.4"/>
<circle cx="602.10" cy="106.83" r="0.66" fill="#fff" fill-opacity="0.55"/>
<circle cx="603.18" cy="111.74" r="2.2" fill="#d49b12" stroke="#000" stroke-opacity="0.12" stroke-width="0.4"/>
<circle cx="602.98" cy="111.49" r="0.66" fill="#fff" fill-opacity="0.55"/>
<circle cx="603.79" cy="115.77" r="2.2" fill="#d49b12" stroke="#000" stroke-opacity="0.12" stroke-width="0.4"/>
<circle cx="603.59" cy="115.52" r="0.66" fill="#fff" fill-opacity="0.55"/>
<circle cx="604.21" cy="119.19" r="2.2" fill="#d49b12" stroke="#000" stroke-opacity="0.12" stroke-width="0.4"/>
<circle cx="604.01" cy="118.94" r="0.66" fill="#fff" fill-opacity="0.55"/>
<circle cx="604.49" cy="122.03" r="2.2" fill="#d49b12" stroke="#000" stroke-opacity="0.12" stroke-width="0.4"/>
<circle cx="604.29" cy="121.78" r="0.66" fill="#fff" fill-opacity="0.55"/>
<circle cx="604.67" cy="124.39" r="2.2" fill="#d49b12" stroke="#000" stroke-opacity="0.12" stroke-width="0.4"/>
<circle cx="604.47" cy="124.14" r="0.66" fill="#fff" fill-opacity="0.55"/>
<circle cx="604.79" cy="126.35" r="2.2" fill="#d49b12" stroke="#000" stroke-opacity="0.12" stroke-width="0.4"/>
<circle cx="604.59" cy="126.10" r="0.66" fill="#fff" fill-opacity="0.55"/>
<circle cx="604.88" cy="128.04" r="2.2" fill="#d49b12" stroke="#000" stroke-opacity="0.12" stroke-width="0.4"/>
<circle cx="604.68" cy="127.79" r="0.66" fill="#fff" fill-opacity="0.55"/>
<circle cx="604.93" cy="129.60" r="2.2" fill="#d49b12" stroke="#000" stroke-opacity="0.12" stroke-width="0.4"/>
<circle cx="604.73" cy="129.35" r="0.66" fill="#fff" fill-opacity="0.55"/>
<path d="M515.12,134.10 L515.15,131.48 L515.23,128.86 L515.37,126.26 L515.56,123.66 L515.81,121.08 L516.11,118.52 L516.47,115.98 L516.88,113.47 L517.35,110.99 L517.86,108.54 L518.44,106.14 L519.06,103.77 L519.74,101.45 L520.46,99.18 L521.24,96.96 L522.07,94.79 L522.95,92.68 L523.88,90.64 L524.86,88.66 L525.88,86.75 L526.96,84.91 L528.08,83.14 L529.24,81.44 L530.46,79.83 L531.71,78.30 L533.02,76.85 L534.36,75.48 L535.76,74.20 L537.19,73.01 L538.67,71.92 L540.20,70.91 L541.77,70.00 L543.39,69.18 L545.07,68.46 L546.79,67.84 L548.58,67.32 L550.44,66.90 L552.38,66.57 L554.45,66.35 L556.73,66.23 L559.39,66.21 L561.20,66.29 L562.89,66.47 L564.51,66.75 L566.08,67.14 L567.61,67.62 L569.11,68.20 L570.58,68.88 L572.01,69.66 L573.42,70.53 L574.79,71.50 L576.13,72.56 L577.44,73.71 L578.71,74.95 L579.95,76.28 L581.15,77.70 L582.32,79.20 L583.45,80.78 L584.54,82.44 L585.60,84.18 L586.61,85.99 L587.58,87.88 L588.51,89.83 L589.40,91.85 L590.24,93.93 L591.04,96.07 L591.79,98.27 L592.50,100.52 L593.16,102.82 L593.76,105.17 L594.33,107.56 L594.84,109.99 L595.30,112.46 L595.71,114.96 L596.07,117.49 L596.38,120.04 L596.63,122.61 L596.84,125.20 L596.99,127.81 L597.09,130.42" fill="none" stroke="#22c8d2" stroke-width="1.3"/>
<circle cx="515.13" cy="132.62" r="2.2" fill="#22c8d2" stroke="#000" stroke-opacity="0.12" stroke-width="0.4"/>
<circle cx="514.93" cy="132.37" r="0.66" fill="#fff" fill-opacity="0.55"/>
<circle cx="515.16" cy="131.01" r="2.2" fill="#22c8d2" stroke="#000" stroke-opacity="0.12" stroke-width="0.4"/>
<circle cx="514.96" cy="130.76" r="0.66" fill="#fff" fill-opacity="0.55"/>
<circle cx="515.22" cy="129.15" r="2.2" fill="#22c8d2" stroke="#000" stroke-opacity="0.12" stroke-width="0.4"/>
<circle cx="515.02" cy="128.90" r="0.66" fill="#fff" fill-opacity="0.55"/>
<circle cx="515.33" cy="126.91" r="2.2" fill="#22c8d2" stroke="#000" stroke-opacity="0.12" stroke-width="0.4"/>
<circle cx="515.13" cy="126.66" r="0.66" fill="#fff" fill-opacity="0.55"/>
<circle cx="515.52" cy="124.19" r="2.2" fill="#22c8d2" stroke="#000" stroke-opacity="0.12" stroke-width="0.4"/>
<circle cx="515.32" cy="123.94" r="0.66" fill="#fff" fill-opacity="0.55"/>
<circle cx="515.83" cy="120.92" r="2.2" fill="#22c8d2" stroke="#000" stroke-opacity="0.12" stroke-width="0.4"/>
<circle cx="515.63" cy="120.67" r="0.66" fill="#fff" fill-opacity="0.55"/>
<circle cx="516.31" cy="117.04" r="2.2" fill="#22c8d2" stroke="#000" stroke-opacity="0.12" stroke-width="0.4"/>
<circle cx="516.11" cy="116.79" r="0.66" fill="#fff" fill-opacity="0.55"/>
<circle cx="517.05" cy="112.54" r="2.2" fill="#22c8d2" stroke="#000" stroke-opacity="0.12" stroke-width="0.4"/>
<circle cx="516.85" cy="112.29" r="0.66" fill="#fff" fill-opacity="0.55"/>
<circle cx="518.11" cy="107.45" r="2.2" fill="#22c8d2" stroke="#000" stroke-opacity="0.12" stroke-width="0.4"/>
<circle cx="517.91" cy="107.20" r="0.66" fill="#fff" fill-opacity="0.55"/>
<circle cx="519.61" cy="101.87" r="2.2" fill="#22c8d2" stroke="#000" stroke-opacity="0.12" stroke-width="0.4"/>
<circle cx="519.41" cy="101.62" r="0.66" fill="#fff" fill-opacity="0.55"/>
<circle cx="521.63" cy="95.93" r="2.2" fill="#22c8d2" stroke="#000" stroke-opacity="0.12" stroke-width="0.4"/>
<circle cx="521.43" cy="95.68" r="0.66" fill="#fff" fill-opacity="0.55"/>
<circle cx="524.26" cy="89.85" r="2.2" fill="#22c8d2" stroke="#000" stroke-opacity="0.12" stroke-width="0.4"/>
<circle cx="524.06" cy="89.60" r="0.66" fill="#fff" fill-opacity="0.55"/>
<circle cx="527.59" cy="83.88" r="2.2" fill="#22c8d2" stroke="#000" stroke-opacity="0.12" stroke-width="0.4"/>
<circle cx="527.39" cy="83.63" r="0.66" fill="#fff" fill-opacity="0.55"/>
<circle cx="531.68" cy="78.34" r="2.2" fill="#22c8d2" stroke="#000" stroke-opacity="0.12" stroke-width="0.4"/>
<circle cx="531.48" cy="78.09" r="0.66" fill="#fff" fill-opacity="0.55"/>
<circle cx="536.55" cy="73.53" r="2.2" fill="#22c8d2" stroke="#000" stroke-opacity="0.12" stroke-width="0.4"/>
<circle cx="536.35" cy="73.28" r="0.66" fill="#fff" fill-opacity="0.55"/>
<circle cx="542.24" cy="69.75" r="2.2" fill="#22c8d2" stroke="#000" stroke-opacity="0.12" stroke-width="0.4"/>
<circle cx="542.04" cy="69.50" r="0.66" fill="#fff" fill-opacity="0.55"/>
<circle cx="548.80" cy="67.27" r="2.2" fill="#22c8d2" stroke="#000" stroke-opacity="0.12" stroke-width="0.4"/>
<circle cx="548.60" cy="67.02" r="0.66" fill="#fff" fill-opacity="0.55"/>
<circle cx="556.73" cy="66.23" r="2.2" fill="#22c8d2" stroke="#000" stroke-opacity="0.12" stroke-width="0.4"/>
<circle cx="556.53" cy="65.98" r="0.66" fill="#fff" fill-opacity="0.55"/>
<circle cx="564.32" cy="66.72" r="2.2" fill="#22c8d2" stroke="#000" stroke-opacity="0.12" stroke-width="0.4"/>
<circle cx="564.12" cy="66.47" r="0.66" fill="#fff" fill-opacity="0.55"/>
<circle cx="570.16" cy="68.67" r="2.2" fill="#22c8d2" stroke="#000" stroke-opacity="0.12" stroke-width="0.4"/>
<circle cx="569.96" cy="68.42" r="0.66" fill="#fff" fill-opacity="0.55"/>
<circle cx="575.38" cy="71.95" r="2.2" fill="#22c8d2" stroke="#000" stroke-opacity="0.12" stroke-width="0.4"/>
<circle cx="575.18" cy="71.70" r="0.66" fill="#fff" fill-opacity="0.55"/>
<circle cx="579.98" cy="76.32" r="2.2" fill="#22c8d2" stroke="#000" stroke-opacity="0.12" stroke-width="0.4"/>
<circle cx="579.78" cy="76.07" r="0.66" fill="#fff" fill-opacity="0.55"/>
<circle cx="583.92" cy="81.48" r="2.2" fill="#22c8d2" stroke="#000" stroke-opacity="0.12" stroke-width="0.4"/>
<circle cx="583.72" cy="81.23" r="0.66" fill="#fff" fill-opacity="0.55"/>
<circle cx="587.20" cy="87.12" r="2.2" fill="#22c8d2" stroke="#000" stroke-opacity="0.12" stroke-width="0.4"/>
<circle cx="587.00" cy="86.87" r="0.66" fill="#fff" fill-opacity="0.55"/>
<circle cx="589.85" cy="92.94" r="2.2" fill="#22c8d2" stroke="#000" stroke-opacity="0.12" stroke-width="0.4"/>
<circle cx="589.65" cy="92.69" r="0.66" fill="#fff" fill-opacity="0.55"/>
<circle cx="591.92" cy="98.68" r="2.2" fill="#22c8d2" stroke="#000" stroke-opacity="0.12" stroke-width="0.4"/>
<circle cx="591.72" cy="98.43" r="0.66" fill="#fff" fill-opacity="0.55"/>
<circle cx="593.50" cy="104.11" r="2.2" fill="#22c8d2" stroke="#000" stroke-opacity="0.12" stroke-width="0.4"/>
<circle cx="593.30" cy="103.86" r="0.66" fill="#fff" fill-opacity="0.55"/>
<circle cx="594.65" cy="109.08" r="2.2" fill="#22c8d2" stroke="#000" stroke-opacity="0.12" stroke-width="0.4"/>
<circle cx="594.45" cy="108.83" r="0.66" fill="#fff" fill-opacity="0.55"/>
<circle cx="595.48" cy="113.50" r="2.2" fill="#22c8d2" stroke="#000" stroke-opacity="0.12" stroke-width="0.4"/>
<circle cx="595.28" cy="113.25" r="0.66" fill="#fff" fill-opacity="0.55"/>
<circle cx="596.05" cy="117.33" r="2.2" fill="#22c8d2" stroke="#000" stroke-opacity="0.12" stroke-width="0.4"/>
<circle cx="595.85" cy="117.08" r="0.66" fill="#fff" fill-opacity="0.55"/>
<circle cx="596.43" cy="120.56" r="2.2" fill="#22c8d2" stroke="#000" stroke-opacity="0.12" stroke-width="0.4"/>
<circle cx="596.23" cy="120.31" r="0.66" fill="#fff" fill-opacity="0.55"/>
<circle cx="596.69" cy="123.26" r="2.2" fill="#22c8d2" stroke="#000" stroke-opacity="0.12" stroke-width="0.4"/>
<circle cx="596.49" cy="123.01" r="0.66" fill="#fff" fill-opacity="0.55"/>
<circle cx="596.86" cy="125.48" r="2.2" fill="#22c8d2" stroke="#000" stroke-opacity="0.12" stroke-width="0.4"/>
<circle cx="596.66" cy="125.23" r="0.66" fill="#fff" fill-opacity="0.55"/>
<circle cx="596.97" cy="127.34" r="2.2" fill="#22c8d2" stroke="#000" stroke-opacity="0.12" stroke-width="0.4"/>
<circle cx="596.77" cy="127.09" r="0.66" fill="#fff" fill-opacity="0.55"/>
<circle cx="597.04" cy="128.94" r="2.2" fill="#22c8d2" stroke="#000" stroke-opacity="0.12" stroke-width="0.4"/>
<circle cx="596.84" cy="128.69" r="0.66" fill="#fff" fill-opacity="0.55"/>
<circle cx="597.09" cy="130.42" r="2.2" fill="#22c8d2" stroke="#000" stroke-opacity="0.12" stroke-width="0.4"/>
<circle cx="596.89" cy="130.17" r="0.66" fill="#fff" fill-opacity="0.55"/>
<path d="M515.12,134.10 L515.14,132.19 L515.20,130.28 L515.30,128.38 L515.44,126.49 L515.63,124.61 L515.85,122.74 L516.11,120.89 L516.41,119.05 L516.75,117.24 L517.13,115.45 L517.55,113.69 L518.01,111.96 L518.51,110.25 L519.04,108.59 L519.62,106.95 L520.23,105.36 L520.87,103.81 L521.56,102.30 L522.28,100.83 L523.03,99.42 L523.82,98.05 L524.64,96.73 L525.50,95.47 L526.39,94.26 L527.32,93.10 L528.28,92.01 L529.27,90.97 L530.30,90.00 L531.35,89.09 L532.44,88.24 L533.57,87.46 L534.72,86.74 L535.91,86.09 L537.14,85.51 L538.40,85.00 L539.71,84.55 L541.06,84.18 L542.46,83.88 L543.93,83.65 L545.49,83.49 L547.21,83.40 L549.25,83.39 L550.70,83.44 L552.04,83.57 L553.34,83.77 L554.60,84.04 L555.82,84.38 L557.02,84.80 L558.20,85.28 L559.34,85.83 L560.47,86.45 L561.57,87.14 L562.64,87.89 L563.69,88.71 L564.72,89.59 L565.71,90.54 L566.69,91.55 L567.63,92.62 L568.54,93.75 L569.43,94.93 L570.28,96.17 L571.11,97.47 L571.90,98.81 L572.66,100.21 L573.38,101.65 L574.08,103.14 L574.74,104.68 L575.36,106.25 L575.95,107.87 L576.50,109.52 L577.01,111.21 L577.49,112.93 L577.92,114.68 L578.32,116.46 L578.68,118.26 L579.00,120.08 L579.29,121.93 L579.53,123.79 L579.73,125.67 L579.89,127.56" fill="none" stroke="#8a5656" stroke-width="1.3"/>
<circle cx="515.13" cy="133.02" r="2.2" fill="#8a5656" stroke="#000" stroke-opacity="0.12" stroke-width="0.4"/>
<circle cx="514.93" cy="132.77" r="0.66" fill="#fff" fill-opacity="0.55"/>
<circle cx="515.15" cy="131.85" r="2.2" fill="#8a5656" stroke="#000" stroke-opacity="0.12" stroke-width="0.4"/>
<circle cx="514.95" cy="131.60" r="0.66" fill="#fff" fill-opacity="0.55"/>
<circle cx="515.19" cy="130.49" r="2.2" fill="#8a5656" stroke="#000" stroke-opacity="0.12" stroke-width="0.4"/>
<circle cx="514.99" cy="130.24" r="0.66" fill="#fff" fill-opacity="0.55"/>
<circle cx="515.27" cy="128.86" r="2.2" fill="#8a5656" stroke="#000" stroke-opacity="0.12" stroke-width="0.4"/>
<circle cx="515.07" cy="128.61" r="0.66" fill="#fff" fill-opacity="0.55"/>
<circle cx="515.41" cy="126.88" r="2.2" fill="#8a5656" stroke="#000" stroke-opacity="0.12" stroke-width="0.4"/>
<circle cx="515.21" cy="126.63" r="0.66" fill="#fff" fill-opacity="0.55"/>
<circle cx="515.64" cy="124.49" r="2.2" fill="#8a5656" stroke="#000" stroke-opacity="0.12" stroke-width="0.4"/>
<circle cx="515.44" cy="124.24" r="0.66" fill="#fff" fill-opacity="0.55"/>
<circle cx="516.00" cy="121.66" r="2.2" fill="#8a5656" stroke="#000" stroke-opacity="0.12" stroke-width="0.4"/>
<circle cx="515.80" cy="121.41" r="0.66" fill="#fff" fill-opacity="0.55"/>
<circle cx="516.54" cy="118.37" r="2.2" fill="#8a5656" stroke="#000" stroke-opacity="0.12" stroke-width="0.4"/>
<circle cx="516.34" cy="118.12" r="0.66" fill="#fff" fill-opacity="0.55"/>
<circle cx="517.32" cy="114.65" r="2.2" fill="#8a5656" stroke="#000" stroke-opacity="0.12" stroke-width="0.4"/>
<circle cx="517.12" cy="114.40" r="0.66" fill="#fff" fill-opacity="0.55"/>
<circle cx="518.42" cy="110.56" r="2.2" fill="#8a5656" stroke="#000" stroke-opacity="0.12" stroke-width="0.4"/>
<circle cx="518.22" cy="110.31" r="0.66" fill="#fff" fill-opacity="0.55"/>
<circle cx="519.90" cy="106.20" r="2.2" fill="#8a5656" stroke="#000" stroke-opacity="0.12" stroke-width="0.4"/>
<circle cx="519.70" cy="105.95" r="0.66" fill="#fff" fill-opacity="0.55"/>
<circle cx="521.84" cy="101.71" r="2.2" fill="#8a5656" stroke="#000" stroke-opacity="0.12" stroke-width="0.4"/>
<circle cx="521.64" cy="101.46" r="0.66" fill="#fff" fill-opacity="0.55"/>
<circle cx="524.29" cy="97.29" r="2.2" fill="#8a5656" stroke="#000" stroke-opacity="0.12" stroke-width="0.4"/>
<circle cx="524.09" cy="97.04" r="0.66" fill="#fff" fill-opacity="0.55"/>
<circle cx="527.29" cy="93.14" r="2.2" fill="#8a5656" stroke="#000" stroke-opacity="0.12" stroke-width="0.4"/>
<circle cx="527.09" cy="92.89" r="0.66" fill="#fff" fill-opacity="0.55"/>
<circle cx="530.88" cy="89.48" r="2.2" fill="#8a5656" stroke="#000" stroke-opacity="0.12" stroke-width="0.4"/>
<circle cx="530.68" cy="89.23" r="0.66" fill="#fff" fill-opacity="0.55"/>
<circle cx="535.06" cy="86.55" r="2.2" fill="#8a5656" stroke="#000" stroke-opacity="0.12" stroke-width="0.4"/>
<circle cx="534.86" cy="86.30" r="0.66" fill="#fff" fill-opacity="0.55"/>
<circle cx="539.87" cy="84.51" r="2.2" fill="#8a5656" stroke="#000" stroke-opacity="0.12" stroke-width="0.4"/>
<circle cx="539.67" cy="84.26" r="0.66" fill="#fff" fill-opacity="0.55"/>
<circle cx="545.49" cy="83.49" r="2.2" fill="#8a5656" stroke="#000" stroke-opacity="0.12" stroke-width="0.4"/>
<circle cx="545.29" cy="83.24" r="0.66" fill="#fff" fill-opacity="0.55"/>
<circle cx="551.89" cy="83.55" r="2.2" fill="#8a5656" stroke="#000" stroke-opacity="0.12" stroke-width="0.4"/>
<circle cx="551.69" cy="83.30" r="0.66" fill="#fff" fill-opacity="0.55"/>
<circle cx="556.68" cy="84.67" r="2.2" fill="#8a5656" stroke="#000" stroke-opacity="0.12" stroke-width="0.4"/>
<circle cx="556.48" cy="84.42" r="0.66" fill="#fff" fill-opacity="0.55"/>
<circle cx="560.96" cy="86.74" r="2.2" fill="#8a5656" stroke="#000" stroke-opacity="0.12" stroke-width="0.4"/>
<circle cx="560.76" cy="86.49" r="0.66" fill="#fff" fill-opacity="0.55"/>
<circle cx="564.74" cy="89.62" r="2.2" fill="#8a5656" stroke="#000" stroke-opacity="0.12" stroke-width="0.4"/>
<circle cx="564.54" cy="89.37" r="0.66" fill="#fff" fill-opacity="0.55"/>
<circle cx="568.02" cy="93.09" r="2.2" fill="#8a5656" stroke="#000" stroke-opacity="0.12" stroke-width="0.4"/>
<circle cx="567.82" cy="92.84" r="0.66" fill="#fff" fill-opacity="0.55"/>
<circle cx="570.78" cy="96.95" r="2.2" fill="#8a5656" stroke="#000" stroke-opacity="0.12" stroke-width="0.4"/>
<circle cx="570.58" cy="96.70" r="0.66" fill="#fff" fill-opacity="0.55"/>
<circle cx="573.05" cy="100.97" r="2.2" fill="#8a5656" stroke="#000" stroke-opacity="0.12" stroke-width="0.4"/>
<circle cx="572.85" cy="100.72" r="0.66" fill="#fff" fill-opacity="0.55"/>
<circle cx="574.85" cy="104.96" r="2.2" fill="#8a5656" stroke="#000" stroke-opacity="0.12" stroke-width="0.4"/>
<circle cx="574.65" cy="104.71" r="0.66" fill="#fff" fill-opacity="0.55"/>
<circle cx="576.25" cy="108.77" r="2.2" fill="#8a5656" stroke="#000" stroke-opacity="0.12" stroke-width="0.4"/>
<circle cx="576.05" cy="108.52" r="0.66" fill="#fff" fill-opacity="0.55"/>
<circle cx="577.31" cy="112.28" r="2.2" fill="#8a5656" stroke="#000" stroke-opacity="0.12" stroke-width="0.4"/>
<circle cx="577.11" cy="112.03" r="0.66" fill="#fff" fill-opacity="0.55"/>
<circle cx="578.09" cy="115.42" r="2.2" fill="#8a5656" stroke="#000" stroke-opacity="0.12" stroke-width="0.4"/>
<circle cx="577.89" cy="115.17" r="0.66" fill="#fff" fill-opacity="0.55"/>
<circle cx="578.66" cy="118.14" r="2.2" fill="#8a5656" stroke="#000" stroke-opacity="0.12" stroke-width="0.4"/>
<circle cx="578.46" cy="117.89" r="0.66" fill="#fff" fill-opacity="0.55"/>
<circle cx="579.06" cy="120.46" r="2.2" fill="#8a5656" stroke="#000" stroke-opacity="0.12" stroke-width="0.4"/>
<circle cx="578.86" cy="120.21" r="0.66" fill="#fff" fill-opacity="0.55"/>
<circle cx="579.35" cy="122.39" r="2.2" fill="#8a5656" stroke="#000" stroke-opacity="0.12" stroke-width="0.4"/>
<circle cx="579.15" cy="122.14" r="0.66" fill="#fff" fill-opacity="0.55"/>
<circle cx="579.55" cy="123.99" r="2.2" fill="#8a5656" stroke="#000" stroke-opacity="0.12" stroke-width="0.4"/>
<circle cx="579.35" cy="123.74" r="0.66" fill="#fff" fill-opacity="0.55"/>
<circle cx="579.69" cy="125.33" r="2.2" fill="#8a5656" stroke="#000" stroke-opacity="0.12" stroke-width="0.4"/>
<circle cx="579.49" cy="125.08" r="0.66" fill="#fff" fill-opacity="0.55"/>
<circle cx="579.80" cy="126.49" r="2.2" fill="#8a5656" stroke="#000" stroke-opacity="0.12" stroke-width="0.4"/>
<circle cx="579.60" cy="126.24" r="0.66" fill="#fff" fill-opacity="0.55"/>
<circle cx="579.89" cy="127.56" r="2.2" fill="#8a5656" stroke="#000" stroke-opacity="0.12" stroke-width="0.4"/>
<circle cx="579.69" cy="127.31" r="0.66" fill="#fff" fill-opacity="0.55"/>
<path d="M515.12,134.10 L515.13,132.71 L515.18,131.32 L515.25,129.93 L515.35,128.56 L515.48,127.18 L515.64,125.82 L515.83,124.47 L516.04,123.14 L516.28,121.82 L516.56,120.52 L516.85,119.24 L517.18,117.98 L517.53,116.74 L517.92,115.53 L518.32,114.34 L518.76,113.18 L519.22,112.06 L519.70,110.96 L520.22,109.90 L520.75,108.88 L521.32,107.89 L521.90,106.93 L522.51,106.02 L523.15,105.15 L523.81,104.32 L524.49,103.53 L525.20,102.79 L525.93,102.09 L526.68,101.44 L527.46,100.83 L528.25,100.28 L529.08,99.77 L529.93,99.31 L530.80,98.90 L531.70,98.55 L532.63,98.24 L533.60,97.99 L534.60,97.79 L535.66,97.64 L536.79,97.54 L538.09,97.50 L539.40,97.51 L540.38,97.57 L541.31,97.68 L542.21,97.85 L543.09,98.07 L543.94,98.34 L544.78,98.67 L545.60,99.04 L546.40,99.47 L547.18,99.94 L547.94,100.47 L548.69,101.04 L549.42,101.66 L550.13,102.33 L550.82,103.04 L551.50,103.80 L552.15,104.60 L552.78,105.45 L553.39,106.34 L553.98,107.26 L554.55,108.23 L555.09,109.23 L555.61,110.27 L556.11,111.34 L556.58,112.45 L557.03,113.59 L557.45,114.75 L557.85,115.95 L558.22,117.17 L558.56,118.41 L558.88,119.68 L559.17,120.97 L559.43,122.28 L559.66,123.61 L559.87,124.95 L560.05,126.30 L560.20,127.66 L560.32,129.04 L560.41,130.42" fill="none" stroke="#999a12" stroke-width="1.3"/>
<circle cx="515.12" cy="133.32" r="2.2" fill="#999a12" stroke="#000" stroke-opacity="0.12" stroke-width="0.4"/>
<circle cx="514.92" cy="133.07" r="0.66" fill="#fff" fill-opacity="0.55"/>
<circle cx="515.14" cy="132.46" r="2.2" fill="#999a12" stroke="#000" stroke-opacity="0.12" stroke-width="0.4"/>
<circle cx="514.94" cy="132.21" r="0.66" fill="#fff" fill-opacity="0.55"/>
<circle cx="515.17" cy="131.47" r="2.2" fill="#999a12" stroke="#000" stroke-opacity="0.12" stroke-width="0.4"/>
<circle cx="514.97" cy="131.22" r="0.66" fill="#fff" fill-opacity="0.55"/>
<circle cx="515.23" cy="130.28" r="2.2" fill="#999a12" stroke="#000" stroke-opacity="0.12" stroke-width="0.4"/>
<circle cx="515.03" cy="130.03" r="0.66" fill="#fff" fill-opacity="0.55"/>
<circle cx="515.33" cy="128.84" r="2.2" fill="#999a12" stroke="#000" stroke-opacity="0.12" stroke-width="0.4"/>
<circle cx="515.13" cy="128.59" r="0.66" fill="#fff" fill-opacity="0.55"/>
<circle cx="515.49" cy="127.10" r="2.2" fill="#999a12" stroke="#000" stroke-opacity="0.12" stroke-width="0.4"/>
<circle cx="515.29" cy="126.85" r="0.66" fill="#fff" fill-opacity="0.55"/>
<circle cx="515.74" cy="125.04" r="2.2" fill="#999a12" stroke="#000" stroke-opacity="0.12" stroke-width="0.4"/>
<circle cx="515.54" cy="124.79" r="0.66" fill="#fff" fill-opacity="0.55"/>
<circle cx="516.13" cy="122.64" r="2.2" fill="#999a12" stroke="#000" stroke-opacity="0.12" stroke-width="0.4"/>
<circle cx="515.93" cy="122.39" r="0.66" fill="#fff" fill-opacity="0.55"/>
<circle cx="516.69" cy="119.94" r="2.2" fill="#999a12" stroke="#000" stroke-opacity="0.12" stroke-width="0.4"/>
<circle cx="516.49" cy="119.69" r="0.66" fill="#fff" fill-opacity="0.55"/>
<circle cx="517.47" cy="116.96" r="2.2" fill="#999a12" stroke="#000" stroke-opacity="0.12" stroke-width="0.4"/>
<circle cx="517.27" cy="116.71" r="0.66" fill="#fff" fill-opacity="0.55"/>
<circle cx="518.52" cy="113.79" r="2.2" fill="#999a12" stroke="#000" stroke-opacity="0.12" stroke-width="0.4"/>
<circle cx="518.32" cy="113.54" r="0.66" fill="#fff" fill-opacity="0.55"/>
<circle cx="519.90" cy="110.54" r="2.2" fill="#999a12" stroke="#000" stroke-opacity="0.12" stroke-width="0.4"/>
<circle cx="519.70" cy="110.29" r="0.66" fill="#fff" fill-opacity="0.55"/>
<circle cx="521.65" cy="107.34" r="2.2" fill="#999a12" stroke="#000" stroke-opacity="0.12" stroke-width="0.4"/>
<circle cx="521.45" cy="107.09" r="0.66" fill="#fff" fill-opacity="0.55"/>
<circle cx="523.79" cy="104.34" r="2.2" fill="#999a12" stroke="#000" stroke-opacity="0.12" stroke-width="0.4"/>
<circle cx="523.59" cy="104.09" r="0.66" fill="#fff" fill-opacity="0.55"/>
<circle cx="526.34" cy="101.72" r="2.2" fill="#999a12" stroke="#000" stroke-opacity="0.12" stroke-width="0.4"/>
<circle cx="526.14" cy="101.47" r="0.66" fill="#fff" fill-opacity="0.55"/>
<circle cx="529.32" cy="99.63" r="2.2" fill="#999a12" stroke="#000" stroke-opacity="0.12" stroke-width="0.4"/>
<circle cx="529.12" cy="99.38" r="0.66" fill="#fff" fill-opacity="0.55"/>
<circle cx="532.75" cy="98.21" r="2.2" fill="#999a12" stroke="#000" stroke-opacity="0.12" stroke-width="0.4"/>
<circle cx="532.55" cy="97.96" r="0.66" fill="#fff" fill-opacity="0.55"/>
<circle cx="536.79" cy="97.54" r="2.2" fill="#999a12" stroke="#000" stroke-opacity="0.12" stroke-width="0.4"/>
<circle cx="536.59" cy="97.29" r="0.66" fill="#fff" fill-opacity="0.55"/>
<circle cx="541.20" cy="97.67" r="2.2" fill="#999a12" stroke="#000" stroke-opacity="0.12" stroke-width="0.4"/>
<circle cx="541.00" cy="97.42" r="0.66" fill="#fff" fill-opacity="0.55"/>
<circle cx="544.54" cy="98.57" r="2.2" fill="#999a12" stroke="#000" stroke-opacity="0.12" stroke-width="0.4"/>
<circle cx="544.34" cy="98.32" r="0.66" fill="#fff" fill-opacity="0.55"/>
<circle cx="547.52" cy="100.17" r="2.2" fill="#999a12" stroke="#000" stroke-opacity="0.12" stroke-width="0.4"/>
<circle cx="547.32" cy="99.92" r="0.66" fill="#fff" fill-opacity="0.55"/>
<circle cx="550.15" cy="102.35" r="2.2" fill="#999a12" stroke="#000" stroke-opacity="0.12" stroke-width="0.4"/>
<circle cx="549.95" cy="102.10" r="0.66" fill="#fff" fill-opacity="0.55"/>
<circle cx="552.42" cy="104.96" r="2.2" fill="#999a12" stroke="#000" stroke-opacity="0.12" stroke-width="0.4"/>
<circle cx="552.22" cy="104.71" r="0.66" fill="#fff" fill-opacity="0.55"/>
<circle cx="554.33" cy="107.84" r="2.2" fill="#999a12" stroke="#000" stroke-opacity="0.12" stroke-width="0.4"/>
<circle cx="554.13" cy="107.59" r="0.66" fill="#fff" fill-opacity="0.55"/>
<circle cx="555.88" cy="110.83" r="2.2" fill="#999a12" stroke="#000" stroke-opacity="0.12" stroke-width="0.4"/>
<circle cx="555.68" cy="110.58" r="0.66" fill="#fff" fill-opacity="0.55"/>
<circle cx="557.11" cy="113.80" r="2.2" fill="#999a12" stroke="#000" stroke-opacity="0.12" stroke-width="0.4"/>
<circle cx="556.91" cy="113.55" r="0.66" fill="#fff" fill-opacity="0.55"/>
<circle cx="558.05" cy="116.62" r="2.2" fill="#999a12" stroke="#000" stroke-opacity="0.12" stroke-width="0.4"/>
<circle cx="557.85" cy="116.37" r="0.66" fill="#fff" fill-opacity="0.55"/>
<circle cx="558.76" cy="119.21" r="2.2" fill="#999a12" stroke="#000" stroke-opacity="0.12" stroke-width="0.4"/>
<circle cx="558.56" cy="118.96" r="0.66" fill="#fff" fill-opacity="0.55"/>
<circle cx="559.28" cy="121.52" r="2.2" fill="#999a12" stroke="#000" stroke-opacity="0.12" stroke-width="0.4"/>
<circle cx="559.08" cy="121.27" r="0.66" fill="#fff" fill-opacity="0.55"/>
<circle cx="559.65" cy="123.52" r="2.2" fill="#999a12" stroke="#000" stroke-opacity="0.12" stroke-width="0.4"/>
<circle cx="559.45" cy="123.27" r="0.66" fill="#fff" fill-opacity="0.55"/>
<circle cx="559.91" cy="125.22" r="2.2" fill="#999a12" stroke="#000" stroke-opacity="0.12" stroke-width="0.4"/>
<circle cx="559.71" cy="124.97" r="0.66" fill="#fff" fill-opacity="0.55"/>
<circle cx="560.09" cy="126.64" r="2.2" fill="#999a12" stroke="#000" stroke-opacity="0.12" stroke-width="0.4"/>
<circle cx="559.89" cy="126.39" r="0.66" fill="#fff" fill-opacity="0.55"/>
<circle cx="560.21" cy="127.81" r="2.2" fill="#999a12" stroke="#000" stroke-opacity="0.12" stroke-width="0.4"/>
<circle cx="560.01" cy="127.56" r="0.66" fill="#fff" fill-opacity="0.55"/>
<circle cx="560.30" cy="128.79" r="2.2" fill="#999a12" stroke="#000" stroke-opacity="0.12" stroke-width="0.4"/>
<circle cx="560.10" cy="128.54" r="0.66" fill="#fff" fill-opacity="0.55"/>
<circle cx="560.36" cy="129.64" r="2.2" fill="#999a12" stroke="#000" stroke-opacity="0.12" stroke-width="0.4"/>
<circle cx="560.16" cy="129.39" r="0.66" fill="#fff" fill-opacity="0.55"/>
<circle cx="560.41" cy="130.42" r="2.2" fill="#999a12" stroke="#000" stroke-opacity="0.12" stroke-width="0.4"/>
<circle cx="560.21" cy="130.17" r="0.66" fill="#fff" fill-opacity="0.55"/>
<polyline points="22.20,253.50 38.80,253.50" fill="none" stroke="#1a1a1a" stroke-width="1.3" stroke-linejoin="miter"/>
<polyline points="38.80,253.50 42.72,257.50 50.28,249.50 56.44,257.50 63.72,249.50 66.80,253.50" fill="none" stroke="#1a1a1a" stroke-width="1.3" stroke-linejoin="miter"/>
<polyline points="66.80,253.50 91.20,253.50" fill="none" stroke="#1a1a1a" stroke-width="1.3" stroke-linejoin="miter"/>
<polyline points="91.20,253.50 95.05,257.50 102.47,249.50 108.53,257.50 115.68,249.50 118.70,253.50" fill="none" stroke="#1a1a1a" stroke-width="1.3" stroke-linejoin="miter"/>
<polyline points="118.70,253.50 154.70,253.50" fill="none" stroke="#1a1a1a" stroke-width="1.3" stroke-linejoin="miter"/>
<polyline points="154.70,253.50 158.40,257.50 165.52,249.50 171.33,257.50 178.20,249.50 181.10,253.50" fill="none" stroke="#1a1a1a" stroke-width="1.3" stroke-linejoin="miter"/>
<polyline points="181.10,253.50 208.00,253.50" fill="none" stroke="#1a1a1a" stroke-width="1.3" stroke-linejoin="miter"/>
<polyline points="81.00,253.50 81.00,278.00 130.80,278.00 130.80,253.50" fill="none" stroke="#1a1a1a" stroke-width="1.3" stroke-linejoin="miter"/>
<polyline points="143.50,253.50 143.50,278.00 193.80,278.00 193.80,253.50" fill="none" stroke="#1a1a1a" stroke-width="1.3" stroke-linejoin="miter"/>
<rect x="103.5" y="274" width="5.6" height="8" fill="#fff"/>
<line x1="104.2" y1="273.6" x2="104.2" y2="282.6" stroke="#1a1a1a" stroke-width="1.3" />
<line x1="108.4" y1="273.6" x2="108.4" y2="282.6" stroke="#1a1a1a" stroke-width="1.3" />
<rect x="164" y="274" width="8" height="8" fill="#fff"/>
<polyline points="163.80,278.00 166.50,278.00" fill="none" stroke="#1a1a1a" stroke-width="1.3" stroke-linejoin="miter"/>
<polyline points="163.60,273.60 168.00,278.00 163.60,282.40" fill="none" stroke="#1a1a1a" stroke-width="1.2" stroke-linejoin="miter"/>
<polyline points="167.40,273.60 171.80,278.00 167.40,282.40" fill="none" stroke="#1a1a1a" stroke-width="1.2" stroke-linejoin="miter"/>
<circle cx="81" cy="253.5" r="3.4" fill="#1a1a1a"/>
<circle cx="143.5" cy="253.5" r="3.4" fill="#1a1a1a"/>
<text x="45.5" y="244.9" font-size="14" font-weight="bold" font-style="italic" fill="#111">R<tspan font-size="8.8" font-style="normal" font-weight="bold" dy="3">s</tspan></text>
<text x="97" y="245.1" font-size="14" font-weight="bold" font-style="italic" fill="#111">R<tspan font-size="8.8" font-style="normal" font-weight="bold" dy="3">tr</tspan></text>
<text x="158.3" y="245.1" font-size="14" font-weight="bold" font-style="italic" fill="#111">R<tspan font-size="8.8" font-style="normal" font-weight="bold" dy="3">rec</tspan></text>
<text x="99.2" y="297" font-size="14" font-weight="bold" font-style="italic" fill="#111">C<tspan font-size="8.8" font-style="normal" font-weight="bold" dy="3">tr</tspan></text>
<text x="160.8" y="297" font-size="14" font-weight="bold" font-style="italic" fill="#111">C<tspan font-size="8.8" font-style="normal" font-weight="bold" dy="3">rec</tspan></text>
<rect x="271.2" y="199.2" width="153.1" height="130.9" fill="none" stroke="#2b2b2b" stroke-width="1.2"/>
<line x1="269" y1="330" x2="271.2" y2="330" stroke="#2b2b2b" stroke-width="1.0" />
<text x="267.8" y="333" font-size="8.5" text-anchor="end" fill="#222" >0</text>
<line x1="269" y1="303.85" x2="271.2" y2="303.85" stroke="#2b2b2b" stroke-width="1.0" />
<text x="267.8" y="306.85" font-size="8.5" text-anchor="end" fill="#222" >10</text>
<line x1="269" y1="277.7" x2="271.2" y2="277.7" stroke="#2b2b2b" stroke-width="1.0" />
<text x="267.8" y="280.7" font-size="8.5" text-anchor="end" fill="#222" >20</text>
<line x1="269" y1="251.55" x2="271.2" y2="251.55" stroke="#2b2b2b" stroke-width="1.0" />
<text x="267.8" y="254.55" font-size="8.5" text-anchor="end" fill="#222" >30</text>
<line x1="269" y1="225.4" x2="271.2" y2="225.4" stroke="#2b2b2b" stroke-width="1.0" />
<text x="267.8" y="228.4" font-size="8.5" text-anchor="end" fill="#222" >40</text>
<line x1="269" y1="199.25" x2="271.2" y2="199.25" stroke="#2b2b2b" stroke-width="1.0" />
<text x="267.8" y="202.25" font-size="8.5" text-anchor="end" fill="#222" >50</text>
<line x1="269.9" y1="316.93" x2="271.2" y2="316.93" stroke="#2b2b2b" stroke-width="1.0" />
<line x1="269.9" y1="290.77" x2="271.2" y2="290.77" stroke="#2b2b2b" stroke-width="1.0" />
<line x1="269.9" y1="264.62" x2="271.2" y2="264.62" stroke="#2b2b2b" stroke-width="1.0" />
<line x1="269.9" y1="238.47" x2="271.2" y2="238.47" stroke="#2b2b2b" stroke-width="1.0" />
<line x1="269.9" y1="212.32" x2="271.2" y2="212.32" stroke="#2b2b2b" stroke-width="1.0" />
<line x1="286.9" y1="330.1" x2="286.9" y2="332.3" stroke="#2b2b2b" stroke-width="1.0" />
<text x="286.9" y="340.8" font-size="8.5" text-anchor="middle" fill="#222" >1.0</text>
<line x1="302.2" y1="330.1" x2="302.2" y2="331.4" stroke="#2b2b2b" stroke-width="1.0" />
<line x1="317.5" y1="330.1" x2="317.5" y2="332.3" stroke="#2b2b2b" stroke-width="1.0" />
<text x="317.5" y="340.8" font-size="8.5" text-anchor="middle" fill="#222" >1.2</text>
<line x1="332.8" y1="330.1" x2="332.8" y2="331.4" stroke="#2b2b2b" stroke-width="1.0" />
<line x1="348.1" y1="330.1" x2="348.1" y2="332.3" stroke="#2b2b2b" stroke-width="1.0" />
<text x="348.1" y="340.8" font-size="8.5" text-anchor="middle" fill="#222" >1.4</text>
<line x1="363.4" y1="330.1" x2="363.4" y2="331.4" stroke="#2b2b2b" stroke-width="1.0" />
<line x1="378.7" y1="330.1" x2="378.7" y2="332.3" stroke="#2b2b2b" stroke-width="1.0" />
<text x="378.7" y="340.8" font-size="8.5" text-anchor="middle" fill="#222" >1.6</text>
<line x1="394" y1="330.1" x2="394" y2="331.4" stroke="#2b2b2b" stroke-width="1.0" />
<line x1="409.3" y1="330.1" x2="409.3" y2="332.3" stroke="#2b2b2b" stroke-width="1.0" />
<text x="409.3" y="340.8" font-size="8.5" text-anchor="middle" fill="#222" >1.8</text>
<text x="348" y="353.4" font-size="9.6" text-anchor="middle" fill="#111"><tspan font-style="italic">E</tspan> (V vs. RHE)</text>
<text transform="translate(252.4,263.9) rotate(-90) scale(0.91,1)" font-size="10.4" text-anchor="middle" fill="#111"><tspan font-style="italic">R</tspan><tspan font-size="6.6" dy="1.8">s</tspan><tspan dy="-1.8"> (Ω)</tspan></text>
<polyline points="286.90,222.78 302.20,223.83 317.50,224.88 332.80,220.17 348.10,221.22 363.40,218.60 378.70,220.69 394.00,215.46 409.30,214.94" fill="none" stroke="#148a8c" stroke-width="1" stroke-dasharray="1,2.5" stroke-opacity="0.35"/>
<polyline points="286.90,217.56 302.20,219.65 317.50,220.17 332.80,220.69 348.10,222.26 363.40,221.22 378.70,219.12 394.00,217.56 409.30,216.51" fill="none" stroke="#d49c14" stroke-width="1" stroke-dasharray="1,2.5" stroke-opacity="0.35"/>
<polyline points="286.90,224.09 302.20,223.83 317.50,225.92 332.80,225.40 348.10,224.88 363.40,223.31 378.70,225.40 394.00,225.40 409.30,222.78" fill="none" stroke="#f04aa8" stroke-width="1" stroke-dasharray="1,2.5" stroke-opacity="0.35"/>
<circle cx="286.90" cy="222.78" r="2.45" fill="none" stroke="#148a8c" stroke-width="1.7"/>
<circle cx="302.20" cy="223.83" r="2.45" fill="none" stroke="#148a8c" stroke-width="1.7"/>
<circle cx="317.50" cy="224.88" r="2.45" fill="none" stroke="#148a8c" stroke-width="1.7"/>
<circle cx="332.80" cy="220.17" r="2.45" fill="none" stroke="#148a8c" stroke-width="1.7"/>
<circle cx="348.10" cy="221.22" r="2.45" fill="none" stroke="#148a8c" stroke-width="1.7"/>
<circle cx="363.40" cy="218.60" r="2.45" fill="none" stroke="#148a8c" stroke-width="1.7"/>
<circle cx="378.70" cy="220.69" r="2.45" fill="none" stroke="#148a8c" stroke-width="1.7"/>
<circle cx="394.00" cy="215.46" r="2.45" fill="none" stroke="#148a8c" stroke-width="1.7"/>
<circle cx="409.30" cy="214.94" r="2.45" fill="none" stroke="#148a8c" stroke-width="1.7"/>
<circle cx="286.90" cy="217.56" r="2.45" fill="none" stroke="#d49c14" stroke-width="1.7"/>
<circle cx="302.20" cy="219.65" r="2.45" fill="none" stroke="#d49c14" stroke-width="1.7"/>
<circle cx="317.50" cy="220.17" r="2.45" fill="none" stroke="#d49c14" stroke-width="1.7"/>
<circle cx="332.80" cy="220.69" r="2.45" fill="none" stroke="#d49c14" stroke-width="1.7"/>
<circle cx="348.10" cy="222.26" r="2.45" fill="none" stroke="#d49c14" stroke-width="1.7"/>
<circle cx="363.40" cy="221.22" r="2.45" fill="none" stroke="#d49c14" stroke-width="1.7"/>
<circle cx="378.70" cy="219.12" r="2.45" fill="none" stroke="#d49c14" stroke-width="1.7"/>
<circle cx="394.00" cy="217.56" r="2.45" fill="none" stroke="#d49c14" stroke-width="1.7"/>
<circle cx="409.30" cy="216.51" r="2.45" fill="none" stroke="#d49c14" stroke-width="1.7"/>
<circle cx="286.90" cy="224.09" r="2.45" fill="none" stroke="#f04aa8" stroke-width="1.7"/>
<circle cx="302.20" cy="223.83" r="2.45" fill="none" stroke="#f04aa8" stroke-width="1.7"/>
<circle cx="317.50" cy="225.92" r="2.45" fill="none" stroke="#f04aa8" stroke-width="1.7"/>
<circle cx="332.80" cy="225.40" r="2.45" fill="none" stroke="#f04aa8" stroke-width="1.7"/>
<circle cx="348.10" cy="224.88" r="2.45" fill="none" stroke="#f04aa8" stroke-width="1.7"/>
<circle cx="363.40" cy="223.31" r="2.45" fill="none" stroke="#f04aa8" stroke-width="1.7"/>
<circle cx="378.70" cy="225.40" r="2.45" fill="none" stroke="#f04aa8" stroke-width="1.7"/>
<circle cx="394.00" cy="225.40" r="2.45" fill="none" stroke="#f04aa8" stroke-width="1.7"/>
<circle cx="409.30" cy="222.78" r="2.45" fill="none" stroke="#f04aa8" stroke-width="1.7"/>
<circle cx="358.00" cy="301.20" r="2.45" fill="none" stroke="#148a8c" stroke-width="1.7"/>
<text x="367.8" y="304.1" font-size="7.8" text-anchor="start" fill="#148a8c" >FM/PbS-QD</text>
<circle cx="358.00" cy="310.70" r="2.45" fill="none" stroke="#d49c14" stroke-width="1.7"/>
<text x="367.8" y="313.6" font-size="7.8" text-anchor="start" fill="#d49c14" >Ni/PbS-QD</text>
<circle cx="358.00" cy="320.00" r="2.45" fill="none" stroke="#f04aa8" stroke-width="1.7"/>
<text x="367.8" y="322.9" font-size="7.8" text-anchor="start" fill="#f04aa8" >Ni/FM/PbS-QD</text>
<path d="M658.2,199.2 L504.5,199.2 L504.5,330 L658.2,330" fill="none" stroke="#2b2b2b" stroke-width="1.2" stroke-linecap="square"/>
<line x1="502.3" y1="330" x2="504.5" y2="330" stroke="#2b2b2b" stroke-width="1.0" />
<text x="501.1" y="333" font-size="8.5" text-anchor="end" fill="#222" >0</text>
<line x1="502.3" y1="303.9" x2="504.5" y2="303.9" stroke="#2b2b2b" stroke-width="1.0" />
<text x="501.1" y="306.9" font-size="8.5" text-anchor="end" fill="#222" >1</text>
<line x1="502.3" y1="277.8" x2="504.5" y2="277.8" stroke="#2b2b2b" stroke-width="1.0" />
<text x="501.1" y="280.8" font-size="8.5" text-anchor="end" fill="#222" >2</text>
<line x1="502.3" y1="251.7" x2="504.5" y2="251.7" stroke="#2b2b2b" stroke-width="1.0" />
<text x="501.1" y="254.7" font-size="8.5" text-anchor="end" fill="#222" >3</text>
<line x1="502.3" y1="225.6" x2="504.5" y2="225.6" stroke="#2b2b2b" stroke-width="1.0" />
<text x="501.1" y="228.6" font-size="8.5" text-anchor="end" fill="#222" >4</text>
<line x1="502.3" y1="199.5" x2="504.5" y2="199.5" stroke="#2b2b2b" stroke-width="1.0" />
<text x="501.1" y="202.5" font-size="8.5" text-anchor="end" fill="#222" >5</text>
<line x1="503.2" y1="316.95" x2="504.5" y2="316.95" stroke="#2b2b2b" stroke-width="1.0" />
<line x1="503.2" y1="290.85" x2="504.5" y2="290.85" stroke="#2b2b2b" stroke-width="1.0" />
<line x1="503.2" y1="264.75" x2="504.5" y2="264.75" stroke="#2b2b2b" stroke-width="1.0" />
<line x1="503.2" y1="238.65" x2="504.5" y2="238.65" stroke="#2b2b2b" stroke-width="1.0" />
<line x1="503.2" y1="212.55" x2="504.5" y2="212.55" stroke="#2b2b2b" stroke-width="1.0" />
<line x1="520.2" y1="330" x2="520.2" y2="332.2" stroke="#2b2b2b" stroke-width="1.0" />
<text x="520.2" y="340.8" font-size="8.5" text-anchor="middle" fill="#222" >1.0</text>
<line x1="535.5" y1="330" x2="535.5" y2="331.3" stroke="#2b2b2b" stroke-width="1.0" />
<line x1="550.8" y1="330" x2="550.8" y2="332.2" stroke="#2b2b2b" stroke-width="1.0" />
<text x="550.8" y="340.8" font-size="8.5" text-anchor="middle" fill="#222" >1.2</text>
<line x1="566.1" y1="330" x2="566.1" y2="331.3" stroke="#2b2b2b" stroke-width="1.0" />
<line x1="581.4" y1="330" x2="581.4" y2="332.2" stroke="#2b2b2b" stroke-width="1.0" />
<text x="581.4" y="340.8" font-size="8.5" text-anchor="middle" fill="#222" >1.4</text>
<line x1="596.7" y1="330" x2="596.7" y2="331.3" stroke="#2b2b2b" stroke-width="1.0" />
<line x1="612" y1="330" x2="612" y2="332.2" stroke="#2b2b2b" stroke-width="1.0" />
<text x="612" y="340.8" font-size="8.5" text-anchor="middle" fill="#222" >1.6</text>
<line x1="627.3" y1="330" x2="627.3" y2="331.3" stroke="#2b2b2b" stroke-width="1.0" />
<line x1="642.6" y1="330" x2="642.6" y2="332.2" stroke="#2b2b2b" stroke-width="1.0" />
<text x="642.6" y="340.8" font-size="8.5" text-anchor="middle" fill="#222" >1.8</text>
<text x="581.5" y="353.4" font-size="9.6" text-anchor="middle" fill="#111"><tspan font-style="italic">E</tspan> (V vs. RHE)</text>
<text transform="translate(489.6,264.6) rotate(-90) scale(0.91,1)" font-size="10.4" text-anchor="middle" fill="#111"><tspan font-style="italic">R</tspan><tspan font-size="6.6" dy="1.8">tr</tspan><tspan dy="-1.8"> (Ω)</tspan></text>
<line x1="658.2" y1="199.2" x2="658.2" y2="330" stroke="#4a90ea" stroke-width="1.15" />
<line x1="658.2" y1="330" x2="660.4" y2="330" stroke="#4a90ea" stroke-width="1.0" />
<text x="661.8" y="333" font-size="8.5" text-anchor="start" fill="#4a90ea" >0</text>
<line x1="658.2" y1="303.6" x2="660.4" y2="303.6" stroke="#4a90ea" stroke-width="1.0" />
<text x="661.8" y="306.6" font-size="8.5" text-anchor="start" fill="#4a90ea" >1</text>
<line x1="658.2" y1="316.8" x2="659.5" y2="316.8" stroke="#4a90ea" stroke-width="1.0" />
<line x1="658.2" y1="277.3" x2="660.4" y2="277.3" stroke="#4a90ea" stroke-width="1.0" />
<text x="661.8" y="280.3" font-size="8.5" text-anchor="start" fill="#4a90ea" >4</text>
<line x1="658.2" y1="254.9" x2="660.4" y2="254.9" stroke="#4a90ea" stroke-width="1.0" />
<text x="661.8" y="257.9" font-size="8.5" text-anchor="start" fill="#4a90ea" >8</text>
<line x1="658.2" y1="232.6" x2="660.4" y2="232.6" stroke="#4a90ea" stroke-width="1.0" />
<text x="661.8" y="235.6" font-size="8.5" text-anchor="start" fill="#4a90ea" >12</text>
<line x1="658.2" y1="209.9" x2="660.4" y2="209.9" stroke="#4a90ea" stroke-width="1.0" />
<text x="661.8" y="212.9" font-size="8.5" text-anchor="start" fill="#4a90ea" >16</text>
<line x1="658.2" y1="288.5" x2="659.5" y2="288.5" stroke="#4a90ea" stroke-width="1.0" />
<line x1="658.2" y1="266.1" x2="659.5" y2="266.1" stroke="#4a90ea" stroke-width="1.0" />
<line x1="658.2" y1="243.7" x2="659.5" y2="243.7" stroke="#4a90ea" stroke-width="1.0" />
<line x1="658.2" y1="221.3" x2="659.5" y2="221.3" stroke="#4a90ea" stroke-width="1.0" />
<line x1="658.2" y1="203" x2="659.5" y2="203" stroke="#4a90ea" stroke-width="1.0" />
<rect x="656.2" y="288.6" width="4" height="2.8" fill="#fff"/>
<line x1="655.4" y1="290.6" x2="661" y2="287.4" stroke="#4a90ea" stroke-width="1.0" />
<line x1="655.4" y1="292.6" x2="661" y2="289.4" stroke="#4a90ea" stroke-width="1.0" />
<text transform="translate(674.2,264) rotate(90) scale(0.91,1)" font-size="10.4" text-anchor="middle" fill="#4a90ea"><tspan font-style="italic">R</tspan><tspan font-size="6.6" dy="1.8">tr</tspan><tspan dy="-1.8"> (Ω)</tspan></text>
<polyline points="520.20,251.70 535.50,255.88 550.80,256.66 566.10,260.05 581.40,262.40 596.70,263.97 612.00,265.01 627.30,265.53 642.60,266.06" fill="none" stroke="#148a8c" stroke-width="1" stroke-dasharray="1,2.5" stroke-opacity="0.35"/>
<polyline points="520.20,205.50 535.50,210.20 550.80,236.56 566.10,226.90 581.40,238.65 596.70,260.57 612.00,273.88 627.30,303.90 642.60,307.29" fill="none" stroke="#d49c14" stroke-width="1" stroke-dasharray="1,2.5" stroke-opacity="0.35"/>
<polyline points="520.20,316.17 535.50,317.73 550.80,318.52 566.10,319.04 581.40,319.56 596.70,320.87 612.00,321.65 627.30,322.43 642.60,323.21" fill="none" stroke="#f04aa8" stroke-width="1" stroke-dasharray="1,2.5" stroke-opacity="0.35"/>
<circle cx="520.20" cy="251.70" r="2.45" fill="none" stroke="#148a8c" stroke-width="1.7"/>
<circle cx="535.50" cy="255.88" r="2.45" fill="none" stroke="#148a8c" stroke-width="1.7"/>
<circle cx="550.80" cy="256.66" r="2.45" fill="none" stroke="#148a8c" stroke-width="1.7"/>
<circle cx="566.10" cy="260.05" r="2.45" fill="none" stroke="#148a8c" stroke-width="1.7"/>
<circle cx="581.40" cy="262.40" r="2.45" fill="none" stroke="#148a8c" stroke-width="1.7"/>
<circle cx="596.70" cy="263.97" r="2.45" fill="none" stroke="#148a8c" stroke-width="1.7"/>
<circle cx="612.00" cy="265.01" r="2.45" fill="none" stroke="#148a8c" stroke-width="1.7"/>
<circle cx="627.30" cy="265.53" r="2.45" fill="none" stroke="#148a8c" stroke-width="1.7"/>
<circle cx="642.60" cy="266.06" r="2.45" fill="none" stroke="#148a8c" stroke-width="1.7"/>
<circle cx="520.20" cy="205.50" r="2.45" fill="none" stroke="#d49c14" stroke-width="1.7"/>
<circle cx="535.50" cy="210.20" r="2.45" fill="none" stroke="#d49c14" stroke-width="1.7"/>
<circle cx="550.80" cy="236.56" r="2.45" fill="none" stroke="#d49c14" stroke-width="1.7"/>
<circle cx="566.10" cy="226.90" r="2.45" fill="none" stroke="#d49c14" stroke-width="1.7"/>
<circle cx="581.40" cy="238.65" r="2.45" fill="none" stroke="#d49c14" stroke-width="1.7"/>
<circle cx="596.70" cy="260.57" r="2.45" fill="none" stroke="#d49c14" stroke-width="1.7"/>
<circle cx="612.00" cy="273.88" r="2.45" fill="none" stroke="#d49c14" stroke-width="1.7"/>
<circle cx="627.30" cy="303.90" r="2.45" fill="none" stroke="#d49c14" stroke-width="1.7"/>
<circle cx="642.60" cy="307.29" r="2.45" fill="none" stroke="#d49c14" stroke-width="1.7"/>
<circle cx="520.20" cy="316.17" r="2.45" fill="none" stroke="#f04aa8" stroke-width="1.7"/>
<circle cx="535.50" cy="317.73" r="2.45" fill="none" stroke="#f04aa8" stroke-width="1.7"/>
<circle cx="550.80" cy="318.52" r="2.45" fill="none" stroke="#f04aa8" stroke-width="1.7"/>
<circle cx="566.10" cy="319.04" r="2.45" fill="none" stroke="#f04aa8" stroke-width="1.7"/>
<circle cx="581.40" cy="319.56" r="2.45" fill="none" stroke="#f04aa8" stroke-width="1.7"/>
<circle cx="596.70" cy="320.87" r="2.45" fill="none" stroke="#f04aa8" stroke-width="1.7"/>
<circle cx="612.00" cy="321.65" r="2.45" fill="none" stroke="#f04aa8" stroke-width="1.7"/>
<circle cx="627.30" cy="322.43" r="2.45" fill="none" stroke="#f04aa8" stroke-width="1.7"/>
<circle cx="642.60" cy="323.21" r="2.45" fill="none" stroke="#f04aa8" stroke-width="1.7"/>
<circle cx="594.30" cy="206.30" r="2.45" fill="none" stroke="#148a8c" stroke-width="1.7"/>
<text x="604.3" y="209.2" font-size="7.8" text-anchor="start" fill="#148a8c" >FM/PbS-QD</text>
<circle cx="594.30" cy="215.70" r="2.45" fill="none" stroke="#d49c14" stroke-width="1.7"/>
<text x="604.3" y="218.6" font-size="7.8" text-anchor="start" fill="#d49c14" >Ni/PbS-QD</text>
<circle cx="594.30" cy="225.00" r="2.45" fill="none" stroke="#f04aa8" stroke-width="1.7"/>
<text x="604.3" y="227.9" font-size="7.8" text-anchor="start" fill="#f04aa8" >Ni/FM/PbS-QD</text>
<ellipse cx="642.5" cy="307.4" rx="7.0" ry="10.9" fill="none" stroke="#f5b320" stroke-width="1.6" stroke-dasharray="4.2,1.7"/>
<line x1="649.2" y1="311.9" x2="666.5" y2="311.9" stroke="#f5b320" stroke-width="1.5" />
<polygon points="665,308.4 672.5,311.9 665,315.4" fill="#f5b320"/>
<rect x="39" y="388" width="152.7" height="131.3" fill="none" stroke="#2b2b2b" stroke-width="1.2"/>
<line x1="36.8" y1="519" x2="39" y2="519" stroke="#2b2b2b" stroke-width="1.0" />
<text x="35.6" y="522" font-size="8.5" text-anchor="end" fill="#222" >0</text>
<line x1="36.8" y1="486.24" x2="39" y2="486.24" stroke="#2b2b2b" stroke-width="1.0" />
<text x="35.6" y="489.24" font-size="8.5" text-anchor="end" fill="#222" >4</text>
<line x1="36.8" y1="453.48" x2="39" y2="453.48" stroke="#2b2b2b" stroke-width="1.0" />
<text x="35.6" y="456.48" font-size="8.5" text-anchor="end" fill="#222" >8</text>
<line x1="36.8" y1="420.72" x2="39" y2="420.72" stroke="#2b2b2b" stroke-width="1.0" />
<text x="35.6" y="423.72" font-size="8.5" text-anchor="end" fill="#222" >12</text>
<line x1="36.8" y1="387.96" x2="39" y2="387.96" stroke="#2b2b2b" stroke-width="1.0" />
<text x="35.6" y="390.96" font-size="8.5" text-anchor="end" fill="#222" >16</text>
<line x1="37.7" y1="502.62" x2="39" y2="502.62" stroke="#2b2b2b" stroke-width="1.0" />
<line x1="37.7" y1="469.86" x2="39" y2="469.86" stroke="#2b2b2b" stroke-width="1.0" />
<line x1="37.7" y1="437.1" x2="39" y2="437.1" stroke="#2b2b2b" stroke-width="1.0" />
<line x1="37.7" y1="404.34" x2="39" y2="404.34" stroke="#2b2b2b" stroke-width="1.0" />
<line x1="54.4" y1="519.3" x2="54.4" y2="521.5" stroke="#2b2b2b" stroke-width="1.0" />
<text x="54.4" y="530.1" font-size="8.5" text-anchor="middle" fill="#222" >1.0</text>
<line x1="69.66" y1="519.3" x2="69.66" y2="520.6" stroke="#2b2b2b" stroke-width="1.0" />
<line x1="84.92" y1="519.3" x2="84.92" y2="521.5" stroke="#2b2b2b" stroke-width="1.0" />
<text x="84.92" y="530.1" font-size="8.5" text-anchor="middle" fill="#222" >1.2</text>
<line x1="100.18" y1="519.3" x2="100.18" y2="520.6" stroke="#2b2b2b" stroke-width="1.0" />
<line x1="115.44" y1="519.3" x2="115.44" y2="521.5" stroke="#2b2b2b" stroke-width="1.0" />
<text x="115.44" y="530.1" font-size="8.5" text-anchor="middle" fill="#222" >1.4</text>
<line x1="130.7" y1="519.3" x2="130.7" y2="520.6" stroke="#2b2b2b" stroke-width="1.0" />
<line x1="145.96" y1="519.3" x2="145.96" y2="521.5" stroke="#2b2b2b" stroke-width="1.0" />
<text x="145.96" y="530.1" font-size="8.5" text-anchor="middle" fill="#222" >1.6</text>
<line x1="161.22" y1="519.3" x2="161.22" y2="520.6" stroke="#2b2b2b" stroke-width="1.0" />
<line x1="176.48" y1="519.3" x2="176.48" y2="521.5" stroke="#2b2b2b" stroke-width="1.0" />
<text x="176.48" y="530.1" font-size="8.5" text-anchor="middle" fill="#222" >1.8</text>
<text x="115.3" y="541.3" font-size="9.6" text-anchor="middle" fill="#111"><tspan font-style="italic">E</tspan> (V vs. RHE)</text>
<text transform="translate(21.2,453.5) rotate(-90) scale(0.91,1)" font-size="10.4" text-anchor="middle" fill="#111"><tspan font-style="italic">C</tspan><tspan font-size="6.6" dy="1.8">tr</tspan><tspan dy="-1.8"> (10</tspan><tspan font-size="6.6" dy="-4">−6</tspan><tspan dy="4"> F)</tspan></text>
<polyline points="54.40,460.52 69.66,476.74 84.92,474.04 100.18,467.48 115.44,451.02 130.70,456.02 145.96,453.23 161.22,458.97 176.48,461.51" fill="none" stroke="#148a8c" stroke-width="1" stroke-dasharray="1,2.5" stroke-opacity="0.35"/>
<polyline points="54.40,505.24 69.66,501.96 84.92,495.74 100.18,496.48 115.44,500.00 130.70,503.77 145.96,504.75 161.22,498.52 176.48,504.26" fill="none" stroke="#d49c14" stroke-width="1" stroke-dasharray="1,2.5" stroke-opacity="0.35"/>
<polyline points="54.40,417.77 69.66,414.99 84.92,417.03 100.18,406.22 115.44,405.00 130.70,412.04 145.96,398.03 161.22,403.77 176.48,396.15" fill="none" stroke="#f04aa8" stroke-width="1" stroke-dasharray="1,2.5" stroke-opacity="0.35"/>
<circle cx="54.40" cy="460.52" r="2.45" fill="none" stroke="#148a8c" stroke-width="1.7"/>
<circle cx="69.66" cy="476.74" r="2.45" fill="none" stroke="#148a8c" stroke-width="1.7"/>
<circle cx="84.92" cy="474.04" r="2.45" fill="none" stroke="#148a8c" stroke-width="1.7"/>
<circle cx="100.18" cy="467.48" r="2.45" fill="none" stroke="#148a8c" stroke-width="1.7"/>
<circle cx="115.44" cy="451.02" r="2.45" fill="none" stroke="#148a8c" stroke-width="1.7"/>
<circle cx="130.70" cy="456.02" r="2.45" fill="none" stroke="#148a8c" stroke-width="1.7"/>
<circle cx="145.96" cy="453.23" r="2.45" fill="none" stroke="#148a8c" stroke-width="1.7"/>
<circle cx="161.22" cy="458.97" r="2.45" fill="none" stroke="#148a8c" stroke-width="1.7"/>
<circle cx="176.48" cy="461.51" r="2.45" fill="none" stroke="#148a8c" stroke-width="1.7"/>
<circle cx="54.40" cy="505.24" r="2.45" fill="none" stroke="#d49c14" stroke-width="1.7"/>
<circle cx="69.66" cy="501.96" r="2.45" fill="none" stroke="#d49c14" stroke-width="1.7"/>
<circle cx="84.92" cy="495.74" r="2.45" fill="none" stroke="#d49c14" stroke-width="1.7"/>
<circle cx="100.18" cy="496.48" r="2.45" fill="none" stroke="#d49c14" stroke-width="1.7"/>
<circle cx="115.44" cy="500.00" r="2.45" fill="none" stroke="#d49c14" stroke-width="1.7"/>
<circle cx="130.70" cy="503.77" r="2.45" fill="none" stroke="#d49c14" stroke-width="1.7"/>
<circle cx="145.96" cy="504.75" r="2.45" fill="none" stroke="#d49c14" stroke-width="1.7"/>
<circle cx="161.22" cy="498.52" r="2.45" fill="none" stroke="#d49c14" stroke-width="1.7"/>
<circle cx="176.48" cy="504.26" r="2.45" fill="none" stroke="#d49c14" stroke-width="1.7"/>
<circle cx="54.40" cy="417.77" r="2.45" fill="none" stroke="#f04aa8" stroke-width="1.7"/>
<circle cx="69.66" cy="414.99" r="2.45" fill="none" stroke="#f04aa8" stroke-width="1.7"/>
<circle cx="84.92" cy="417.03" r="2.45" fill="none" stroke="#f04aa8" stroke-width="1.7"/>
<circle cx="100.18" cy="406.22" r="2.45" fill="none" stroke="#f04aa8" stroke-width="1.7"/>
<circle cx="115.44" cy="405.00" r="2.45" fill="none" stroke="#f04aa8" stroke-width="1.7"/>
<circle cx="130.70" cy="412.04" r="2.45" fill="none" stroke="#f04aa8" stroke-width="1.7"/>
<circle cx="145.96" cy="398.03" r="2.45" fill="none" stroke="#f04aa8" stroke-width="1.7"/>
<circle cx="161.22" cy="403.77" r="2.45" fill="none" stroke="#f04aa8" stroke-width="1.7"/>
<circle cx="176.48" cy="396.15" r="2.45" fill="none" stroke="#f04aa8" stroke-width="1.7"/>
<circle cx="127.50" cy="422.75" r="2.45" fill="none" stroke="#148a8c" stroke-width="1.7"/>
<text x="137" y="425.65" font-size="7.8" text-anchor="start" fill="#148a8c" >FM/PbS-QD</text>
<circle cx="127.50" cy="432.00" r="2.45" fill="none" stroke="#d49c14" stroke-width="1.7"/>
<text x="137" y="434.9" font-size="7.8" text-anchor="start" fill="#d49c14" >Ni/PbS-QD</text>
<circle cx="127.50" cy="441.25" r="2.45" fill="none" stroke="#f04aa8" stroke-width="1.7"/>
<text x="137" y="444.15" font-size="7.8" text-anchor="start" fill="#f04aa8" >Ni/FM/PbS-QD</text>
<path d="M424.6,388 L271.2,388 L271.2,518.9 L424.6,518.9" fill="none" stroke="#2b2b2b" stroke-width="1.2" stroke-linecap="square"/>
<line x1="269" y1="518.6" x2="271.2" y2="518.6" stroke="#2b2b2b" stroke-width="1.0" />
<text x="267.8" y="521.6" font-size="8.5" text-anchor="end" fill="#222" >0.0</text>
<line x1="269" y1="492.5" x2="271.2" y2="492.5" stroke="#2b2b2b" stroke-width="1.0" />
<text x="267.8" y="495.5" font-size="8.5" text-anchor="end" fill="#222" >0.4</text>
<line x1="269" y1="466.4" x2="271.2" y2="466.4" stroke="#2b2b2b" stroke-width="1.0" />
<text x="267.8" y="469.4" font-size="8.5" text-anchor="end" fill="#222" >0.8</text>
<line x1="269" y1="440.3" x2="271.2" y2="440.3" stroke="#2b2b2b" stroke-width="1.0" />
<text x="267.8" y="443.3" font-size="8.5" text-anchor="end" fill="#222" >1.2</text>
<line x1="269" y1="414.2" x2="271.2" y2="414.2" stroke="#2b2b2b" stroke-width="1.0" />
<text x="267.8" y="417.2" font-size="8.5" text-anchor="end" fill="#222" >1.6</text>
<line x1="269" y1="388.1" x2="271.2" y2="388.1" stroke="#2b2b2b" stroke-width="1.0" />
<text x="267.8" y="391.1" font-size="8.5" text-anchor="end" fill="#222" >2.0</text>
<line x1="269.9" y1="505.55" x2="271.2" y2="505.55" stroke="#2b2b2b" stroke-width="1.0" />
<line x1="269.9" y1="479.45" x2="271.2" y2="479.45" stroke="#2b2b2b" stroke-width="1.0" />
<line x1="269.9" y1="453.35" x2="271.2" y2="453.35" stroke="#2b2b2b" stroke-width="1.0" />
<line x1="269.9" y1="427.25" x2="271.2" y2="427.25" stroke="#2b2b2b" stroke-width="1.0" />
<line x1="269.9" y1="401.15" x2="271.2" y2="401.15" stroke="#2b2b2b" stroke-width="1.0" />
<line x1="286.8" y1="518.9" x2="286.8" y2="521.1" stroke="#2b2b2b" stroke-width="1.0" />
<text x="286.8" y="530.1" font-size="8.5" text-anchor="middle" fill="#222" >1.0</text>
<line x1="302.1" y1="518.9" x2="302.1" y2="520.2" stroke="#2b2b2b" stroke-width="1.0" />
<line x1="317.4" y1="518.9" x2="317.4" y2="521.1" stroke="#2b2b2b" stroke-width="1.0" />
<text x="317.4" y="530.1" font-size="8.5" text-anchor="middle" fill="#222" >1.2</text>
<line x1="332.7" y1="518.9" x2="332.7" y2="520.2" stroke="#2b2b2b" stroke-width="1.0" />
<line x1="348" y1="518.9" x2="348" y2="521.1" stroke="#2b2b2b" stroke-width="1.0" />
<text x="348" y="530.1" font-size="8.5" text-anchor="middle" fill="#222" >1.4</text>
<line x1="363.3" y1="518.9" x2="363.3" y2="520.2" stroke="#2b2b2b" stroke-width="1.0" />
<line x1="378.6" y1="518.9" x2="378.6" y2="521.1" stroke="#2b2b2b" stroke-width="1.0" />
<text x="378.6" y="530.1" font-size="8.5" text-anchor="middle" fill="#222" >1.6</text>
<line x1="393.9" y1="518.9" x2="393.9" y2="520.2" stroke="#2b2b2b" stroke-width="1.0" />
<line x1="409.2" y1="518.9" x2="409.2" y2="521.1" stroke="#2b2b2b" stroke-width="1.0" />
<text x="409.2" y="530.1" font-size="8.5" text-anchor="middle" fill="#222" >1.8</text>
<text x="348" y="541.3" font-size="9.6" text-anchor="middle" fill="#111"><tspan font-style="italic">E</tspan> (V vs. RHE)</text>
<text transform="translate(250,453.2) rotate(-90) scale(0.91,1)" font-size="10.4" text-anchor="middle" fill="#111"><tspan font-style="italic">R</tspan><tspan font-size="6.6" dy="1.8">rec</tspan><tspan dy="-1.8"> (kΩ)</tspan></text>
<line x1="424.6" y1="388" x2="424.6" y2="518.9" stroke="#4a90ea" stroke-width="1.15" />
<line x1="424.6" y1="518.9" x2="426.8" y2="518.9" stroke="#4a90ea" stroke-width="1.0" />
<text x="428.2" y="521.9" font-size="8.5" text-anchor="start" fill="#4a90ea" >0</text>
<line x1="424.6" y1="488.06" x2="426.8" y2="488.06" stroke="#4a90ea" stroke-width="1.0" />
<text x="428.2" y="491.06" font-size="8.5" text-anchor="start" fill="#4a90ea" >2</text>
<line x1="424.6" y1="457.22" x2="426.8" y2="457.22" stroke="#4a90ea" stroke-width="1.0" />
<text x="428.2" y="460.22" font-size="8.5" text-anchor="start" fill="#4a90ea" >4</text>
<line x1="424.6" y1="426.38" x2="426.8" y2="426.38" stroke="#4a90ea" stroke-width="1.0" />
<text x="428.2" y="429.38" font-size="8.5" text-anchor="start" fill="#4a90ea" >6</text>
<line x1="424.6" y1="395.54" x2="426.8" y2="395.54" stroke="#4a90ea" stroke-width="1.0" />
<text x="428.2" y="398.54" font-size="8.5" text-anchor="start" fill="#4a90ea" >8</text>
<line x1="424.6" y1="503.48" x2="425.9" y2="503.48" stroke="#4a90ea" stroke-width="1.0" />
<line x1="424.6" y1="472.64" x2="425.9" y2="472.64" stroke="#4a90ea" stroke-width="1.0" />
<line x1="424.6" y1="441.8" x2="425.9" y2="441.8" stroke="#4a90ea" stroke-width="1.0" />
<line x1="424.6" y1="410.96" x2="425.9" y2="410.96" stroke="#4a90ea" stroke-width="1.0" />
<text transform="translate(441.2,453.6) rotate(90) scale(0.91,1)" font-size="10.4" text-anchor="middle" fill="#4a90ea"><tspan font-style="italic">R</tspan><tspan font-size="6.6" dy="1.8">rec</tspan><tspan dy="-1.8"> (kΩ)</tspan></text>
<polyline points="286.80,399.52 302.10,399.19 317.40,403.50 332.70,403.24 348.00,427.25 363.30,421.38 378.60,441.21 393.90,448.78 409.20,450.22" fill="none" stroke="#148a8c" stroke-width="1" stroke-dasharray="1,2.5" stroke-opacity="0.35"/>
<polyline points="286.80,444.22 302.10,446.83 317.40,446.83 332.70,440.95 348.00,440.30 363.30,463.79 378.60,489.24 393.90,506.86 409.20,509.92" fill="none" stroke="#d49c14" stroke-width="1" stroke-dasharray="1,2.5" stroke-opacity="0.35"/>
<polyline points="286.80,515.73 302.10,514.03 317.40,514.75 332.70,514.23 348.00,514.88 363.30,517.43 378.60,516.64 393.90,516.64 409.20,515.79" fill="none" stroke="#f04aa8" stroke-width="1" stroke-dasharray="1,2.5" stroke-opacity="0.35"/>
<circle cx="286.80" cy="399.52" r="2.45" fill="none" stroke="#148a8c" stroke-width="1.7"/>
<circle cx="302.10" cy="399.19" r="2.45" fill="none" stroke="#148a8c" stroke-width="1.7"/>
<circle cx="317.40" cy="403.50" r="2.45" fill="none" stroke="#148a8c" stroke-width="1.7"/>
<circle cx="332.70" cy="403.24" r="2.45" fill="none" stroke="#148a8c" stroke-width="1.7"/>
<circle cx="348.00" cy="427.25" r="2.45" fill="none" stroke="#148a8c" stroke-width="1.7"/>
<circle cx="363.30" cy="421.38" r="2.45" fill="none" stroke="#148a8c" stroke-width="1.7"/>
<circle cx="378.60" cy="441.21" r="2.45" fill="none" stroke="#148a8c" stroke-width="1.7"/>
<circle cx="393.90" cy="448.78" r="2.45" fill="none" stroke="#148a8c" stroke-width="1.7"/>
<circle cx="409.20" cy="450.22" r="2.45" fill="none" stroke="#148a8c" stroke-width="1.7"/>
<circle cx="286.80" cy="444.22" r="2.45" fill="none" stroke="#d49c14" stroke-width="1.7"/>
<circle cx="302.10" cy="446.83" r="2.45" fill="none" stroke="#d49c14" stroke-width="1.7"/>
<circle cx="317.40" cy="446.83" r="2.45" fill="none" stroke="#d49c14" stroke-width="1.7"/>
<circle cx="332.70" cy="440.95" r="2.45" fill="none" stroke="#d49c14" stroke-width="1.7"/>
<circle cx="348.00" cy="440.30" r="2.45" fill="none" stroke="#d49c14" stroke-width="1.7"/>
<circle cx="363.30" cy="463.79" r="2.45" fill="none" stroke="#d49c14" stroke-width="1.7"/>
<circle cx="378.60" cy="489.24" r="2.45" fill="none" stroke="#d49c14" stroke-width="1.7"/>
<circle cx="393.90" cy="506.86" r="2.45" fill="none" stroke="#d49c14" stroke-width="1.7"/>
<circle cx="409.20" cy="509.92" r="2.45" fill="none" stroke="#d49c14" stroke-width="1.7"/>
<circle cx="286.80" cy="515.73" r="2.45" fill="none" stroke="#f04aa8" stroke-width="1.7"/>
<circle cx="302.10" cy="514.03" r="2.45" fill="none" stroke="#f04aa8" stroke-width="1.7"/>
<circle cx="317.40" cy="514.75" r="2.45" fill="none" stroke="#f04aa8" stroke-width="1.7"/>
<circle cx="332.70" cy="514.23" r="2.45" fill="none" stroke="#f04aa8" stroke-width="1.7"/>
<circle cx="348.00" cy="514.88" r="2.45" fill="none" stroke="#f04aa8" stroke-width="1.7"/>
<circle cx="363.30" cy="517.43" r="2.45" fill="none" stroke="#f04aa8" stroke-width="1.7"/>
<circle cx="378.60" cy="516.64" r="2.45" fill="none" stroke="#f04aa8" stroke-width="1.7"/>
<circle cx="393.90" cy="516.64" r="2.45" fill="none" stroke="#f04aa8" stroke-width="1.7"/>
<circle cx="409.20" cy="515.79" r="2.45" fill="none" stroke="#f04aa8" stroke-width="1.7"/>
<circle cx="284.30" cy="472.75" r="2.45" fill="none" stroke="#148a8c" stroke-width="1.7"/>
<text x="293.8" y="475.65" font-size="7.8" text-anchor="start" fill="#148a8c" >FM/PbS-QD</text>
<circle cx="284.30" cy="482.00" r="2.45" fill="none" stroke="#d49c14" stroke-width="1.7"/>
<text x="293.8" y="484.9" font-size="7.8" text-anchor="start" fill="#d49c14" >Ni/PbS-QD</text>
<circle cx="284.30" cy="491.25" r="2.45" fill="none" stroke="#f04aa8" stroke-width="1.7"/>
<text x="293.8" y="494.15" font-size="7.8" text-anchor="start" fill="#f04aa8" >Ni/FM/PbS-QD</text>
<ellipse cx="408.4" cy="450.4" rx="7.0" ry="10.9" fill="none" stroke="#f5b320" stroke-width="1.6" stroke-dasharray="4.2,1.7"/>
<line x1="415.5" y1="447.1" x2="429" y2="447.1" stroke="#f5b320" stroke-width="1.5" />
<polygon points="428,443.6 435.5,447.1 428,450.6" fill="#f5b320"/>
<path d="M657.6,388 L505.7,388 L505.7,519.2 L657.6,519.2" fill="none" stroke="#2b2b2b" stroke-width="1.2" stroke-linecap="square"/>
<line x1="503.5" y1="437.25" x2="505.7" y2="437.25" stroke="#2b2b2b" stroke-width="1.0" />
<text x="502.3" y="440.25" font-size="8.5" text-anchor="end" fill="#222" >12</text>
<line x1="503.5" y1="420.83" x2="505.7" y2="420.83" stroke="#2b2b2b" stroke-width="1.0" />
<text x="502.3" y="423.83" font-size="8.5" text-anchor="end" fill="#222" >16</text>
<line x1="503.5" y1="404.42" x2="505.7" y2="404.42" stroke="#2b2b2b" stroke-width="1.0" />
<text x="502.3" y="407.42" font-size="8.5" text-anchor="end" fill="#222" >20</text>
<line x1="503.5" y1="388" x2="505.7" y2="388" stroke="#2b2b2b" stroke-width="1.0" />
<text x="502.3" y="391" font-size="8.5" text-anchor="end" fill="#222" >24</text>
<line x1="504.4" y1="429.04" x2="505.7" y2="429.04" stroke="#2b2b2b" stroke-width="1.0" />
<line x1="504.4" y1="412.62" x2="505.7" y2="412.62" stroke="#2b2b2b" stroke-width="1.0" />
<line x1="504.4" y1="396.21" x2="505.7" y2="396.21" stroke="#2b2b2b" stroke-width="1.0" />
<line x1="503.5" y1="487" x2="505.7" y2="487" stroke="#2b2b2b" stroke-width="1.0" />
<text x="502.3" y="490" font-size="8.5" text-anchor="end" fill="#222" >2</text>
<line x1="503.5" y1="474" x2="505.7" y2="474" stroke="#2b2b2b" stroke-width="1.0" />
<text x="502.3" y="477" font-size="8.5" text-anchor="end" fill="#222" >3</text>
<line x1="503.5" y1="461" x2="505.7" y2="461" stroke="#2b2b2b" stroke-width="1.0" />
<text x="502.3" y="464" font-size="8.5" text-anchor="end" fill="#222" >4</text>
<line x1="504.4" y1="480.5" x2="505.7" y2="480.5" stroke="#2b2b2b" stroke-width="1.0" />
<line x1="504.4" y1="467.5" x2="505.7" y2="467.5" stroke="#2b2b2b" stroke-width="1.0" />
<line x1="504.4" y1="454.5" x2="505.7" y2="454.5" stroke="#2b2b2b" stroke-width="1.0" />
<line x1="503.5" y1="518.9" x2="505.7" y2="518.9" stroke="#2b2b2b" stroke-width="1.0" />
<text x="502.3" y="521.9" font-size="8.5" text-anchor="end" fill="#222" >0.0</text>
<line x1="503.5" y1="509.7" x2="505.7" y2="509.7" stroke="#2b2b2b" stroke-width="1.0" />
<text x="502.3" y="512.7" font-size="8.5" text-anchor="end" fill="#222" >0.2</text>
<line x1="503.5" y1="500.5" x2="505.7" y2="500.5" stroke="#2b2b2b" stroke-width="1.0" />
<text x="502.3" y="503.5" font-size="8.5" text-anchor="end" fill="#222" >0.4</text>
<line x1="504.4" y1="514.3" x2="505.7" y2="514.3" stroke="#2b2b2b" stroke-width="1.0" />
<line x1="504.4" y1="505.1" x2="505.7" y2="505.1" stroke="#2b2b2b" stroke-width="1.0" />
<rect x="502.7" y="445.0" width="6" height="2.6" fill="#fff"/>
<line x1="502.8" y1="446.6" x2="508.6" y2="443.8" stroke="#2b2b2b" stroke-width="1.0" />
<line x1="502.8" y1="448.8" x2="508.6" y2="446" stroke="#2b2b2b" stroke-width="1.0" />
<rect x="502.7" y="495.2" width="6" height="2.6" fill="#fff"/>
<line x1="502.8" y1="496.8" x2="508.6" y2="494" stroke="#2b2b2b" stroke-width="1.0" />
<line x1="502.8" y1="499" x2="508.6" y2="496.2" stroke="#2b2b2b" stroke-width="1.0" />
<line x1="520.3" y1="519.2" x2="520.3" y2="521.4" stroke="#2b2b2b" stroke-width="1.0" />
<text x="520.3" y="530.1" font-size="8.5" text-anchor="middle" fill="#222" >1.0</text>
<line x1="535.53" y1="519.2" x2="535.53" y2="520.5" stroke="#2b2b2b" stroke-width="1.0" />
<line x1="550.76" y1="519.2" x2="550.76" y2="521.4" stroke="#2b2b2b" stroke-width="1.0" />
<text x="550.76" y="530.1" font-size="8.5" text-anchor="middle" fill="#222" >1.2</text>
<line x1="565.99" y1="519.2" x2="565.99" y2="520.5" stroke="#2b2b2b" stroke-width="1.0" />
<line x1="581.22" y1="519.2" x2="581.22" y2="521.4" stroke="#2b2b2b" stroke-width="1.0" />
<text x="581.22" y="530.1" font-size="8.5" text-anchor="middle" fill="#222" >1.4</text>
<line x1="596.45" y1="519.2" x2="596.45" y2="520.5" stroke="#2b2b2b" stroke-width="1.0" />
<line x1="611.68" y1="519.2" x2="611.68" y2="521.4" stroke="#2b2b2b" stroke-width="1.0" />
<text x="611.68" y="530.1" font-size="8.5" text-anchor="middle" fill="#222" >1.6</text>
<line x1="626.91" y1="519.2" x2="626.91" y2="520.5" stroke="#2b2b2b" stroke-width="1.0" />
<line x1="642.14" y1="519.2" x2="642.14" y2="521.4" stroke="#2b2b2b" stroke-width="1.0" />
<text x="642.14" y="530.1" font-size="8.5" text-anchor="middle" fill="#222" >1.8</text>
<text x="581" y="541.3" font-size="9.6" text-anchor="middle" fill="#111"><tspan font-style="italic">E</tspan> (V vs. RHE)</text>
<text transform="translate(484.6,452.3) rotate(-90) scale(0.91,1)" font-size="10.4" text-anchor="middle" fill="#111"><tspan font-style="italic">C</tspan><tspan font-size="6.6" dy="1.8">rec</tspan><tspan dy="-1.8"> (10</tspan><tspan font-size="6.6" dy="-4">−5</tspan><tspan dy="4"> F)</tspan></text>
<line x1="657.6" y1="388" x2="657.6" y2="519.2" stroke="#4a90ea" stroke-width="1.15" />
<line x1="657.6" y1="518.6" x2="659.8" y2="518.6" stroke="#4a90ea" stroke-width="1.0" />
<text x="661.2" y="521.6" font-size="8.5" text-anchor="start" fill="#4a90ea" >0</text>
<line x1="657.6" y1="485.95" x2="659.8" y2="485.95" stroke="#4a90ea" stroke-width="1.0" />
<text x="661.2" y="488.95" font-size="8.5" text-anchor="start" fill="#4a90ea" >20</text>
<line x1="657.6" y1="453.3" x2="659.8" y2="453.3" stroke="#4a90ea" stroke-width="1.0" />
<text x="661.2" y="456.3" font-size="8.5" text-anchor="start" fill="#4a90ea" >40</text>
<line x1="657.6" y1="420.65" x2="659.8" y2="420.65" stroke="#4a90ea" stroke-width="1.0" />
<text x="661.2" y="423.65" font-size="8.5" text-anchor="start" fill="#4a90ea" >60</text>
<line x1="657.6" y1="388" x2="659.8" y2="388" stroke="#4a90ea" stroke-width="1.0" />
<text x="661.2" y="391" font-size="8.5" text-anchor="start" fill="#4a90ea" >80</text>
<line x1="657.6" y1="502.28" x2="658.9" y2="502.28" stroke="#4a90ea" stroke-width="1.0" />
<line x1="657.6" y1="469.62" x2="658.9" y2="469.62" stroke="#4a90ea" stroke-width="1.0" />
<line x1="657.6" y1="436.98" x2="658.9" y2="436.98" stroke="#4a90ea" stroke-width="1.0" />
<line x1="657.6" y1="404.33" x2="658.9" y2="404.33" stroke="#4a90ea" stroke-width="1.0" />
<text transform="translate(674.2,452.8) rotate(90) scale(0.91,1)" font-size="10.4" text-anchor="middle" fill="#4a90ea"><tspan font-style="italic">C</tspan><tspan font-size="6.6" dy="1.8">rec</tspan><tspan dy="-1.8"> (10</tspan><tspan font-size="6.6" dy="-4">−5</tspan><tspan dy="4"> F)</tspan></text>
<polyline points="520.30,506.48 535.53,506.25 550.76,510.76 565.99,509.24 581.22,505.24 596.45,500.73 611.68,501.51 626.91,499.76 642.14,507.77" fill="none" stroke="#148a8c" stroke-width="1" stroke-dasharray="1,2.5" stroke-opacity="0.35"/>
<polyline points="520.30,482.45 535.53,479.98 550.76,483.23 565.99,481.28 581.22,482.45 596.45,460.22 611.68,435.57 626.91,418.04 642.14,416.32" fill="none" stroke="#d49c14" stroke-width="1" stroke-dasharray="1,2.5" stroke-opacity="0.35"/>
<polyline points="520.30,408.77 535.53,413.53 550.76,406.76 565.99,409.26 581.22,397.77 596.45,403.02 611.68,403.27 626.91,400.02 642.14,396.41" fill="none" stroke="#f04aa8" stroke-width="1" stroke-dasharray="1,2.5" stroke-opacity="0.35"/>
<circle cx="520.30" cy="506.48" r="2.45" fill="none" stroke="#148a8c" stroke-width="1.7"/>
<circle cx="535.53" cy="506.25" r="2.45" fill="none" stroke="#148a8c" stroke-width="1.7"/>
<circle cx="550.76" cy="510.76" r="2.45" fill="none" stroke="#148a8c" stroke-width="1.7"/>
<circle cx="565.99" cy="509.24" r="2.45" fill="none" stroke="#148a8c" stroke-width="1.7"/>
<circle cx="581.22" cy="505.24" r="2.45" fill="none" stroke="#148a8c" stroke-width="1.7"/>
<circle cx="596.45" cy="500.73" r="2.45" fill="none" stroke="#148a8c" stroke-width="1.7"/>
<circle cx="611.68" cy="501.51" r="2.45" fill="none" stroke="#148a8c" stroke-width="1.7"/>
<circle cx="626.91" cy="499.76" r="2.45" fill="none" stroke="#148a8c" stroke-width="1.7"/>
<circle cx="642.14" cy="507.77" r="2.45" fill="none" stroke="#148a8c" stroke-width="1.7"/>
<circle cx="520.30" cy="482.45" r="2.45" fill="none" stroke="#d49c14" stroke-width="1.7"/>
<circle cx="535.53" cy="479.98" r="2.45" fill="none" stroke="#d49c14" stroke-width="1.7"/>
<circle cx="550.76" cy="483.23" r="2.45" fill="none" stroke="#d49c14" stroke-width="1.7"/>
<circle cx="565.99" cy="481.28" r="2.45" fill="none" stroke="#d49c14" stroke-width="1.7"/>
<circle cx="581.22" cy="482.45" r="2.45" fill="none" stroke="#d49c14" stroke-width="1.7"/>
<circle cx="596.45" cy="460.22" r="2.45" fill="none" stroke="#d49c14" stroke-width="1.7"/>
<circle cx="611.68" cy="435.57" r="2.45" fill="none" stroke="#d49c14" stroke-width="1.7"/>
<circle cx="626.91" cy="418.04" r="2.45" fill="none" stroke="#d49c14" stroke-width="1.7"/>
<circle cx="642.14" cy="416.32" r="2.45" fill="none" stroke="#d49c14" stroke-width="1.7"/>
<circle cx="520.30" cy="408.77" r="2.45" fill="none" stroke="#f04aa8" stroke-width="1.7"/>
<circle cx="535.53" cy="413.53" r="2.45" fill="none" stroke="#f04aa8" stroke-width="1.7"/>
<circle cx="550.76" cy="406.76" r="2.45" fill="none" stroke="#f04aa8" stroke-width="1.7"/>
<circle cx="565.99" cy="409.26" r="2.45" fill="none" stroke="#f04aa8" stroke-width="1.7"/>
<circle cx="581.22" cy="397.77" r="2.45" fill="none" stroke="#f04aa8" stroke-width="1.7"/>
<circle cx="596.45" cy="403.02" r="2.45" fill="none" stroke="#f04aa8" stroke-width="1.7"/>
<circle cx="611.68" cy="403.27" r="2.45" fill="none" stroke="#f04aa8" stroke-width="1.7"/>
<circle cx="626.91" cy="400.02" r="2.45" fill="none" stroke="#f04aa8" stroke-width="1.7"/>
<circle cx="642.14" cy="396.41" r="2.45" fill="none" stroke="#f04aa8" stroke-width="1.7"/>
<circle cx="519.00" cy="425.00" r="2.45" fill="none" stroke="#148a8c" stroke-width="1.7"/>
<text x="528.8" y="427.9" font-size="7.8" text-anchor="start" fill="#148a8c" >FM/PbS-QD</text>
<circle cx="519.00" cy="434.50" r="2.45" fill="none" stroke="#d49c14" stroke-width="1.7"/>
<text x="528.8" y="437.4" font-size="7.8" text-anchor="start" fill="#d49c14" >Ni/PbS-QD</text>
<circle cx="519.00" cy="443.75" r="2.45" fill="none" stroke="#f04aa8" stroke-width="1.7"/>
<text x="528.8" y="446.65" font-size="7.8" text-anchor="start" fill="#f04aa8" >Ni/FM/PbS-QD</text>
<ellipse cx="642.3" cy="397.2" rx="7.0" ry="11.0" fill="none" stroke="#f5b320" stroke-width="1.6" stroke-dasharray="4.2,1.7"/>
<line x1="649" y1="399.9" x2="666" y2="399.9" stroke="#f5b320" stroke-width="1.5" />
<polygon points="665,396.4 672.5,399.9 665,403.4" fill="#f5b320"/>
</svg></body></html>
